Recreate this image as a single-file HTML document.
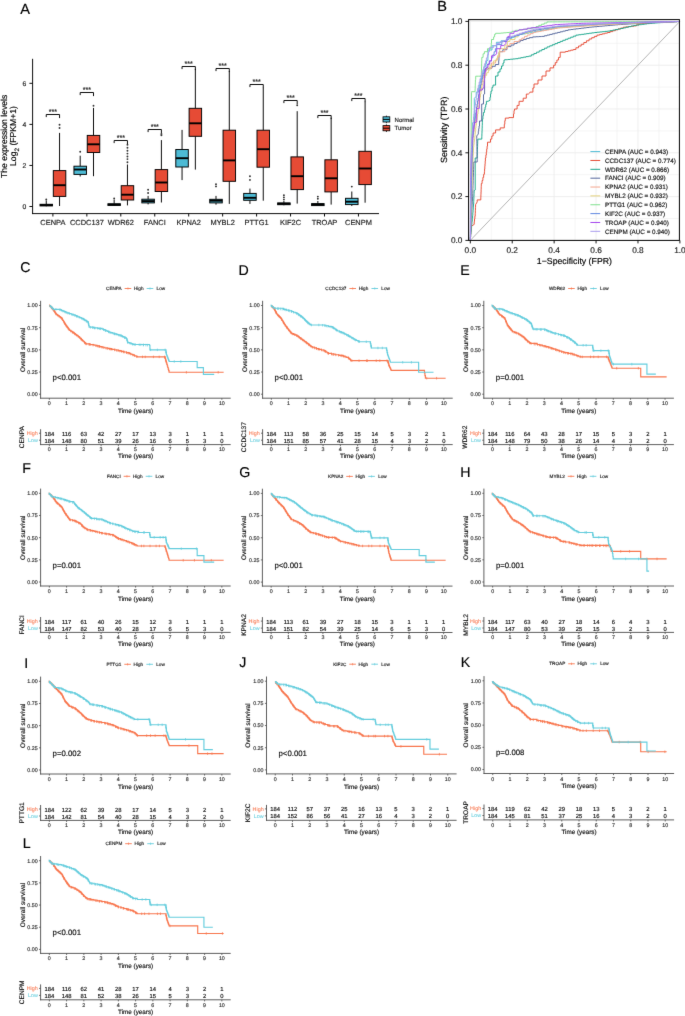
<!DOCTYPE html>
<html><head><meta charset="utf-8"><style>
html,body{margin:0;padding:0;background:#fff;}
body{width:685px;height:1016px;overflow:hidden;}
svg{display:block;will-change:transform;text-rendering:geometricPrecision;}
text{stroke-width:0.16px;font-family:"Liberation Sans", sans-serif;}
</style></head><body>
<svg width="685" height="1016" viewBox="0 0 685 1016">
<defs><filter id="soft" x="0" y="0" width="685" height="1016" filterUnits="userSpaceOnUse" color-interpolation-filters="sRGB"><feConvolveMatrix order="3" kernelMatrix="0.00524 0.06192 0.00524 0.06192 0.73137 0.06192 0.00524 0.06192 0.00524" edgeMode="duplicate"/></filter></defs>
<g filter="url(#soft)">
<rect width="685" height="1016" fill="#fff"/>
<text x="20.3" y="13.8" font-size="14.6" text-anchor="start" fill="#000" stroke="#000" >A</text>
<line x1="32.6" y1="58.8" x2="32.6" y2="214.05" stroke="#000" stroke-width="0.95" />
<line x1="32.15" y1="213.6" x2="379" y2="213.6" stroke="#000" stroke-width="0.95" />
<line x1="29.4" y1="206.5" x2="32.6" y2="206.5" stroke="#000" stroke-width="0.95" />
<text x="26.3" y="208.95" font-size="6.8" text-anchor="end" fill="#222" stroke="#222" >0</text>
<line x1="29.4" y1="165.44" x2="32.6" y2="165.44" stroke="#000" stroke-width="0.95" />
<text x="26.3" y="167.89" font-size="6.8" text-anchor="end" fill="#222" stroke="#222" >2</text>
<line x1="29.4" y1="124.38" x2="32.6" y2="124.38" stroke="#000" stroke-width="0.95" />
<text x="26.3" y="126.83" font-size="6.8" text-anchor="end" fill="#222" stroke="#222" >4</text>
<line x1="29.4" y1="83.32" x2="32.6" y2="83.32" stroke="#000" stroke-width="0.95" />
<text x="26.3" y="85.77" font-size="6.8" text-anchor="end" fill="#222" stroke="#222" >6</text>
<text transform="translate(7.0,136.4) rotate(-90)" font-size="8.65" text-anchor="middle" fill="#000" stroke="#000">The expression levels</text>
<text transform="translate(16.4,136.0) rotate(-90)" font-size="8.65" text-anchor="middle" fill="#000" stroke="#000">Log<tspan font-size="6.4" dy="2.2">2</tspan><tspan dy="-2.2"> (FPKM+1)</tspan></text>
<line x1="52.9" y1="213.6" x2="52.9" y2="216.5" stroke="#000" stroke-width="0.95" />
<text x="52.9" y="225" font-size="7.45" text-anchor="middle" fill="#222" stroke="#222" >CENPA</text>
<line x1="46.25" y1="200.4" x2="46.25" y2="204.3" stroke="#000" stroke-width="0.95" />
<line x1="46.25" y1="205.9" x2="46.25" y2="206.3" stroke="#000" stroke-width="0.95" />
<rect x="40" y="204.3" width="12.5" height="1.6" fill="#4DBBD5" stroke="#000" stroke-width="0.95"/>
<line x1="40" y1="205.1" x2="52.5" y2="205.1" stroke="#000" stroke-width="1.9" />
<circle cx="46.25" cy="199.4" r="0.95" fill="#333"/>
<line x1="59.55" y1="132.9" x2="59.55" y2="170.6" stroke="#000" stroke-width="0.95" />
<line x1="59.55" y1="196.4" x2="59.55" y2="206" stroke="#000" stroke-width="0.95" />
<rect x="53.3" y="170.6" width="12.5" height="25.8" fill="#E64B35" stroke="#000" stroke-width="0.95"/>
<line x1="53.3" y1="185.2" x2="65.8" y2="185.2" stroke="#000" stroke-width="1.9" />
<circle cx="59.55" cy="128" r="0.95" fill="#333"/>
<circle cx="59.55" cy="124.8" r="0.95" fill="#333"/>
<path d="M46.25 117.1V114.5H59.55V118.1" fill="none" stroke="#000" stroke-width="0.95"/>
<text x="52.9" y="114.05" font-size="7" text-anchor="middle" fill="#222" stroke="#222" >***</text>
<line x1="86.85" y1="213.6" x2="86.85" y2="216.5" stroke="#000" stroke-width="0.95" />
<text x="86.85" y="225" font-size="7.45" text-anchor="middle" fill="#222" stroke="#222" >CCDC137</text>
<line x1="80.2" y1="155.7" x2="80.2" y2="166.2" stroke="#000" stroke-width="0.95" />
<line x1="80.2" y1="174.4" x2="80.2" y2="176.5" stroke="#000" stroke-width="0.95" />
<rect x="73.95" y="166.2" width="12.5" height="8.2" fill="#4DBBD5" stroke="#000" stroke-width="0.95"/>
<line x1="73.95" y1="169.5" x2="86.45" y2="169.5" stroke="#000" stroke-width="1.9" />
<circle cx="80.2" cy="151.7" r="0.95" fill="#333"/>
<line x1="93.5" y1="107.9" x2="93.5" y2="135.4" stroke="#000" stroke-width="0.95" />
<line x1="93.5" y1="152.5" x2="93.5" y2="176.2" stroke="#000" stroke-width="0.95" />
<rect x="87.25" y="135.4" width="12.5" height="17.1" fill="#E64B35" stroke="#000" stroke-width="0.95"/>
<line x1="87.25" y1="144.3" x2="99.75" y2="144.3" stroke="#000" stroke-width="1.9" />
<circle cx="93.5" cy="105.8" r="0.95" fill="#333"/>
<path d="M80.2 95.1V92.5H93.5V96.1" fill="none" stroke="#000" stroke-width="0.95"/>
<text x="86.85" y="92.05" font-size="7" text-anchor="middle" fill="#222" stroke="#222" >***</text>
<line x1="120.8" y1="213.6" x2="120.8" y2="216.5" stroke="#000" stroke-width="0.95" />
<text x="120.8" y="225" font-size="7.45" text-anchor="middle" fill="#222" stroke="#222" >WDR62</text>
<line x1="114.15" y1="199.7" x2="114.15" y2="203.8" stroke="#000" stroke-width="0.95" />
<line x1="114.15" y1="205.4" x2="114.15" y2="206" stroke="#000" stroke-width="0.95" />
<rect x="107.9" y="203.8" width="12.5" height="1.6" fill="#4DBBD5" stroke="#000" stroke-width="0.95"/>
<line x1="107.9" y1="204.6" x2="120.4" y2="204.6" stroke="#000" stroke-width="1.9" />
<circle cx="114.15" cy="198.5" r="0.95" fill="#333"/>
<line x1="127.45" y1="164.5" x2="127.45" y2="185.7" stroke="#000" stroke-width="0.95" />
<line x1="127.45" y1="200" x2="127.45" y2="205.4" stroke="#000" stroke-width="0.95" />
<rect x="121.2" y="185.7" width="12.5" height="14.3" fill="#E64B35" stroke="#000" stroke-width="0.95"/>
<line x1="121.2" y1="194.7" x2="133.7" y2="194.7" stroke="#000" stroke-width="1.9" />
<circle cx="127.45" cy="162.3" r="0.95" fill="#333"/>
<circle cx="127.45" cy="159.1" r="0.95" fill="#333"/>
<circle cx="127.45" cy="156.5" r="0.95" fill="#333"/>
<circle cx="127.45" cy="153.6" r="0.95" fill="#333"/>
<circle cx="127.45" cy="150.7" r="0.95" fill="#333"/>
<circle cx="127.45" cy="147.7" r="0.95" fill="#333"/>
<circle cx="127.45" cy="144.8" r="0.95" fill="#333"/>
<path d="M114.15 143.1V140.5H127.45V144.1" fill="none" stroke="#000" stroke-width="0.95"/>
<text x="120.8" y="140.05" font-size="7" text-anchor="middle" fill="#222" stroke="#222" >***</text>
<line x1="154.75" y1="213.6" x2="154.75" y2="216.5" stroke="#000" stroke-width="0.95" />
<text x="154.75" y="225" font-size="7.45" text-anchor="middle" fill="#222" stroke="#222" >FANCI</text>
<line x1="148.1" y1="195.9" x2="148.1" y2="199.2" stroke="#000" stroke-width="0.95" />
<line x1="148.1" y1="202.9" x2="148.1" y2="204.4" stroke="#000" stroke-width="0.95" />
<rect x="141.85" y="199.2" width="12.5" height="3.7" fill="#4DBBD5" stroke="#000" stroke-width="0.95"/>
<line x1="141.85" y1="201.1" x2="154.35" y2="201.1" stroke="#000" stroke-width="1.9" />
<circle cx="148.1" cy="193" r="0.95" fill="#333"/>
<circle cx="148.1" cy="189.8" r="0.95" fill="#333"/>
<line x1="161.4" y1="140.1" x2="161.4" y2="169.6" stroke="#000" stroke-width="0.95" />
<line x1="161.4" y1="191.5" x2="161.4" y2="202.5" stroke="#000" stroke-width="0.95" />
<rect x="155.15" y="169.6" width="12.5" height="21.9" fill="#E64B35" stroke="#000" stroke-width="0.95"/>
<line x1="155.15" y1="182.5" x2="167.65" y2="182.5" stroke="#000" stroke-width="1.9" />
<circle cx="161.4" cy="135.3" r="0.95" fill="#333"/>
<circle cx="161.4" cy="133.9" r="0.95" fill="#333"/>
<path d="M148.1 132.1V129.5H161.4V133.1" fill="none" stroke="#000" stroke-width="0.95"/>
<text x="154.75" y="129.05" font-size="7" text-anchor="middle" fill="#222" stroke="#222" >***</text>
<line x1="188.7" y1="213.6" x2="188.7" y2="216.5" stroke="#000" stroke-width="0.95" />
<text x="188.7" y="225" font-size="7.45" text-anchor="middle" fill="#222" stroke="#222" >KPNA2</text>
<line x1="182.05" y1="129.9" x2="182.05" y2="149.5" stroke="#000" stroke-width="0.95" />
<line x1="182.05" y1="167" x2="182.05" y2="180.1" stroke="#000" stroke-width="0.95" />
<rect x="175.8" y="149.5" width="12.5" height="17.5" fill="#4DBBD5" stroke="#000" stroke-width="0.95"/>
<line x1="175.8" y1="158.2" x2="188.3" y2="158.2" stroke="#000" stroke-width="1.9" />
<line x1="195.35" y1="68.9" x2="195.35" y2="108.3" stroke="#000" stroke-width="0.95" />
<line x1="195.35" y1="136.3" x2="195.35" y2="169.6" stroke="#000" stroke-width="0.95" />
<rect x="189.1" y="108.3" width="12.5" height="28" fill="#E64B35" stroke="#000" stroke-width="0.95"/>
<line x1="189.1" y1="123.3" x2="201.6" y2="123.3" stroke="#000" stroke-width="1.9" />
<path d="M182.05 69.1V66.5H195.35V70.1" fill="none" stroke="#000" stroke-width="0.95"/>
<text x="188.7" y="66.05" font-size="7" text-anchor="middle" fill="#222" stroke="#222" >***</text>
<line x1="222.65" y1="213.6" x2="222.65" y2="216.5" stroke="#000" stroke-width="0.95" />
<text x="222.65" y="225" font-size="7.45" text-anchor="middle" fill="#222" stroke="#222" >MYBL2</text>
<line x1="216" y1="195.9" x2="216" y2="199.3" stroke="#000" stroke-width="0.95" />
<line x1="216" y1="202.9" x2="216" y2="204.7" stroke="#000" stroke-width="0.95" />
<rect x="209.75" y="199.3" width="12.5" height="3.6" fill="#4DBBD5" stroke="#000" stroke-width="0.95"/>
<line x1="209.75" y1="200.7" x2="222.25" y2="200.7" stroke="#000" stroke-width="1.9" />
<circle cx="216" cy="186.4" r="0.95" fill="#333"/>
<circle cx="216" cy="184.2" r="0.95" fill="#333"/>
<line x1="229.3" y1="71.1" x2="229.3" y2="130.2" stroke="#000" stroke-width="0.95" />
<line x1="229.3" y1="181.3" x2="229.3" y2="203.9" stroke="#000" stroke-width="0.95" />
<rect x="223.05" y="130.2" width="12.5" height="51.1" fill="#E64B35" stroke="#000" stroke-width="0.95"/>
<line x1="223.05" y1="160.4" x2="235.55" y2="160.4" stroke="#000" stroke-width="1.9" />
<path d="M216 71.1V68.5H229.3V72.1" fill="none" stroke="#000" stroke-width="0.95"/>
<text x="222.65" y="68.05" font-size="7" text-anchor="middle" fill="#222" stroke="#222" >***</text>
<line x1="256.6" y1="213.6" x2="256.6" y2="216.5" stroke="#000" stroke-width="0.95" />
<text x="256.6" y="225" font-size="7.45" text-anchor="middle" fill="#222" stroke="#222" >PTTG1</text>
<line x1="249.95" y1="188.6" x2="249.95" y2="193.4" stroke="#000" stroke-width="0.95" />
<line x1="249.95" y1="200.3" x2="249.95" y2="203.9" stroke="#000" stroke-width="0.95" />
<rect x="243.7" y="193.4" width="12.5" height="6.9" fill="#4DBBD5" stroke="#000" stroke-width="0.95"/>
<line x1="243.7" y1="197.8" x2="256.2" y2="197.8" stroke="#000" stroke-width="1.9" />
<circle cx="249.95" cy="179.9" r="0.95" fill="#333"/>
<circle cx="249.95" cy="176.2" r="0.95" fill="#333"/>
<line x1="263.25" y1="87.8" x2="263.25" y2="130.2" stroke="#000" stroke-width="0.95" />
<line x1="263.25" y1="167.2" x2="263.25" y2="200.7" stroke="#000" stroke-width="0.95" />
<rect x="257" y="130.2" width="12.5" height="37" fill="#E64B35" stroke="#000" stroke-width="0.95"/>
<line x1="257" y1="149.2" x2="269.5" y2="149.2" stroke="#000" stroke-width="1.9" />
<path d="M249.95 87.1V84.5H263.25V88.1" fill="none" stroke="#000" stroke-width="0.95"/>
<text x="256.6" y="84.05" font-size="7" text-anchor="middle" fill="#222" stroke="#222" >***</text>
<line x1="290.55" y1="213.6" x2="290.55" y2="216.5" stroke="#000" stroke-width="0.95" />
<text x="290.55" y="225" font-size="7.45" text-anchor="middle" fill="#222" stroke="#222" >KIF2C</text>
<line x1="283.9" y1="201" x2="283.9" y2="202.9" stroke="#000" stroke-width="0.95" />
<line x1="283.9" y1="204.7" x2="283.9" y2="205.3" stroke="#000" stroke-width="0.95" />
<rect x="277.65" y="202.9" width="12.5" height="1.8" fill="#4DBBD5" stroke="#000" stroke-width="0.95"/>
<line x1="277.65" y1="203.8" x2="290.15" y2="203.8" stroke="#000" stroke-width="1.9" />
<circle cx="283.9" cy="199.6" r="0.95" fill="#333"/>
<circle cx="283.9" cy="197.4" r="0.95" fill="#333"/>
<circle cx="283.9" cy="195.2" r="0.95" fill="#333"/>
<line x1="297.2" y1="111.2" x2="297.2" y2="156.9" stroke="#000" stroke-width="0.95" />
<line x1="297.2" y1="189.6" x2="297.2" y2="203.6" stroke="#000" stroke-width="0.95" />
<rect x="290.95" y="156.9" width="12.5" height="32.7" fill="#E64B35" stroke="#000" stroke-width="0.95"/>
<line x1="290.95" y1="176.2" x2="303.45" y2="176.2" stroke="#000" stroke-width="1.9" />
<circle cx="297.2" cy="105.3" r="0.95" fill="#333"/>
<path d="M283.9 103.1V100.5H297.2V104.1" fill="none" stroke="#000" stroke-width="0.95"/>
<text x="290.55" y="100.05" font-size="7" text-anchor="middle" fill="#222" stroke="#222" >***</text>
<line x1="324.5" y1="213.6" x2="324.5" y2="216.5" stroke="#000" stroke-width="0.95" />
<text x="324.5" y="225" font-size="7.45" text-anchor="middle" fill="#222" stroke="#222" >TROAP</text>
<line x1="317.85" y1="201" x2="317.85" y2="203.6" stroke="#000" stroke-width="0.95" />
<line x1="317.85" y1="205.6" x2="317.85" y2="205.8" stroke="#000" stroke-width="0.95" />
<rect x="311.6" y="203.6" width="12.5" height="2" fill="#4DBBD5" stroke="#000" stroke-width="0.95"/>
<line x1="311.6" y1="204.6" x2="324.1" y2="204.6" stroke="#000" stroke-width="1.9" />
<circle cx="317.85" cy="198.8" r="0.95" fill="#333"/>
<circle cx="317.85" cy="196.6" r="0.95" fill="#333"/>
<line x1="331.15" y1="117.7" x2="331.15" y2="159.8" stroke="#000" stroke-width="0.95" />
<line x1="331.15" y1="191.9" x2="331.15" y2="204.6" stroke="#000" stroke-width="0.95" />
<rect x="324.9" y="159.8" width="12.5" height="32.1" fill="#E64B35" stroke="#000" stroke-width="0.95"/>
<line x1="324.9" y1="178.3" x2="337.4" y2="178.3" stroke="#000" stroke-width="1.9" />
<path d="M317.85 118.1V115.5H331.15V119.1" fill="none" stroke="#000" stroke-width="0.95"/>
<text x="324.5" y="115.05" font-size="7" text-anchor="middle" fill="#222" stroke="#222" >***</text>
<line x1="358.45" y1="213.6" x2="358.45" y2="216.5" stroke="#000" stroke-width="0.95" />
<text x="358.45" y="225" font-size="7.45" text-anchor="middle" fill="#222" stroke="#222" >CENPM</text>
<line x1="351.8" y1="191.5" x2="351.8" y2="198.3" stroke="#000" stroke-width="0.95" />
<line x1="351.8" y1="204.6" x2="351.8" y2="206" stroke="#000" stroke-width="0.95" />
<rect x="345.55" y="198.3" width="12.5" height="6.3" fill="#4DBBD5" stroke="#000" stroke-width="0.95"/>
<line x1="345.55" y1="201.7" x2="358.05" y2="201.7" stroke="#000" stroke-width="1.9" />
<circle cx="351.8" cy="186.6" r="0.95" fill="#333"/>
<line x1="365.1" y1="101.7" x2="365.1" y2="151.3" stroke="#000" stroke-width="0.95" />
<line x1="365.1" y1="184.6" x2="365.1" y2="202.7" stroke="#000" stroke-width="0.95" />
<rect x="358.85" y="151.3" width="12.5" height="33.3" fill="#E64B35" stroke="#000" stroke-width="0.95"/>
<line x1="358.85" y1="168.5" x2="371.35" y2="168.5" stroke="#000" stroke-width="1.9" />
<path d="M351.8 101.1V98.5H365.1V102.1" fill="none" stroke="#000" stroke-width="0.95"/>
<text x="358.45" y="98.05" font-size="7" text-anchor="middle" fill="#222" stroke="#222" >***</text>
<line x1="386.4" y1="115.6" x2="386.4" y2="123.2" stroke="#000" stroke-width="0.8" />
<rect x="383" y="116.8" width="6.8" height="5.2" fill="#4DBBD5" stroke="#000" stroke-width="0.8"/>
<line x1="383" y1="119.4" x2="389.8" y2="119.4" stroke="#000" stroke-width="1" />
<text x="394.6" y="121.5" font-size="6" text-anchor="start" fill="#222" stroke="#222" >Normal</text>
<line x1="386.4" y1="124.4" x2="386.4" y2="132" stroke="#000" stroke-width="0.8" />
<rect x="383" y="125.6" width="6.8" height="5.2" fill="#E64B35" stroke="#000" stroke-width="0.8"/>
<line x1="383" y1="128.2" x2="389.8" y2="128.2" stroke="#000" stroke-width="1" />
<text x="394.6" y="130.3" font-size="6" text-anchor="start" fill="#222" stroke="#222" >Tumor</text>
<text x="437.2" y="10.5" font-size="14.6" text-anchor="start" fill="#000" stroke="#000" >B</text>
<line x1="470.3" y1="19.6" x2="470.3" y2="240.4" stroke="#EBEBEB" stroke-width="0.85" />
<line x1="491.26" y1="19.6" x2="491.26" y2="240.4" stroke="#EBEBEB" stroke-width="0.5" />
<line x1="468.6" y1="218.5" x2="679.4" y2="218.5" stroke="#EBEBEB" stroke-width="0.5" />
<line x1="512.22" y1="19.6" x2="512.22" y2="240.4" stroke="#EBEBEB" stroke-width="0.85" />
<line x1="468.6" y1="196.6" x2="679.4" y2="196.6" stroke="#EBEBEB" stroke-width="0.85" />
<line x1="533.18" y1="19.6" x2="533.18" y2="240.4" stroke="#EBEBEB" stroke-width="0.5" />
<line x1="468.6" y1="174.7" x2="679.4" y2="174.7" stroke="#EBEBEB" stroke-width="0.5" />
<line x1="554.14" y1="19.6" x2="554.14" y2="240.4" stroke="#EBEBEB" stroke-width="0.85" />
<line x1="468.6" y1="152.8" x2="679.4" y2="152.8" stroke="#EBEBEB" stroke-width="0.85" />
<line x1="575.1" y1="19.6" x2="575.1" y2="240.4" stroke="#EBEBEB" stroke-width="0.5" />
<line x1="468.6" y1="130.9" x2="679.4" y2="130.9" stroke="#EBEBEB" stroke-width="0.5" />
<line x1="596.06" y1="19.6" x2="596.06" y2="240.4" stroke="#EBEBEB" stroke-width="0.85" />
<line x1="468.6" y1="109" x2="679.4" y2="109" stroke="#EBEBEB" stroke-width="0.85" />
<line x1="617.02" y1="19.6" x2="617.02" y2="240.4" stroke="#EBEBEB" stroke-width="0.5" />
<line x1="468.6" y1="87.1" x2="679.4" y2="87.1" stroke="#EBEBEB" stroke-width="0.5" />
<line x1="637.98" y1="19.6" x2="637.98" y2="240.4" stroke="#EBEBEB" stroke-width="0.85" />
<line x1="468.6" y1="65.2" x2="679.4" y2="65.2" stroke="#EBEBEB" stroke-width="0.85" />
<line x1="658.94" y1="19.6" x2="658.94" y2="240.4" stroke="#EBEBEB" stroke-width="0.5" />
<line x1="468.6" y1="43.3" x2="679.4" y2="43.3" stroke="#EBEBEB" stroke-width="0.5" />
<line x1="468.6" y1="21.4" x2="679.4" y2="21.4" stroke="#EBEBEB" stroke-width="0.85" />
<line x1="470.3" y1="240.4" x2="679.9" y2="21.4" stroke="#B5B5B5" stroke-width="1" />
<path d="M470.40 240.00V237.33H470.44V234.67H470.48V232.00H470.52V229.33H470.56V226.67H470.60V224.00H470.64V221.33H470.68V218.67H470.72V216.00H470.76V213.33H470.80V210.67H470.84V208.00H470.88V205.33H470.92V202.67H470.96V200.00H471.00V197.33H471.05V194.67H471.11V192.00H471.16V189.33H471.21V186.67H471.27V184.00H471.32V181.33H471.37V178.67H471.43V176.00H471.48V173.33H471.53V170.67H471.59V168.00H471.64V165.33H471.69V162.67H471.75V160.00H471.80V157.27H471.86V154.55H471.93V151.82H471.99V149.09H472.05V146.36H472.12V143.64H472.18V140.91H472.25V138.18H472.31V135.45H472.37V132.73H472.44V130.00H472.50V126.35H472.65V122.70H472.80L474.30 122.00L474.30 98.50L476.20 96.20V92.10H478.30V88.00H479.30V85.10H479.95V82.20H480.60V79.15H481.45V76.10H482.30V73.05H483.15V70.00H484.00V66.80H485.30V63.60H486.60V60.40H487.90L488.00 55.00V50.00H492.00V45.80H496.40L496.40 44.00V42.30H501.00V40.80H506.00V39.64H508.80V38.48H511.60V37.32H514.40V36.16H517.20V35.00H520.00V34.43H522.86V33.86H525.71V33.29H528.57V32.71H531.43V32.14H534.29V31.57H537.14V31.00H540.00V30.50H542.86V30.00H545.71V29.50H548.57V29.00H551.43V28.50H554.29V28.00H557.14V27.50H560.00V27.30H562.67V27.10H565.33V26.90H568.00V26.70H570.67V26.50H573.33V26.30H576.00V26.10H578.67V25.90H581.33V25.70H584.00V25.50H586.67V25.30H589.33V25.10H592.00V24.90H594.67V24.70H597.33V24.50H600.00V24.40H602.67V24.30H605.33V24.20H608.00V24.10H610.67V24.00H613.33V23.90H616.00V23.80H618.67V23.70H621.33V23.60H624.00V23.50H626.67V23.40H629.33V23.30H632.00V23.20H634.67V23.10H637.33V23.00H640.00V22.90H642.66V22.80H645.32V22.70H647.98V22.60H650.64V22.50H653.30V22.40H655.96V22.30H658.62V22.20H661.28V22.10H663.94V22.00H666.60V21.90H669.26V21.80H671.92V21.70H674.58V21.60H677.24V21.50H679.90" fill="none" stroke="#4DBBD5" stroke-width="0.95" stroke-linejoin="miter"/>
<path d="M470.40 240.00V237.33H470.60V234.67H470.80V232.00H471.00V229.00H471.30V226.00H471.60L474.20 224.40V221.67H474.53V218.93H474.87V216.20H475.20V213.27H475.32V210.35H475.45V207.43H475.57V204.50H475.70L477.20 201.90V199.90H480.80V197.24H480.90V194.58H481.00V191.92H481.10V189.26H481.20V186.60H481.30V183.55H482.10V180.50H482.90V177.40H483.65V174.30H484.40V171.66H484.60V169.02H484.80V166.38H485.00V163.74H485.20V161.10H485.40V158.00H485.90V155.05H486.30V152.10H486.70V149.15H487.10V146.20H487.50V142.20H490.50V139.10H491.80V136.00H493.10V133.00H495.60V129.90H500.20V127.90H504.30V124.30H504.80V120.70H505.30V118.10H508.90V117.60H513.50V114.05H514.00V110.50H514.50V109.00H517.10V105.40H519.10V101.30H523.20V98.20H526.30V94.10H528.30L529.90 92.60V92.10H532.90V88.00H534.00V84.00H538.00V80.00H542.00V76.00H546.00V71.00H550.00V67.90H553.60V65.28H555.25V62.65H556.90V60.02H558.55V57.40H560.20V52.20H565.40V51.53H568.02V50.85H570.65V50.17H573.27V49.50H575.90V47.77H578.53V46.03H581.17V44.30H583.80V42.53H586.43V40.77H589.07V39.00H591.70V37.70H594.33V36.40H596.97V35.10H599.60V34.45H602.23V33.80H604.85V33.15H607.48V32.50H610.10V31.60H612.73V30.70H615.37V29.80H618.00V28.93H620.63V28.07H623.27V27.20H625.90V26.88H628.52V26.55H631.15V26.22H633.77V25.90H636.40V24.85H639.00V23.80H641.60V23.52H644.23V23.25H646.85V22.98H649.48V22.70H652.10V22.58H654.88V22.46H657.66V22.34H660.44V22.22H663.22V22.10H666.00V21.98H668.78V21.86H671.56V21.74H674.34V21.62H677.12V21.50H679.90" fill="none" stroke="#E64B35" stroke-width="0.95" stroke-linejoin="miter"/>
<path d="M470.40 240.00V236.88H470.70V233.75H471.00V230.62H471.30V227.50H471.60V224.43H471.93V221.37H472.27V218.30H472.60V215.44H472.82V212.58H473.04V209.72H473.26V206.86H473.48V204.00H473.70V201.34H473.80V198.68H473.90V196.02H474.00V193.36H474.10V190.70H474.20L475.20 190.00L475.20 162.00V158.00H477.20V155.18H477.30V152.37H477.40V149.55H477.50V146.73H477.60V143.92H477.70V141.10H477.80V139.10H481.80V136.37H481.90V133.63H482.00V130.90H482.10V128.17H482.20V125.43H482.30V122.70H482.40V119.15H482.90V115.60H483.40V112.50H484.40V109.80H485.07V107.10H485.73V104.40H486.40V101.30H488.00L490.00 100.30V97.20H490.50V94.10H491.00V91.10H492.00V87.30H493.00V85.10H495.60L495.60 80.00V76.00H498.00V72.00H500.00V69.00H501.50V66.00H503.00V63.00H504.00V60.00H505.00V59.74H507.62V59.48H510.24V59.22H512.86V58.96H515.48V58.70H518.10V58.18H520.74V57.66H523.38V57.14H526.02V56.62H528.66V56.10H531.30V54.79H533.93V53.47H536.56V52.16H539.19V50.84H541.81V49.53H544.44V48.21H547.07V46.90H549.70V45.80H552.32V44.70H554.93V43.60H557.55V42.50H560.17V41.40H562.78V40.30H565.40V39.26H568.04V38.22H570.68V37.18H573.32V36.14H575.96V35.10H578.60V34.73H581.23V34.36H583.86V33.99H586.49V33.61H589.11V33.24H591.74V32.87H594.37V32.50H597.00V32.22H599.62V31.94H602.24V31.66H604.86V31.38H607.48V31.10H610.10V30.58H612.72V30.06H615.34V29.54H617.96V29.02H620.58V28.50H623.20V27.88H625.84V27.26H628.48V26.64H631.12V26.02H633.76V25.40H636.40V25.05H639.02V24.70H641.63V24.35H644.25V24.00H646.87V23.65H649.48V23.30H652.10V23.12H654.88V22.94H657.66V22.76H660.44V22.58H663.22V22.40H666.00V22.22H668.78V22.04H671.56V21.86H674.34V21.68H677.12V21.50H679.90" fill="none" stroke="#1BA68C" stroke-width="0.95" stroke-linejoin="miter"/>
<path d="M470.40 240.00V237.22H470.52V234.44H470.64V231.67H470.77V228.89H470.89V226.11H471.01V223.33H471.13V220.56H471.26V217.78H471.38V215.00H471.50V212.33H471.68V209.67H471.87V207.00H472.05V204.33H472.23V201.67H472.42V199.00H472.60V196.33H472.69V193.67H472.78V191.00H472.88V188.33H472.97V185.67H473.06V183.00H473.15V180.33H473.24V177.67H473.33V175.00H473.43V172.33H473.52V169.67H473.61V167.00H473.70V162.00H477.20V159.40H477.15V156.80H477.10V154.20H477.05V151.60H477.00V149.00H476.95V146.40H476.90V143.80H476.85V141.20H476.80V138.60H476.75V136.00H476.70L478.30 134.00V131.33H478.70V128.67H479.10V126.00H479.50L479.50 121.00L481.70 121.00L481.70 107.00V104.00H483.50L483.50 94.60L484.60 94.00L484.60 80.00V76.67H484.73V73.33H484.87V70.00H485.00V69.05H488.50V68.10H492.00V66.30H495.35V64.50H498.70V60.65H498.95V56.80H499.20V51.70H502.80V49.70H506.90V46.60H511.00V45.05H514.05V43.50H517.10V42.00H520.15V40.50H523.20V39.45H526.30V38.40H529.40V37.65H532.70V36.90H536.00V36.73H538.80V36.57H541.60V36.40H544.40V35.74H547.03V35.08H549.66V34.42H552.29V33.76H554.92V33.10H557.55V32.44H560.18V31.78H562.81V31.12H565.44V30.46H568.07V29.80H570.70V29.48H573.33V29.15H575.95V28.82H578.58V28.50H581.20V28.18H583.83V27.85H586.45V27.52H589.08V27.20H591.70V26.96H594.33V26.73H596.95V26.49H599.58V26.25H602.21V26.02H604.84V25.78H607.46V25.55H610.09V25.31H612.72V25.07H615.35V24.84H617.97V24.60H620.60V24.44H623.23V24.28H625.85V24.11H628.48V23.95H631.10V23.79H633.73V23.62H636.35V23.46H638.98V23.30H641.60V23.17H644.34V23.04H647.07V22.91H649.81V22.79H652.54V22.66H655.28V22.53H658.01V22.40H660.75V22.27H663.49V22.14H666.22V22.01H668.96V21.89H671.69V21.76H674.43V21.63H677.16V21.50H679.90" fill="none" stroke="#55679C" stroke-width="0.95" stroke-linejoin="miter"/>
<path d="M470.40 240.00V237.33H470.45V234.67H470.51V232.00H470.56V229.33H470.61V226.67H470.67V224.00H470.72V221.33H470.77V218.67H470.83V216.00H470.88V213.33H470.93V210.67H470.99V208.00H471.04V205.33H471.09V202.67H471.15V200.00H471.20V197.27H471.27V194.55H471.35V191.82H471.42V189.09H471.49V186.36H471.56V183.64H471.64V180.91H471.71V178.18H471.78V175.45H471.85V172.73H471.93V170.00H472.00V167.27H472.09V164.55H472.18V161.82H472.27V159.09H472.36V156.36H472.45V153.64H472.55V150.91H472.64V148.18H472.73V145.45H472.82V142.73H472.91V140.00H473.00V137.00H473.40V134.00H473.80V131.00H474.20V128.00H474.60V125.00H475.00V122.00H475.40V119.00H475.80V116.00H476.20V113.00H476.60V110.00H477.00V107.00H477.50V104.00H478.00V101.00H478.50V98.00H479.00V94.67H479.67V91.33H480.33V88.00H481.00V84.67H481.83V81.33H482.67V78.00H483.50V74.55H484.95V71.10H486.40V68.10H491.50V63.00H495.60V59.90H497.65V56.80H499.70V51.70H504.80V48.65H507.35V45.60H509.90V43.50H514.00V41.50H519.10V39.80H521.83V38.10H524.57V36.40H527.30V35.03H530.20V33.67H533.10V32.30H536.00V31.82H538.67V31.34H541.33V30.87H544.00V30.39H546.67V29.91H549.33V29.43H552.00V28.96H554.67V28.48H557.33V28.00H560.00V27.80H562.67V27.60H565.33V27.40H568.00V27.20H570.67V27.00H573.33V26.80H576.00V26.60H578.67V26.40H581.33V26.20H584.00V26.00H586.67V25.80H589.33V25.60H592.00V25.40H594.67V25.20H597.33V25.00H600.00V24.87H602.67V24.73H605.33V24.60H608.00V24.47H610.67V24.33H613.33V24.20H616.00V24.07H618.67V23.93H621.33V23.80H624.00V23.67H626.67V23.53H629.33V23.40H632.00V23.27H634.67V23.13H637.33V23.00H640.00V22.90H642.66V22.80H645.32V22.70H647.98V22.60H650.64V22.50H653.30V22.40H655.96V22.30H658.62V22.20H661.28V22.10H663.94V22.00H666.60V21.90H669.26V21.80H671.92V21.70H674.58V21.60H677.24V21.50H679.90" fill="none" stroke="#F4A68E" stroke-width="0.95" stroke-linejoin="miter"/>
<path d="M470.40 240.00V237.31H470.47V234.62H470.54V231.92H470.61V229.23H470.68V226.54H470.75V223.85H470.82V221.15H470.88V218.46H470.95V215.77H471.02V213.08H471.09V210.38H471.16V207.69H471.23V205.00H471.30V202.27H471.40V199.55H471.50V196.82H471.60V194.09H471.70V191.36H471.80V188.64H471.90V185.91H472.00V183.18H472.10V180.45H472.20V177.73H472.30V175.00H472.40V172.22H472.52V169.44H472.64V166.67H472.77V163.89H472.89V161.11H473.01V158.33H473.13V155.56H473.26V152.78H473.38V150.00H473.50V147.25H473.81V144.50H474.12V141.75H474.44V139.00H474.75V136.25H475.06V133.50H475.38V130.75H475.69V128.00H476.00V125.20H476.40V122.40H476.80V119.60H477.20V116.80H477.60V114.00H478.00V111.20H478.40V108.40H478.80V105.60H479.20V102.80H479.60V100.00H480.00V97.00H480.50V94.00H481.00V91.00H481.50V88.00H482.00V84.67H483.00V81.33H484.00V78.00H485.00V75.33H486.67V72.67H488.33V70.00H490.00V65.00H493.60V60.90H496.70V58.17H497.70V55.43H498.70V52.70H499.70V48.70H504.80V45.10H507.35V41.50H509.90V39.50H515.00V36.90H518.10V34.30H521.20V33.80H524.25V33.30H527.30V32.30H530.20V31.30H533.10V30.30H536.00V29.93H538.67V29.57H541.33V29.20H544.00V28.83H546.67V28.47H549.33V28.10H552.00V27.73H554.67V27.37H557.33V27.00H560.00V26.83H562.67V26.67H565.33V26.50H568.00V26.33H570.67V26.17H573.33V26.00H576.00V25.83H578.67V25.67H581.33V25.50H584.00V25.33H586.67V25.17H589.33V25.00H592.00V24.83H594.67V24.67H597.33V24.50H600.00V24.39H602.67V24.27H605.33V24.16H608.00V24.05H610.67V23.93H613.33V23.82H616.00V23.71H618.67V23.59H621.33V23.48H624.00V23.37H626.67V23.25H629.33V23.14H632.00V23.03H634.67V22.91H637.33V22.80H640.00V22.71H642.66V22.63H645.32V22.54H647.98V22.45H650.64V22.37H653.30V22.28H655.96V22.19H658.62V22.11H661.28V22.02H663.94V21.93H666.60V21.85H669.26V21.76H671.92V21.67H674.58V21.59H677.24V21.50H679.90" fill="none" stroke="#E3D27C" stroke-width="0.95" stroke-linejoin="miter"/>
<path d="M470.40 240.00V237.33H470.42V234.67H470.44V232.00H470.46V229.33H470.48V226.67H470.50V224.00H470.52V221.33H470.54V218.67H470.56V216.00H470.58V213.33H470.60V210.67H470.62V208.00H470.64V205.33H470.66V202.67H470.68V200.00H470.70V197.33H470.73V194.67H470.75V192.00H470.78V189.33H470.81V186.67H470.83V184.00H470.86V181.33H470.89V178.67H470.91V176.00H470.94V173.33H470.97V170.67H470.99V168.00H471.02V165.33H471.05V162.67H471.07V160.00H471.10L471.30 120.00L471.50 92.40V91.70H475.10V88.78H475.20V85.85H475.30V82.92H475.40V80.00H475.50L475.70 79.30V76.20H478.30L481.30 76.20V73.14H481.40V70.08H481.50V67.02H481.60V63.96H481.70V60.90H481.80V57.35H483.10V53.80H484.40V51.70H487.50V48.70H491.00V45.85H491.25V43.00H491.50V39.50H493.60V36.90H494.60V34.30H495.60V33.30H500.70V33.05H503.52V32.80H506.35V32.55H509.18V32.30H512.00V31.30H515.55V30.30H519.10V29.93H521.83V29.57H524.57V29.20H527.30V28.70H530.20V28.20H533.10V27.70H536.00V26.54H538.74V25.38H541.48V24.22H544.22V23.06H546.96V21.90H549.70V21.89H552.30V21.88H554.91V21.88H557.51V21.87H560.12V21.86H562.72V21.85H565.32V21.84H567.93V21.84H570.53V21.83H573.14V21.82H575.74V21.81H578.34V21.80H580.95V21.80H583.55V21.79H586.16V21.78H588.76V21.77H591.36V21.76H593.97V21.76H596.57V21.75H599.18V21.74H601.78V21.73H604.38V21.72H606.99V21.72H609.59V21.71H612.20V21.70H614.80V21.69H617.40V21.68H620.01V21.68H622.61V21.67H625.22V21.66H627.82V21.65H630.42V21.64H633.03V21.64H635.63V21.63H638.24V21.62H640.84V21.61H643.44V21.60H646.05V21.60H648.65V21.59H651.26V21.58H653.86V21.57H656.46V21.56H659.07V21.56H661.67V21.55H664.28V21.54H666.88V21.53H669.48V21.52H672.09V21.52H674.69V21.51H677.30V21.50H679.90" fill="none" stroke="#7FE08E" stroke-width="0.95" stroke-linejoin="miter"/>
<path d="M470.40 240.00V237.31H470.45V234.62H470.49V231.92H470.54V229.23H470.58V226.54H470.63V223.85H470.68V221.15H470.72V218.46H470.77V215.77H470.82V213.08H470.86V210.38H470.91V207.69H470.95V205.00H471.00V202.31H471.06V199.62H471.12V196.92H471.18V194.23H471.25V191.54H471.31V188.85H471.37V186.15H471.43V183.46H471.49V180.77H471.55V178.08H471.62V175.38H471.68V172.69H471.74V170.00H471.80V167.27H471.89V164.55H471.98V161.82H472.07V159.09H472.16V156.36H472.25V153.64H472.35V150.91H472.44V148.18H472.53V145.45H472.62V142.73H472.71V140.00H472.80V137.33H473.08V134.67H473.37V132.00H473.65V129.33H473.93V126.67H474.22V124.00H474.50V121.20H474.90V118.40H475.30V115.60H475.70V112.80H476.10V110.00H476.50V107.00H477.00V104.00H477.50V101.00H478.00V98.00H478.50V94.67H479.17V91.33H479.83V88.00H480.50V85.00H481.12V82.00H481.75V79.00H482.38V76.00H483.00V73.33H484.33V70.67H485.67V68.00H487.00V64.45H489.25V60.90H491.50V57.85H492.80V54.80H494.10V51.75H495.40V48.70H496.70V44.60H501.80V41.50H506.90V37.40H512.00V36.40H515.55V35.40H519.10V34.37H521.83V33.33H524.57V32.30H527.30V31.63H530.20V30.97H533.10V30.30H536.00V29.88H538.67V29.46H541.33V29.03H544.00V28.61H546.67V28.19H549.33V27.77H552.00V27.34H554.67V26.92H557.33V26.50H560.00V26.33H562.67V26.17H565.33V26.00H568.00V25.83H570.67V25.67H573.33V25.50H576.00V25.33H578.67V25.17H581.33V25.00H584.00V24.83H586.67V24.67H589.33V24.50H592.00V24.33H594.67V24.17H597.33V24.00H600.00V23.91H602.67V23.81H605.33V23.72H608.00V23.63H610.67V23.53H613.33V23.44H616.00V23.35H618.67V23.25H621.33V23.16H624.00V23.07H626.67V22.97H629.33V22.88H632.00V22.79H634.67V22.69H637.33V22.60H640.00V22.53H642.66V22.45H645.32V22.38H647.98V22.31H650.64V22.23H653.30V22.16H655.96V22.09H658.62V22.01H661.28V21.94H663.94V21.87H666.60V21.79H669.26V21.72H671.92V21.65H674.58V21.57H677.24V21.50H679.90" fill="none" stroke="#5F86E0" stroke-width="0.95" stroke-linejoin="miter"/>
<path d="M470.40 240.00L470.60 180.00V177.27H470.68V174.55H470.76V171.82H470.85V169.09H470.93V166.36H471.01V163.64H471.09V160.91H471.17V158.18H471.25V155.45H471.34V152.73H471.42V150.00H471.50V147.33H471.68V144.67H471.87V142.00H472.05V139.33H472.23V136.67H472.42V134.00H472.60V131.18H473.12V128.35H473.65V125.53H474.18V122.70H474.70L476.70 122.00L476.70 109.50V108.40H479.30L479.30 93.10V90.00H482.40L482.90 88.00L483.90 88.00V84.80H484.15V81.60H484.40V78.40H484.65V75.20H484.90V71.65H485.65V68.10H486.40L488.00 67.00V63.95H489.75V60.90H491.50V55.80H494.10L496.70 53.80V48.70H500.70V45.60H503.80L505.90 43.50V40.00H507.90V36.40H509.90V33.30H514.00V31.30H517.10L519.10 30.30V29.80H523.20V29.20H527.30V28.20H531.40V27.70H536.00V27.31H538.69V26.93H541.38V26.54H544.06V26.15H546.75V25.76H549.44V25.38H552.12V24.99H554.81V24.60H557.50V24.47H560.13V24.34H562.76V24.21H565.39V24.08H568.02V23.95H570.65V23.82H573.28V23.69H575.91V23.56H578.54V23.43H581.17V23.30H583.80V23.25H586.47V23.20H589.14V23.15H591.81V23.10H594.48V23.05H597.15V23.00H599.82V22.95H602.49V22.90H605.16V22.85H607.82V22.80H610.49V22.75H613.16V22.70H615.83V22.65H618.50V22.60H621.17V22.55H623.84V22.50H626.51V22.45H629.18V22.40H631.85V22.35H634.52V22.30H637.19V22.25H639.86V22.20H642.53V22.15H645.20V22.10H647.87V22.05H650.54V22.00H653.21V21.95H655.88V21.90H658.54V21.85H661.21V21.80H663.88V21.75H666.55V21.70H669.22V21.65H671.89V21.60H674.56V21.55H677.23V21.50H679.90" fill="none" stroke="#A445EE" stroke-width="0.95" stroke-linejoin="miter"/>
<path d="M470.40 240.00L470.50 200.00V197.31H470.54V194.62H470.58V191.92H470.62V189.23H470.65V186.54H470.69V183.85H470.73V181.15H470.77V178.46H470.81V175.77H470.85V173.08H470.88V170.38H470.92V167.69H470.96V165.00H471.00V162.22H471.09V159.44H471.18V156.67H471.27V153.89H471.36V151.11H471.44V148.33H471.53V145.56H471.62V142.78H471.71V140.00H471.80V137.14H472.04V134.29H472.29V131.43H472.53V128.57H472.77V125.71H473.01V122.86H473.26V120.00H473.50V117.00H473.90V114.00H474.30V111.00H474.70V108.00H475.10V105.00H475.50V102.40H475.90V99.80H476.30V97.20H476.70V94.60H477.10V92.00H477.50V88.67H478.33V85.33H479.17V82.00H480.00V78.67H481.00V75.33H482.00V72.00H483.00V69.22H483.85V66.45H484.70V63.67H485.55V60.90H486.40V57.83H487.43V54.77H488.47V51.70H489.50V47.60H493.60V45.55H496.65V43.50H499.70V42.00H503.30V40.50H506.90V38.45H510.45V36.40H514.00V35.37H516.73V34.33H519.47V33.30H522.20V32.48H524.96V31.66H527.72V30.84H530.48V30.02H533.24V29.20H536.00V28.84H538.67V28.49H541.33V28.13H544.00V27.78H546.67V27.42H549.33V27.07H552.00V26.71H554.67V26.36H557.33V26.00H560.00V25.85H562.67V25.71H565.33V25.56H568.00V25.41H570.67V25.27H573.33V25.12H576.00V24.97H578.67V24.83H581.33V24.68H584.00V24.53H586.67V24.39H589.33V24.24H592.00V24.09H594.67V23.95H597.33V23.80H600.00V23.71H602.67V23.61H605.33V23.52H608.00V23.43H610.67V23.33H613.33V23.24H616.00V23.15H618.67V23.05H621.33V22.96H624.00V22.87H626.67V22.77H629.33V22.68H632.00V22.59H634.67V22.49H637.33V22.40H640.00V22.34H642.66V22.28H645.32V22.22H647.98V22.16H650.64V22.10H653.30V22.04H655.96V21.98H658.62V21.92H661.28V21.86H663.94V21.80H666.60V21.74H669.26V21.68H671.92V21.62H674.58V21.56H677.24V21.50H679.90" fill="none" stroke="#AA9DEE" stroke-width="0.95" stroke-linejoin="miter"/>
<rect x="468.6" y="19.6" width="210.8" height="220.8" fill="none" stroke="#000" stroke-width="1.0"/>
<line x1="465.4" y1="240.4" x2="468.6" y2="240.4" stroke="#000" stroke-width="0.9" />
<line x1="470.3" y1="240.4" x2="470.3" y2="243.4" stroke="#000" stroke-width="0.9" />
<text x="462.5" y="243.25" font-size="8.3" text-anchor="end" fill="#222" stroke="#222" >0.0</text>
<text x="470.3" y="252.6" font-size="8.3" text-anchor="middle" fill="#222" stroke="#222" >0.0</text>
<line x1="465.4" y1="196.6" x2="468.6" y2="196.6" stroke="#000" stroke-width="0.9" />
<line x1="512.22" y1="240.4" x2="512.22" y2="243.4" stroke="#000" stroke-width="0.9" />
<text x="462.5" y="199.45" font-size="8.3" text-anchor="end" fill="#222" stroke="#222" >0.2</text>
<text x="512.22" y="252.6" font-size="8.3" text-anchor="middle" fill="#222" stroke="#222" >0.2</text>
<line x1="465.4" y1="152.8" x2="468.6" y2="152.8" stroke="#000" stroke-width="0.9" />
<line x1="554.14" y1="240.4" x2="554.14" y2="243.4" stroke="#000" stroke-width="0.9" />
<text x="462.5" y="155.65" font-size="8.3" text-anchor="end" fill="#222" stroke="#222" >0.4</text>
<text x="554.14" y="252.6" font-size="8.3" text-anchor="middle" fill="#222" stroke="#222" >0.4</text>
<line x1="465.4" y1="109" x2="468.6" y2="109" stroke="#000" stroke-width="0.9" />
<line x1="596.06" y1="240.4" x2="596.06" y2="243.4" stroke="#000" stroke-width="0.9" />
<text x="462.5" y="111.85" font-size="8.3" text-anchor="end" fill="#222" stroke="#222" >0.6</text>
<text x="596.06" y="252.6" font-size="8.3" text-anchor="middle" fill="#222" stroke="#222" >0.6</text>
<line x1="465.4" y1="65.2" x2="468.6" y2="65.2" stroke="#000" stroke-width="0.9" />
<line x1="637.98" y1="240.4" x2="637.98" y2="243.4" stroke="#000" stroke-width="0.9" />
<text x="462.5" y="68.05" font-size="8.3" text-anchor="end" fill="#222" stroke="#222" >0.8</text>
<text x="637.98" y="252.6" font-size="8.3" text-anchor="middle" fill="#222" stroke="#222" >0.8</text>
<line x1="465.4" y1="21.4" x2="468.6" y2="21.4" stroke="#000" stroke-width="0.9" />
<line x1="679.9" y1="240.4" x2="679.9" y2="243.4" stroke="#000" stroke-width="0.9" />
<text x="462.5" y="24.25" font-size="8.3" text-anchor="end" fill="#222" stroke="#222" >1.0</text>
<text x="679.9" y="252.6" font-size="8.3" text-anchor="middle" fill="#222" stroke="#222" >1.0</text>
<text transform="translate(446.6,129.8) rotate(-90)" font-size="8.95" text-anchor="middle" fill="#000" stroke="#000">Sensitivity (TPR)</text>
<text x="574.4" y="263.5" font-size="8.75" text-anchor="middle" fill="#000" stroke="#000" >1−Specificity (FPR)</text>
<line x1="590.4" y1="151.6" x2="600.2" y2="151.6" stroke="#4DBBD5" stroke-width="1" />
<text x="605" y="153.8" font-size="6.3" text-anchor="start" fill="#111" stroke="#111" >CENPA (AUC = 0.943)</text>
<line x1="590.4" y1="160.46" x2="600.2" y2="160.46" stroke="#E64B35" stroke-width="1" />
<text x="605" y="162.66" font-size="6.3" text-anchor="start" fill="#111" stroke="#111" >CCDC137 (AUC = 0.774)</text>
<line x1="590.4" y1="169.32" x2="600.2" y2="169.32" stroke="#1BA68C" stroke-width="1" />
<text x="605" y="171.52" font-size="6.3" text-anchor="start" fill="#111" stroke="#111" >WDR62 (AUC = 0.866)</text>
<line x1="590.4" y1="178.18" x2="600.2" y2="178.18" stroke="#55679C" stroke-width="1" />
<text x="605" y="180.38" font-size="6.3" text-anchor="start" fill="#111" stroke="#111" >FANCI (AUC = 0.909)</text>
<line x1="590.4" y1="187.04" x2="600.2" y2="187.04" stroke="#F4A68E" stroke-width="1" />
<text x="605" y="189.24" font-size="6.3" text-anchor="start" fill="#111" stroke="#111" >KPNA2 (AUC = 0.931)</text>
<line x1="590.4" y1="195.9" x2="600.2" y2="195.9" stroke="#E3D27C" stroke-width="1" />
<text x="605" y="198.1" font-size="6.3" text-anchor="start" fill="#111" stroke="#111" >MYBL2 (AUC = 0.932)</text>
<line x1="590.4" y1="204.76" x2="600.2" y2="204.76" stroke="#7FE08E" stroke-width="1" />
<text x="605" y="206.96" font-size="6.3" text-anchor="start" fill="#111" stroke="#111" >PTTG1 (AUC = 0.962)</text>
<line x1="590.4" y1="213.62" x2="600.2" y2="213.62" stroke="#5F86E0" stroke-width="1" />
<text x="605" y="215.82" font-size="6.3" text-anchor="start" fill="#111" stroke="#111" >KIF2C (AUC = 0.937)</text>
<line x1="590.4" y1="222.48" x2="600.2" y2="222.48" stroke="#A445EE" stroke-width="1" />
<text x="605" y="224.68" font-size="6.3" text-anchor="start" fill="#111" stroke="#111" >TROAP (AUC = 0.940)</text>
<line x1="590.4" y1="231.34" x2="600.2" y2="231.34" stroke="#AA9DEE" stroke-width="1" />
<text x="605" y="233.54" font-size="6.3" text-anchor="start" fill="#111" stroke="#111" >CENPM (AUC = 0.940)</text>
<text x="20.3" y="272" font-size="14.2" text-anchor="start" fill="#000" stroke="#000" >C</text>
<text x="106.07" y="290.15" font-size="4.65" text-anchor="start" fill="#222" stroke="#222" >CENPA</text>
<line x1="124.64" y1="288.5" x2="131.24" y2="288.5" stroke="#F8774F" stroke-width="0.9" />
<line x1="127.94" y1="287.3" x2="127.94" y2="289.7" stroke="#F8774F" stroke-width="0.6" />
<text x="133.94" y="290.15" font-size="4.65" text-anchor="start" fill="#222" stroke="#222" >High</text>
<line x1="146.7" y1="288.5" x2="153.3" y2="288.5" stroke="#65CDDD" stroke-width="0.9" />
<line x1="150" y1="287.3" x2="150" y2="289.7" stroke="#65CDDD" stroke-width="0.6" />
<text x="156.6" y="290.15" font-size="4.65" text-anchor="start" fill="#222" stroke="#222" >Low</text>
<line x1="40.6" y1="300.8" x2="40.6" y2="398.65" stroke="#4D4D4D" stroke-width="0.9" />
<line x1="40.15" y1="398.2" x2="230.7" y2="398.2" stroke="#4D4D4D" stroke-width="0.9" />
<line x1="39" y1="305.5" x2="40.6" y2="305.5" stroke="#4D4D4D" stroke-width="0.8" />
<text x="37.6" y="307.4" font-size="5.3" text-anchor="end" fill="#333" stroke="#333" >1.00</text>
<line x1="39" y1="327.68" x2="40.6" y2="327.68" stroke="#4D4D4D" stroke-width="0.8" />
<text x="37.6" y="329.57" font-size="5.3" text-anchor="end" fill="#333" stroke="#333" >0.75</text>
<line x1="39" y1="349.85" x2="40.6" y2="349.85" stroke="#4D4D4D" stroke-width="0.8" />
<text x="37.6" y="351.75" font-size="5.3" text-anchor="end" fill="#333" stroke="#333" >0.50</text>
<line x1="39" y1="372.02" x2="40.6" y2="372.02" stroke="#4D4D4D" stroke-width="0.8" />
<text x="37.6" y="373.92" font-size="5.3" text-anchor="end" fill="#333" stroke="#333" >0.25</text>
<line x1="39" y1="394.2" x2="40.6" y2="394.2" stroke="#4D4D4D" stroke-width="0.8" />
<text x="37.6" y="396.1" font-size="5.3" text-anchor="end" fill="#333" stroke="#333" >0.00</text>
<line x1="49.35" y1="398.2" x2="49.35" y2="399.8" stroke="#4D4D4D" stroke-width="0.8" />
<text x="49.35" y="405.2" font-size="5.3" text-anchor="middle" fill="#333" stroke="#333" >0</text>
<line x1="66.6" y1="398.2" x2="66.6" y2="399.8" stroke="#4D4D4D" stroke-width="0.8" />
<text x="66.6" y="405.2" font-size="5.3" text-anchor="middle" fill="#333" stroke="#333" >1</text>
<line x1="83.85" y1="398.2" x2="83.85" y2="399.8" stroke="#4D4D4D" stroke-width="0.8" />
<text x="83.85" y="405.2" font-size="5.3" text-anchor="middle" fill="#333" stroke="#333" >2</text>
<line x1="101.1" y1="398.2" x2="101.1" y2="399.8" stroke="#4D4D4D" stroke-width="0.8" />
<text x="101.1" y="405.2" font-size="5.3" text-anchor="middle" fill="#333" stroke="#333" >3</text>
<line x1="118.35" y1="398.2" x2="118.35" y2="399.8" stroke="#4D4D4D" stroke-width="0.8" />
<text x="118.35" y="405.2" font-size="5.3" text-anchor="middle" fill="#333" stroke="#333" >4</text>
<line x1="135.6" y1="398.2" x2="135.6" y2="399.8" stroke="#4D4D4D" stroke-width="0.8" />
<text x="135.6" y="405.2" font-size="5.3" text-anchor="middle" fill="#333" stroke="#333" >5</text>
<line x1="152.85" y1="398.2" x2="152.85" y2="399.8" stroke="#4D4D4D" stroke-width="0.8" />
<text x="152.85" y="405.2" font-size="5.3" text-anchor="middle" fill="#333" stroke="#333" >6</text>
<line x1="170.1" y1="398.2" x2="170.1" y2="399.8" stroke="#4D4D4D" stroke-width="0.8" />
<text x="170.1" y="405.2" font-size="5.3" text-anchor="middle" fill="#333" stroke="#333" >7</text>
<line x1="187.35" y1="398.2" x2="187.35" y2="399.8" stroke="#4D4D4D" stroke-width="0.8" />
<text x="187.35" y="405.2" font-size="5.3" text-anchor="middle" fill="#333" stroke="#333" >8</text>
<line x1="204.6" y1="398.2" x2="204.6" y2="399.8" stroke="#4D4D4D" stroke-width="0.8" />
<text x="204.6" y="405.2" font-size="5.3" text-anchor="middle" fill="#333" stroke="#333" >9</text>
<line x1="221.85" y1="398.2" x2="221.85" y2="399.8" stroke="#4D4D4D" stroke-width="0.8" />
<text x="221.85" y="405.2" font-size="5.3" text-anchor="middle" fill="#333" stroke="#333" >10</text>
<text x="135.6" y="412.8" font-size="6.3" text-anchor="middle" fill="#111" stroke="#111" >Time (years)</text>
<text transform="translate(24.5,349.9) rotate(-90)" font-size="6.5" text-anchor="middle" fill="#111" stroke="#111">Overall survival</text>
<text x="52.6" y="379.8" font-size="7.8" text-anchor="start" fill="#111" stroke="#111" >p<0.001</text>
<path d="M49.45 305.51H50.04V306.15H50.62V306.79H51.21V307.43H51.79V308.06H52.38V308.70H52.96V309.34H53.43V310.04H53.89V310.73H54.35V311.43H54.82V312.12H55.28V312.82H55.74V313.51H56.20V314.20H56.98V314.78H57.75V315.36H58.52V315.94H59.29V316.52H60.06V317.10H60.83V317.68H61.61V318.26H62.06V319.01H62.51V319.76H62.96V320.51H63.41V321.26H63.86V322.01H64.31V322.76H64.76V323.51H65.21V324.26H65.66V325.01H66.11V325.61H66.56V326.21H67.01V326.81H67.46V327.41H67.91V328.01H68.36V328.61H68.81V329.21H69.26V329.81H69.71V330.41H70.72V331.08H71.73V331.76H72.75V332.43H73.76V333.11H74.53V333.69H75.30V334.27H76.07V334.85H76.85V335.42H77.62V336.00H78.39V336.58H79.16V337.16H79.74V337.74H80.32V338.32H80.90V338.90H81.48V339.48H82.05V340.05H82.63V340.63H83.21V341.21H83.89V341.89H84.56V342.56H85.24V343.24H85.91V343.91H89.96V344.59H94.01V345.26H96.72V345.94H99.42V346.61H102.12V347.29H104.82V347.96H108.19V348.64H111.57V349.31H114.95V349.99H118.32V350.66H121.02V351.34H123.72V352.01H126.42V352.69H129.12V353.37H130.47V353.95H131.82V354.54H133.18V355.12H134.53V355.71H135.88V356.29H137.23V356.88H164.77V356.88H165.18V358.36H165.58V359.85H165.99V361.33H166.39V362.82H166.84V364.39H167.29V365.97H167.74V367.54H168.19V369.12H168.64V370.69H169.09V372.27H223.65V372.27" fill="none" stroke="#F8774F" stroke-width="1.15"/>
<path d="M49.57 304.39v2.5M51.37 306.35v2.5M51.87 306.89v2.5M53.02 308.17v2.5M53.94 309.56v2.5M54.72 310.72v2.5M55.67 312.15v2.5M56.28 313.01v2.5M57.56 313.97v2.5M59.11 315.13v2.5M60.39 316.10v2.5M61.90 317.50v2.5M62.44 318.39v2.5M63.93 320.89v2.5M64.53 321.89v2.5M64.97 322.61v2.5M65.91 324.10v2.5M67.02 325.58v2.5M68.05 326.95v2.5M68.82 327.97v2.5M70.85 329.92v2.5M72.40 330.95v2.5M73.04 331.38v2.5M74.41 332.35v2.5M75.23 332.96v2.5M76.60 333.99v2.5M78.27 335.24v2.5M79.43 336.18v2.5M81.01 337.76v2.5M81.35 338.10v2.5M82.22 338.97v2.5M84.50 341.25v2.5M85.28 342.03v2.5M86.21 342.71v2.5M89.04 343.18v2.5M90.02 343.35v2.5M93.06 343.85v2.5M95.78 344.45v2.5M97.37 344.85v2.5M98.87 345.23v2.5M99.89 345.48v2.5M101.88 345.98v2.5M103.32 346.34v2.5M106.12 346.97v2.5M107.40 347.23v2.5M109.51 347.65v2.5M110.44 347.84v2.5M111.95 348.14v2.5M114.63 348.68v2.5M116.61 349.07v2.5M118.07 349.36v2.5M119.77 349.78v2.5M121.60 350.23v2.5M123.25 350.65v2.5M124.13 350.87v2.5M126.46 351.45v2.5M127.96 351.82v2.5M129.17 352.14v2.5M130.79 352.84v2.5M132.82 353.72v2.5M134.41 354.40v2.5M136.73 355.41v2.5M142.50 355.63v2.5M145.20 355.63v2.5M153.41 355.63v2.5M159.20 355.63v2.5M164.53 355.63v2.5M164.97 356.35v2.5M165.43 358.04v2.5M165.98 360.04v2.5" stroke="#F8774F" stroke-width="0.75" fill="none"/>
<path d="M186.37 370.97v2.6M218.19 370.97v2.6" stroke="#F8774F" stroke-width="0.7" fill="none"/>
<path d="M49.45 305.51H50.13V306.15H50.80V306.79H51.48V307.43H52.15V308.06H52.83V308.70H53.50V309.34H58.91V309.34H60.26V309.93H61.61V310.51H62.96V311.10H64.31V311.68H65.66V312.27H67.01V312.85H69.03V313.53H71.06V314.20H73.08V314.88H75.11V315.55H76.46V316.14H77.81V316.73H79.16V317.31H80.51V317.90H81.86V318.48H83.21V319.07H84.18V319.71H85.16V320.36H86.13V321.01H87.10V321.66H88.07V322.31H88.43V323.93H88.79V325.55H89.15V327.17H93.47V327.80H97.80V328.43H102.12V329.06H103.47V329.64H104.82V330.23H106.17V330.81H107.52V331.40H108.87V331.98H110.22V332.57H112.38V333.22H114.54V333.87H116.70V334.51H118.86V335.16H121.02V335.81H122.37V336.49H123.72V337.16H125.07V337.84H126.42V338.51H126.87V339.86H127.32V341.21H127.77V342.56H129.57V343.19H131.37V343.82H133.18V344.45H149.38V345.26H149.92V349.85H165.58V349.85H165.99V352.28H166.39V354.72H166.84V355.84H167.29V356.97H167.74V358.09H168.19V359.22H168.64V360.34H169.09V361.47H196.64V361.47H197.18V367.68H203.39V367.68H203.39V374.43H214.20V374.43" fill="none" stroke="#65CDDD" stroke-width="1.15"/>
<path d="M50.21 304.98v2.5M51.83 306.51v2.5M53.39 307.98v2.5M55.90 308.09v2.5M59.90 308.52v2.5M61.34 309.15v2.5M62.98 309.86v2.5M64.89 310.69v2.5M66.12 311.22v2.5M67.87 311.89v2.5M69.40 312.40v2.5M71.77 313.19v2.5M73.00 313.60v2.5M74.91 314.24v2.5M76.64 314.97v2.5M77.15 315.19v2.5M79.26 316.10v2.5M81.50 317.07v2.5M82.95 317.70v2.5M83.38 317.93v2.5M84.57 318.72v2.5M86.18 319.79v2.5M86.95 320.31v2.5M88.20 321.64v2.5M88.65 323.66v2.5M90.39 326.10v2.5M92.46 326.40v2.5M94.52 326.70v2.5M95.00 326.77v2.5M97.89 327.19v2.5M99.64 327.45v2.5M100.53 327.58v2.5M103.55 328.43v2.5M105.31 329.19v2.5M105.71 329.37v2.5M108.52 330.58v2.5M109.24 330.90v2.5M110.97 331.54v2.5M113.29 332.24v2.5M114.59 332.63v2.5M115.10 332.78v2.5M117.06 333.37v2.5M118.73 333.87v2.5M120.00 334.25v2.5M121.29 334.69v2.5M122.80 335.45v2.5M124.70 336.40v2.5M125.10 336.60v2.5M126.80 338.38v2.5M127.40 340.18v2.5M127.81 341.32v2.5M130.17 342.15v2.5M132.50 342.97v2.5M134.21 343.25v2.5M135.33 343.31v2.5M139.22 343.50v2.5M140.85 343.59v2.5M143.25 343.71v2.5M143.52 343.72v2.5M145.87 343.84v2.5M147.43 343.92v2.5M150.60 348.60v2.5M157.35 348.60v2.5M165.12 348.60v2.5M165.92 350.59v2.5M166.09 351.66v2.5" stroke="#65CDDD" stroke-width="0.75" fill="none"/>
<path d="M174.24 360.17v2.6M180.82 360.17v2.6" stroke="#65CDDD" stroke-width="0.7" fill="none"/>
<line x1="40.6" y1="429.2" x2="40.6" y2="445.05" stroke="#4D4D4D" stroke-width="0.9" />
<line x1="40.15" y1="444.6" x2="230.7" y2="444.6" stroke="#4D4D4D" stroke-width="0.9" />
<line x1="39" y1="433.2" x2="40.6" y2="433.2" stroke="#4D4D4D" stroke-width="0.8" />
<line x1="39" y1="440.2" x2="40.6" y2="440.2" stroke="#4D4D4D" stroke-width="0.8" />
<text x="37.8" y="435.15" font-size="5.4" text-anchor="end" fill="#F8774F" stroke="#F8774F" style="stroke-width:0.05px">High</text>
<text x="37.8" y="442.15" font-size="5.4" text-anchor="end" fill="#65CDDD" stroke="#65CDDD" style="stroke-width:0.05px">Low</text>
<text x="49.35" y="435.7" font-size="5.85" text-anchor="middle" fill="#111" stroke="#111" >184</text>
<text x="49.35" y="442.7" font-size="5.85" text-anchor="middle" fill="#111" stroke="#111" >184</text>
<line x1="49.35" y1="444.6" x2="49.35" y2="446.2" stroke="#4D4D4D" stroke-width="0.8" />
<text x="49.35" y="451.4" font-size="5.3" text-anchor="middle" fill="#333" stroke="#333" >0</text>
<text x="66.6" y="435.7" font-size="5.85" text-anchor="middle" fill="#111" stroke="#111" >116</text>
<text x="66.6" y="442.7" font-size="5.85" text-anchor="middle" fill="#111" stroke="#111" >148</text>
<line x1="66.6" y1="444.6" x2="66.6" y2="446.2" stroke="#4D4D4D" stroke-width="0.8" />
<text x="66.6" y="451.4" font-size="5.3" text-anchor="middle" fill="#333" stroke="#333" >1</text>
<text x="83.85" y="435.7" font-size="5.85" text-anchor="middle" fill="#111" stroke="#111" >63</text>
<text x="83.85" y="442.7" font-size="5.85" text-anchor="middle" fill="#111" stroke="#111" >80</text>
<line x1="83.85" y1="444.6" x2="83.85" y2="446.2" stroke="#4D4D4D" stroke-width="0.8" />
<text x="83.85" y="451.4" font-size="5.3" text-anchor="middle" fill="#333" stroke="#333" >2</text>
<text x="101.1" y="435.7" font-size="5.85" text-anchor="middle" fill="#111" stroke="#111" >42</text>
<text x="101.1" y="442.7" font-size="5.85" text-anchor="middle" fill="#111" stroke="#111" >51</text>
<line x1="101.1" y1="444.6" x2="101.1" y2="446.2" stroke="#4D4D4D" stroke-width="0.8" />
<text x="101.1" y="451.4" font-size="5.3" text-anchor="middle" fill="#333" stroke="#333" >3</text>
<text x="118.35" y="435.7" font-size="5.85" text-anchor="middle" fill="#111" stroke="#111" >27</text>
<text x="118.35" y="442.7" font-size="5.85" text-anchor="middle" fill="#111" stroke="#111" >39</text>
<line x1="118.35" y1="444.6" x2="118.35" y2="446.2" stroke="#4D4D4D" stroke-width="0.8" />
<text x="118.35" y="451.4" font-size="5.3" text-anchor="middle" fill="#333" stroke="#333" >4</text>
<text x="135.6" y="435.7" font-size="5.85" text-anchor="middle" fill="#111" stroke="#111" >17</text>
<text x="135.6" y="442.7" font-size="5.85" text-anchor="middle" fill="#111" stroke="#111" >26</text>
<line x1="135.6" y1="444.6" x2="135.6" y2="446.2" stroke="#4D4D4D" stroke-width="0.8" />
<text x="135.6" y="451.4" font-size="5.3" text-anchor="middle" fill="#333" stroke="#333" >5</text>
<text x="152.85" y="435.7" font-size="5.85" text-anchor="middle" fill="#111" stroke="#111" >13</text>
<text x="152.85" y="442.7" font-size="5.85" text-anchor="middle" fill="#111" stroke="#111" >16</text>
<line x1="152.85" y1="444.6" x2="152.85" y2="446.2" stroke="#4D4D4D" stroke-width="0.8" />
<text x="152.85" y="451.4" font-size="5.3" text-anchor="middle" fill="#333" stroke="#333" >6</text>
<text x="170.1" y="435.7" font-size="5.85" text-anchor="middle" fill="#111" stroke="#111" >3</text>
<text x="170.1" y="442.7" font-size="5.85" text-anchor="middle" fill="#111" stroke="#111" >6</text>
<line x1="170.1" y1="444.6" x2="170.1" y2="446.2" stroke="#4D4D4D" stroke-width="0.8" />
<text x="170.1" y="451.4" font-size="5.3" text-anchor="middle" fill="#333" stroke="#333" >7</text>
<text x="187.35" y="435.7" font-size="5.85" text-anchor="middle" fill="#111" stroke="#111" >1</text>
<text x="187.35" y="442.7" font-size="5.85" text-anchor="middle" fill="#111" stroke="#111" >5</text>
<line x1="187.35" y1="444.6" x2="187.35" y2="446.2" stroke="#4D4D4D" stroke-width="0.8" />
<text x="187.35" y="451.4" font-size="5.3" text-anchor="middle" fill="#333" stroke="#333" >8</text>
<text x="204.6" y="435.7" font-size="5.85" text-anchor="middle" fill="#111" stroke="#111" >1</text>
<text x="204.6" y="442.7" font-size="5.85" text-anchor="middle" fill="#111" stroke="#111" >3</text>
<line x1="204.6" y1="444.6" x2="204.6" y2="446.2" stroke="#4D4D4D" stroke-width="0.8" />
<text x="204.6" y="451.4" font-size="5.3" text-anchor="middle" fill="#333" stroke="#333" >9</text>
<text x="221.85" y="435.7" font-size="5.85" text-anchor="middle" fill="#111" stroke="#111" >1</text>
<text x="221.85" y="442.7" font-size="5.85" text-anchor="middle" fill="#111" stroke="#111" >0</text>
<line x1="221.85" y1="444.6" x2="221.85" y2="446.2" stroke="#4D4D4D" stroke-width="0.8" />
<text x="221.85" y="451.4" font-size="5.3" text-anchor="middle" fill="#333" stroke="#333" >10</text>
<text x="135.6" y="458.3" font-size="6.3" text-anchor="middle" fill="#111" stroke="#111" >Time (years)</text>
<text transform="translate(24.2,437.1) rotate(-90)" font-size="6.6" text-anchor="middle" fill="#111" stroke="#111">CENPA</text>
<text x="238.6" y="274.6" font-size="14.2" text-anchor="start" fill="#000" stroke="#000" >D</text>
<text x="325.31" y="290.15" font-size="4.65" text-anchor="start" fill="#222" stroke="#222" >CCDC137</text>
<line x1="349.4" y1="288.5" x2="356" y2="288.5" stroke="#F8774F" stroke-width="0.9" />
<line x1="352.7" y1="287.3" x2="352.7" y2="289.7" stroke="#F8774F" stroke-width="0.6" />
<text x="358.7" y="290.15" font-size="4.65" text-anchor="start" fill="#222" stroke="#222" >High</text>
<line x1="371.46" y1="288.5" x2="378.06" y2="288.5" stroke="#65CDDD" stroke-width="0.9" />
<line x1="374.76" y1="287.3" x2="374.76" y2="289.7" stroke="#65CDDD" stroke-width="0.6" />
<text x="381.36" y="290.15" font-size="4.65" text-anchor="start" fill="#222" stroke="#222" >Low</text>
<line x1="262.6" y1="300.8" x2="262.6" y2="398.65" stroke="#4D4D4D" stroke-width="0.9" />
<line x1="262.15" y1="398.2" x2="452.7" y2="398.2" stroke="#4D4D4D" stroke-width="0.9" />
<line x1="261" y1="305.5" x2="262.6" y2="305.5" stroke="#4D4D4D" stroke-width="0.8" />
<text x="259.6" y="307.4" font-size="5.3" text-anchor="end" fill="#333" stroke="#333" >1.00</text>
<line x1="261" y1="327.68" x2="262.6" y2="327.68" stroke="#4D4D4D" stroke-width="0.8" />
<text x="259.6" y="329.57" font-size="5.3" text-anchor="end" fill="#333" stroke="#333" >0.75</text>
<line x1="261" y1="349.85" x2="262.6" y2="349.85" stroke="#4D4D4D" stroke-width="0.8" />
<text x="259.6" y="351.75" font-size="5.3" text-anchor="end" fill="#333" stroke="#333" >0.50</text>
<line x1="261" y1="372.02" x2="262.6" y2="372.02" stroke="#4D4D4D" stroke-width="0.8" />
<text x="259.6" y="373.92" font-size="5.3" text-anchor="end" fill="#333" stroke="#333" >0.25</text>
<line x1="261" y1="394.2" x2="262.6" y2="394.2" stroke="#4D4D4D" stroke-width="0.8" />
<text x="259.6" y="396.1" font-size="5.3" text-anchor="end" fill="#333" stroke="#333" >0.00</text>
<line x1="271.35" y1="398.2" x2="271.35" y2="399.8" stroke="#4D4D4D" stroke-width="0.8" />
<text x="271.35" y="405.2" font-size="5.3" text-anchor="middle" fill="#333" stroke="#333" >0</text>
<line x1="288.6" y1="398.2" x2="288.6" y2="399.8" stroke="#4D4D4D" stroke-width="0.8" />
<text x="288.6" y="405.2" font-size="5.3" text-anchor="middle" fill="#333" stroke="#333" >1</text>
<line x1="305.85" y1="398.2" x2="305.85" y2="399.8" stroke="#4D4D4D" stroke-width="0.8" />
<text x="305.85" y="405.2" font-size="5.3" text-anchor="middle" fill="#333" stroke="#333" >2</text>
<line x1="323.1" y1="398.2" x2="323.1" y2="399.8" stroke="#4D4D4D" stroke-width="0.8" />
<text x="323.1" y="405.2" font-size="5.3" text-anchor="middle" fill="#333" stroke="#333" >3</text>
<line x1="340.35" y1="398.2" x2="340.35" y2="399.8" stroke="#4D4D4D" stroke-width="0.8" />
<text x="340.35" y="405.2" font-size="5.3" text-anchor="middle" fill="#333" stroke="#333" >4</text>
<line x1="357.6" y1="398.2" x2="357.6" y2="399.8" stroke="#4D4D4D" stroke-width="0.8" />
<text x="357.6" y="405.2" font-size="5.3" text-anchor="middle" fill="#333" stroke="#333" >5</text>
<line x1="374.85" y1="398.2" x2="374.85" y2="399.8" stroke="#4D4D4D" stroke-width="0.8" />
<text x="374.85" y="405.2" font-size="5.3" text-anchor="middle" fill="#333" stroke="#333" >6</text>
<line x1="392.1" y1="398.2" x2="392.1" y2="399.8" stroke="#4D4D4D" stroke-width="0.8" />
<text x="392.1" y="405.2" font-size="5.3" text-anchor="middle" fill="#333" stroke="#333" >7</text>
<line x1="409.35" y1="398.2" x2="409.35" y2="399.8" stroke="#4D4D4D" stroke-width="0.8" />
<text x="409.35" y="405.2" font-size="5.3" text-anchor="middle" fill="#333" stroke="#333" >8</text>
<line x1="426.6" y1="398.2" x2="426.6" y2="399.8" stroke="#4D4D4D" stroke-width="0.8" />
<text x="426.6" y="405.2" font-size="5.3" text-anchor="middle" fill="#333" stroke="#333" >9</text>
<line x1="443.85" y1="398.2" x2="443.85" y2="399.8" stroke="#4D4D4D" stroke-width="0.8" />
<text x="443.85" y="405.2" font-size="5.3" text-anchor="middle" fill="#333" stroke="#333" >10</text>
<text x="357.6" y="412.8" font-size="6.3" text-anchor="middle" fill="#111" stroke="#111" >Time (years)</text>
<text transform="translate(246.5,349.9) rotate(-90)" font-size="6.5" text-anchor="middle" fill="#111" stroke="#111">Overall survival</text>
<text x="274.6" y="379.8" font-size="7.8" text-anchor="start" fill="#111" stroke="#111" >p<0.001</text>
<path d="M270.91 305.51H271.56V306.17H272.21V306.83H272.86V307.48H273.51V308.14H274.15V308.80H274.60V309.70H275.05V310.60H275.50V311.50H275.95V312.40H276.40V313.30H276.85V314.20H277.43V314.78H278.01V315.36H278.59V315.94H279.17V316.52H279.75V317.10H280.33V317.68H280.91V318.26H281.36V319.01H281.81V319.76H282.26V320.51H282.71V321.26H283.16V322.01H283.61V322.76H284.06V323.51H284.51V324.26H284.96V325.01H285.41V325.61H285.86V326.21H286.31V326.81H286.76V327.41H287.21V328.01H287.66V328.61H288.11V329.21H288.56V329.81H289.01V330.41H289.55V331.06H290.09V331.71H290.63V332.35H291.17V333.00H291.71V333.65H293.51V334.37H295.31V335.09H297.11V335.81H297.88V336.39H298.65V336.97H299.42V337.55H300.20V338.13H300.97V338.70H301.74V339.28H302.51V339.86H303.28V340.44H304.05V341.02H304.83V341.60H305.60V342.18H306.37V342.75H307.14V343.33H307.91V343.91H308.72V344.56H309.53V345.21H310.34V345.86H311.15V346.51H311.96V347.15H314.21V347.87H316.46V348.59H318.72V349.31H321.42V349.99H324.12V350.66H325.13V351.34H326.14V352.01H327.16V352.69H328.17V353.37H331.54V354.04H334.92V354.72H338.97V355.39H343.02V356.07H344.82V356.70H346.62V357.33H348.42V357.96H349.10V358.63H349.77V359.31H350.45V359.98H351.12V360.66H387.58V360.66H388.03V362.28H388.48V363.90H388.93V365.52H389.37V366.49H389.80V367.46H390.23V368.44H390.66V369.41H391.09V370.38H424.04V370.38H424.49V372.99H424.94V375.60H425.39V378.21H445.65V378.21" fill="none" stroke="#F8774F" stroke-width="1.15"/>
<path d="M271.82 305.18v2.5M272.60 305.97v2.5M273.75 307.14v2.5M274.58 308.40v2.5M275.29 309.82v2.5M275.83 310.91v2.5M276.18 311.61v2.5M277.66 313.76v2.5M278.62 314.72v2.5M279.39 315.49v2.5M280.43 316.53v2.5M281.44 317.90v2.5M281.77 318.45v2.5M283.12 320.70v2.5M283.54 321.40v2.5M284.21 322.51v2.5M285.23 324.12v2.5M286.71 326.09v2.5M287.19 326.74v2.5M288.74 328.81v2.5M290.32 330.74v2.5M291.02 331.58v2.5M292.40 332.68v2.5M294.37 333.46v2.5M296.54 334.33v2.5M298.15 335.34v2.5M299.29 336.20v2.5M300.68 337.24v2.5M301.27 337.68v2.5M302.71 338.76v2.5M304.20 339.88v2.5M306.22 341.39v2.5M306.97 341.96v2.5M308.68 343.28v2.5M309.28 343.76v2.5M310.70 344.89v2.5M312.42 346.05v2.5M314.79 346.81v2.5M316.51 347.36v2.5M318.17 347.89v2.5M319.24 348.19v2.5M321.45 348.75v2.5M323.15 349.17v2.5M324.75 349.83v2.5M325.63 350.42v2.5M328.02 352.02v2.5M328.50 352.18v2.5M331.51 352.78v2.5M333.12 353.11v2.5M333.26 353.13v2.5M335.85 353.62v2.5M338.61 354.08v2.5M340.93 354.47v2.5M341.91 354.63v2.5M343.51 354.99v2.5M345.20 355.58v2.5M348.33 356.67v2.5M348.71 356.99v2.5M350.56 358.84v2.5M351.86 359.41v2.5M359.06 359.41v2.5M366.50 359.41v2.5M367.44 359.41v2.5M376.23 359.41v2.5M379.82 359.41v2.5M386.99 359.41v2.5M387.90 360.55v2.5M388.14 361.40v2.5M388.89 364.10v2.5" stroke="#F8774F" stroke-width="0.75" fill="none"/>
<path d="M389.57 365.19v2.6M426.74 376.91v2.6M436.58 376.91v2.6" stroke="#F8774F" stroke-width="0.7" fill="none"/>
<path d="M270.91 305.51H271.56V306.06H272.21V306.61H272.86V307.16H273.51V307.71H274.15V308.26H283.61V309.34H286.31V310.06H289.01V310.78H291.71V311.50H293.51V312.22H295.31V312.94H297.11V313.66H298.01V314.29H298.91V314.92H299.81V315.55H300.71V316.18H301.61V316.82H302.51V317.45H303.11V318.05H303.71V318.65H304.31V319.25H304.91V319.85H305.51V320.45H306.11V321.05H306.71V321.65H307.31V322.25H307.91V322.85H308.81V323.57H309.71V324.29H310.61V325.01H321.42V325.01H325.02V325.73H328.62V326.45H332.22V327.17H333.12V327.80H334.02V328.43H334.92V329.06H335.82V329.69H336.72V330.32H337.62V330.95H339.42V331.67H341.22V332.39H343.02V333.11H344.37V333.78H345.72V334.46H347.07V335.14H348.42V335.81H349.39V336.39H350.35V336.97H351.32V337.55H352.28V338.13H353.25V338.70H354.21V339.28H355.18V339.86H356.53V340.49H357.88V341.12H359.23V341.75H370.03V341.75H370.48V343.82H370.93V345.89H371.38V347.96H386.23V347.96H386.68V350.21H387.13V352.46H387.58V354.72H388.03V355.98H388.48V357.24H388.93V358.50H389.38V359.76H389.83V361.02H390.28V362.28H418.10V362.28H418.64V372.27H433.50V372.27" fill="none" stroke="#65CDDD" stroke-width="1.15"/>
<path d="M271.12 304.43v2.5M273.35 306.33v2.5M275.34 307.15v2.5M277.68 307.42v2.5M278.34 307.49v2.5M280.34 307.72v2.5M282.19 307.93v2.5M284.25 308.27v2.5M285.95 308.72v2.5M288.39 309.37v2.5M289.84 309.76v2.5M291.50 310.20v2.5M291.75 310.27v2.5M293.57 311.00v2.5M296.59 312.21v2.5M298.32 313.26v2.5M299.10 313.81v2.5M300.60 314.86v2.5M301.16 315.25v2.5M302.93 316.62v2.5M304.59 318.28v2.5M305.56 319.25v2.5M306.68 320.36v2.5M307.88 321.57v2.5M308.25 321.87v2.5M309.41 322.79v2.5M311.45 323.76v2.5M318.84 323.76v2.5M322.64 324.00v2.5M324.91 324.46v2.5M326.32 324.74v2.5M327.98 325.07v2.5M330.00 325.47v2.5M331.24 325.72v2.5M332.96 326.44v2.5M333.62 326.90v2.5M335.98 328.55v2.5M336.58 328.97v2.5M339.28 330.36v2.5M340.58 330.88v2.5M341.77 331.36v2.5M343.19 331.95v2.5M344.71 332.70v2.5M346.58 333.64v2.5M348.02 334.36v2.5M348.57 334.65v2.5M349.87 335.43v2.5M351.83 336.61v2.5M353.26 337.46v2.5M354.35 338.12v2.5M355.63 338.82v2.5M358.42 340.12v2.5M359.28 340.50v2.5M366.26 340.50v2.5M370.24 341.46v2.5M370.91 344.56v2.5M371.22 345.98v2.5M377.94 346.71v2.5M382.34 346.71v2.5M386.31 347.11v2.5M386.65 348.82v2.5M387.23 351.71v2.5M387.48 352.97v2.5" stroke="#65CDDD" stroke-width="0.75" fill="none"/>
<path d="M402.69 360.98v2.6M411.40 360.98v2.6" stroke="#65CDDD" stroke-width="0.7" fill="none"/>
<line x1="262.6" y1="429.2" x2="262.6" y2="445.05" stroke="#4D4D4D" stroke-width="0.9" />
<line x1="262.15" y1="444.6" x2="452.7" y2="444.6" stroke="#4D4D4D" stroke-width="0.9" />
<line x1="261" y1="433.2" x2="262.6" y2="433.2" stroke="#4D4D4D" stroke-width="0.8" />
<line x1="261" y1="440.2" x2="262.6" y2="440.2" stroke="#4D4D4D" stroke-width="0.8" />
<text x="259.8" y="435.15" font-size="5.4" text-anchor="end" fill="#F8774F" stroke="#F8774F" style="stroke-width:0.05px">High</text>
<text x="259.8" y="442.15" font-size="5.4" text-anchor="end" fill="#65CDDD" stroke="#65CDDD" style="stroke-width:0.05px">Low</text>
<text x="271.35" y="435.7" font-size="5.85" text-anchor="middle" fill="#111" stroke="#111" >184</text>
<text x="271.35" y="442.7" font-size="5.85" text-anchor="middle" fill="#111" stroke="#111" >184</text>
<line x1="271.35" y1="444.6" x2="271.35" y2="446.2" stroke="#4D4D4D" stroke-width="0.8" />
<text x="271.35" y="451.4" font-size="5.3" text-anchor="middle" fill="#333" stroke="#333" >0</text>
<text x="288.6" y="435.7" font-size="5.85" text-anchor="middle" fill="#111" stroke="#111" >113</text>
<text x="288.6" y="442.7" font-size="5.85" text-anchor="middle" fill="#111" stroke="#111" >151</text>
<line x1="288.6" y1="444.6" x2="288.6" y2="446.2" stroke="#4D4D4D" stroke-width="0.8" />
<text x="288.6" y="451.4" font-size="5.3" text-anchor="middle" fill="#333" stroke="#333" >1</text>
<text x="305.85" y="435.7" font-size="5.85" text-anchor="middle" fill="#111" stroke="#111" >58</text>
<text x="305.85" y="442.7" font-size="5.85" text-anchor="middle" fill="#111" stroke="#111" >85</text>
<line x1="305.85" y1="444.6" x2="305.85" y2="446.2" stroke="#4D4D4D" stroke-width="0.8" />
<text x="305.85" y="451.4" font-size="5.3" text-anchor="middle" fill="#333" stroke="#333" >2</text>
<text x="323.1" y="435.7" font-size="5.85" text-anchor="middle" fill="#111" stroke="#111" >36</text>
<text x="323.1" y="442.7" font-size="5.85" text-anchor="middle" fill="#111" stroke="#111" >57</text>
<line x1="323.1" y1="444.6" x2="323.1" y2="446.2" stroke="#4D4D4D" stroke-width="0.8" />
<text x="323.1" y="451.4" font-size="5.3" text-anchor="middle" fill="#333" stroke="#333" >3</text>
<text x="340.35" y="435.7" font-size="5.85" text-anchor="middle" fill="#111" stroke="#111" >25</text>
<text x="340.35" y="442.7" font-size="5.85" text-anchor="middle" fill="#111" stroke="#111" >41</text>
<line x1="340.35" y1="444.6" x2="340.35" y2="446.2" stroke="#4D4D4D" stroke-width="0.8" />
<text x="340.35" y="451.4" font-size="5.3" text-anchor="middle" fill="#333" stroke="#333" >4</text>
<text x="357.6" y="435.7" font-size="5.85" text-anchor="middle" fill="#111" stroke="#111" >15</text>
<text x="357.6" y="442.7" font-size="5.85" text-anchor="middle" fill="#111" stroke="#111" >28</text>
<line x1="357.6" y1="444.6" x2="357.6" y2="446.2" stroke="#4D4D4D" stroke-width="0.8" />
<text x="357.6" y="451.4" font-size="5.3" text-anchor="middle" fill="#333" stroke="#333" >5</text>
<text x="374.85" y="435.7" font-size="5.85" text-anchor="middle" fill="#111" stroke="#111" >14</text>
<text x="374.85" y="442.7" font-size="5.85" text-anchor="middle" fill="#111" stroke="#111" >15</text>
<line x1="374.85" y1="444.6" x2="374.85" y2="446.2" stroke="#4D4D4D" stroke-width="0.8" />
<text x="374.85" y="451.4" font-size="5.3" text-anchor="middle" fill="#333" stroke="#333" >6</text>
<text x="392.1" y="435.7" font-size="5.85" text-anchor="middle" fill="#111" stroke="#111" >5</text>
<text x="392.1" y="442.7" font-size="5.85" text-anchor="middle" fill="#111" stroke="#111" >4</text>
<line x1="392.1" y1="444.6" x2="392.1" y2="446.2" stroke="#4D4D4D" stroke-width="0.8" />
<text x="392.1" y="451.4" font-size="5.3" text-anchor="middle" fill="#333" stroke="#333" >7</text>
<text x="409.35" y="435.7" font-size="5.85" text-anchor="middle" fill="#111" stroke="#111" >3</text>
<text x="409.35" y="442.7" font-size="5.85" text-anchor="middle" fill="#111" stroke="#111" >3</text>
<line x1="409.35" y1="444.6" x2="409.35" y2="446.2" stroke="#4D4D4D" stroke-width="0.8" />
<text x="409.35" y="451.4" font-size="5.3" text-anchor="middle" fill="#333" stroke="#333" >8</text>
<text x="426.6" y="435.7" font-size="5.85" text-anchor="middle" fill="#111" stroke="#111" >2</text>
<text x="426.6" y="442.7" font-size="5.85" text-anchor="middle" fill="#111" stroke="#111" >2</text>
<line x1="426.6" y1="444.6" x2="426.6" y2="446.2" stroke="#4D4D4D" stroke-width="0.8" />
<text x="426.6" y="451.4" font-size="5.3" text-anchor="middle" fill="#333" stroke="#333" >9</text>
<text x="443.85" y="435.7" font-size="5.85" text-anchor="middle" fill="#111" stroke="#111" >1</text>
<text x="443.85" y="442.7" font-size="5.85" text-anchor="middle" fill="#111" stroke="#111" >0</text>
<line x1="443.85" y1="444.6" x2="443.85" y2="446.2" stroke="#4D4D4D" stroke-width="0.8" />
<text x="443.85" y="451.4" font-size="5.3" text-anchor="middle" fill="#333" stroke="#333" >10</text>
<text x="357.6" y="458.3" font-size="6.3" text-anchor="middle" fill="#111" stroke="#111" >Time (years)</text>
<text transform="translate(246.2,437.1) rotate(-90)" font-size="6.6" text-anchor="middle" fill="#111" stroke="#111">CCDC137</text>
<text x="460.3" y="275.1" font-size="14.2" text-anchor="start" fill="#000" stroke="#000" >E</text>
<text x="548.96" y="290.15" font-size="4.65" text-anchor="start" fill="#222" stroke="#222" >WDR62</text>
<line x1="568.14" y1="288.5" x2="574.74" y2="288.5" stroke="#F8774F" stroke-width="0.9" />
<line x1="571.44" y1="287.3" x2="571.44" y2="289.7" stroke="#F8774F" stroke-width="0.6" />
<text x="577.44" y="290.15" font-size="4.65" text-anchor="start" fill="#222" stroke="#222" >High</text>
<line x1="590.21" y1="288.5" x2="596.81" y2="288.5" stroke="#65CDDD" stroke-width="0.9" />
<line x1="593.51" y1="287.3" x2="593.51" y2="289.7" stroke="#65CDDD" stroke-width="0.6" />
<text x="600.11" y="290.15" font-size="4.65" text-anchor="start" fill="#222" stroke="#222" >Low</text>
<line x1="483.8" y1="300.8" x2="483.8" y2="398.65" stroke="#4D4D4D" stroke-width="0.9" />
<line x1="483.35" y1="398.2" x2="673.9" y2="398.2" stroke="#4D4D4D" stroke-width="0.9" />
<line x1="482.2" y1="305.5" x2="483.8" y2="305.5" stroke="#4D4D4D" stroke-width="0.8" />
<text x="480.8" y="307.4" font-size="5.3" text-anchor="end" fill="#333" stroke="#333" >1.00</text>
<line x1="482.2" y1="327.68" x2="483.8" y2="327.68" stroke="#4D4D4D" stroke-width="0.8" />
<text x="480.8" y="329.57" font-size="5.3" text-anchor="end" fill="#333" stroke="#333" >0.75</text>
<line x1="482.2" y1="349.85" x2="483.8" y2="349.85" stroke="#4D4D4D" stroke-width="0.8" />
<text x="480.8" y="351.75" font-size="5.3" text-anchor="end" fill="#333" stroke="#333" >0.50</text>
<line x1="482.2" y1="372.02" x2="483.8" y2="372.02" stroke="#4D4D4D" stroke-width="0.8" />
<text x="480.8" y="373.92" font-size="5.3" text-anchor="end" fill="#333" stroke="#333" >0.25</text>
<line x1="482.2" y1="394.2" x2="483.8" y2="394.2" stroke="#4D4D4D" stroke-width="0.8" />
<text x="480.8" y="396.1" font-size="5.3" text-anchor="end" fill="#333" stroke="#333" >0.00</text>
<line x1="492.55" y1="398.2" x2="492.55" y2="399.8" stroke="#4D4D4D" stroke-width="0.8" />
<text x="492.55" y="405.2" font-size="5.3" text-anchor="middle" fill="#333" stroke="#333" >0</text>
<line x1="509.8" y1="398.2" x2="509.8" y2="399.8" stroke="#4D4D4D" stroke-width="0.8" />
<text x="509.8" y="405.2" font-size="5.3" text-anchor="middle" fill="#333" stroke="#333" >1</text>
<line x1="527.05" y1="398.2" x2="527.05" y2="399.8" stroke="#4D4D4D" stroke-width="0.8" />
<text x="527.05" y="405.2" font-size="5.3" text-anchor="middle" fill="#333" stroke="#333" >2</text>
<line x1="544.3" y1="398.2" x2="544.3" y2="399.8" stroke="#4D4D4D" stroke-width="0.8" />
<text x="544.3" y="405.2" font-size="5.3" text-anchor="middle" fill="#333" stroke="#333" >3</text>
<line x1="561.55" y1="398.2" x2="561.55" y2="399.8" stroke="#4D4D4D" stroke-width="0.8" />
<text x="561.55" y="405.2" font-size="5.3" text-anchor="middle" fill="#333" stroke="#333" >4</text>
<line x1="578.8" y1="398.2" x2="578.8" y2="399.8" stroke="#4D4D4D" stroke-width="0.8" />
<text x="578.8" y="405.2" font-size="5.3" text-anchor="middle" fill="#333" stroke="#333" >5</text>
<line x1="596.05" y1="398.2" x2="596.05" y2="399.8" stroke="#4D4D4D" stroke-width="0.8" />
<text x="596.05" y="405.2" font-size="5.3" text-anchor="middle" fill="#333" stroke="#333" >6</text>
<line x1="613.3" y1="398.2" x2="613.3" y2="399.8" stroke="#4D4D4D" stroke-width="0.8" />
<text x="613.3" y="405.2" font-size="5.3" text-anchor="middle" fill="#333" stroke="#333" >7</text>
<line x1="630.55" y1="398.2" x2="630.55" y2="399.8" stroke="#4D4D4D" stroke-width="0.8" />
<text x="630.55" y="405.2" font-size="5.3" text-anchor="middle" fill="#333" stroke="#333" >8</text>
<line x1="647.8" y1="398.2" x2="647.8" y2="399.8" stroke="#4D4D4D" stroke-width="0.8" />
<text x="647.8" y="405.2" font-size="5.3" text-anchor="middle" fill="#333" stroke="#333" >9</text>
<line x1="665.05" y1="398.2" x2="665.05" y2="399.8" stroke="#4D4D4D" stroke-width="0.8" />
<text x="665.05" y="405.2" font-size="5.3" text-anchor="middle" fill="#333" stroke="#333" >10</text>
<text x="578.8" y="412.8" font-size="6.3" text-anchor="middle" fill="#111" stroke="#111" >Time (years)</text>
<text transform="translate(467.7,349.9) rotate(-90)" font-size="6.5" text-anchor="middle" fill="#111" stroke="#111">Overall survival</text>
<text x="495.8" y="379.8" font-size="7.8" text-anchor="start" fill="#111" stroke="#111" >p=0.001</text>
<path d="M491.91 305.51H492.59V306.15H493.26V306.79H493.94V307.43H494.61V308.06H495.29V308.70H495.96V309.34H496.43V310.04H496.89V310.73H497.35V311.43H497.82V312.12H498.28V312.82H498.74V313.51H499.20V314.20H499.98V314.78H500.75V315.36H501.52V315.94H502.29V316.52H503.06V317.10H503.83V317.68H504.61V318.26H505.06V319.38H505.51V320.51H505.96V321.63H506.41V322.76H506.86V323.88H507.31V325.01H507.80V325.62H508.29V326.23H508.78V326.85H509.27V327.46H509.76V328.08H510.25V328.69H510.74V329.30H511.23V329.92H511.73V330.53H512.22V331.15H512.71V331.76H514.51V332.39H516.31V333.02H518.11V333.65H519.01V334.23H519.91V334.82H520.81V335.41H521.71V335.99H522.61V336.58H523.51V337.16H524.09V337.74H524.67V338.32H525.25V338.90H525.83V339.48H526.40V340.05H526.98V340.63H527.56V341.21H528.46V341.93H529.36V342.65H530.26V343.37H537.01V344.45H539.72V345.13H542.42V345.80H545.12V346.48H547.82V347.15H549.84V347.83H551.87V348.50H553.89V349.18H555.92V349.85H557.95V350.53H559.97V351.20H562.00V351.88H564.02V352.55H568.07V353.37H572.12V354.18H574.15V354.85H576.18V355.53H578.20V356.20H580.23V356.88H607.77V356.88H608.18V358.02H608.58V359.17H608.99V360.32H609.39V361.47H609.84V362.59H610.29V363.72H610.74V364.84H611.19V365.97H611.64V367.09H612.09V368.22H640.18V368.22H640.72V376.86H666.65V376.86" fill="none" stroke="#F8774F" stroke-width="1.15"/>
<path d="M492.96 305.25v2.5M494.08 306.31v2.5M495.06 307.23v2.5M496.22 308.48v2.5M497.07 309.75v2.5M498.22 311.47v2.5M498.46 311.84v2.5M499.47 313.15v2.5M501.57 314.73v2.5M502.24 315.23v2.5M503.34 316.06v2.5M504.63 317.06v2.5M505.65 319.63v2.5M506.18 320.93v2.5M507.29 323.72v2.5M508.10 324.75v2.5M509.10 325.99v2.5M509.35 326.31v2.5M510.08 327.23v2.5M510.99 328.37v2.5M512.26 329.94v2.5M513.99 330.96v2.5M515.31 331.42v2.5M516.73 331.92v2.5M518.67 332.77v2.5M520.30 333.82v2.5M521.72 334.75v2.5M523.17 335.69v2.5M524.37 336.77v2.5M525.20 337.60v2.5M525.66 338.06v2.5M527.40 339.80v2.5M527.96 340.28v2.5M529.68 341.65v2.5M531.10 342.26v2.5M534.17 342.75v2.5M535.21 342.91v2.5M537.46 343.31v2.5M539.26 343.76v2.5M540.89 344.17v2.5M544.01 344.95v2.5M545.26 345.26v2.5M546.60 345.60v2.5M548.46 346.12v2.5M551.05 346.98v2.5M551.88 347.26v2.5M553.05 347.65v2.5M555.61 348.50v2.5M556.98 348.96v2.5M559.15 349.68v2.5M559.33 349.74v2.5M561.55 350.48v2.5M563.73 351.21v2.5M565.72 351.65v2.5M567.90 352.08v2.5M568.15 352.13v2.5M570.69 352.64v2.5M572.32 352.99v2.5M574.05 353.57v2.5M576.94 354.53v2.5M577.93 354.86v2.5M580.11 355.59v2.5M582.28 355.63v2.5M590.51 355.63v2.5M593.72 355.63v2.5M598.19 355.63v2.5M606.55 355.63v2.5M608.28 357.07v2.5M608.37 357.32v2.5M609.18 359.60v2.5" stroke="#F8774F" stroke-width="0.75" fill="none"/>
<path d="M616.72 366.92v2.6M638.33 366.92v2.6" stroke="#F8774F" stroke-width="0.7" fill="none"/>
<path d="M491.91 305.51H492.56V306.17H493.21V306.83H493.86V307.48H494.51V308.14H495.15V308.80H501.91V309.34H503.26V309.93H504.61V310.51H505.96V311.10H507.31V311.68H508.66V312.27H510.01V312.85H512.03V313.53H514.06V314.20H516.08V314.88H518.11V315.55H519.27V316.13H520.42V316.71H521.58V317.29H522.74V317.87H523.90V318.45H525.05V319.03H526.21V319.61H526.91V320.18H527.60V320.76H528.30V321.34H528.99V321.92H529.68V322.50H530.38V323.08H531.07V323.66H531.55V325.01H532.02V326.36H532.49V327.71H532.96V329.06H545.12V329.87H546.74V330.52H548.36V331.16H549.98V331.81H551.60V332.46H553.22V333.11H555.92V333.78H558.62V334.46H561.32V335.14H564.02V335.81H565.37V336.49H566.72V337.16H568.07V337.84H569.42V338.51H570.20V339.09H570.97V339.67H571.74V340.25H572.51V340.83H573.28V341.40H574.05V341.98H574.82V342.56H575.50V343.24H576.18V343.91H576.85V344.59H577.53V345.26H592.38V345.26H592.78V347.96H593.19V350.66H608.58V350.66H608.99V353.37H609.39V356.07H609.84V357.42H610.29V358.77H610.74V360.12H611.19V361.47H611.64V362.82H612.09V364.17H646.39V364.17H646.93V374.16H655.85V374.16" fill="none" stroke="#65CDDD" stroke-width="1.15"/>
<path d="M491.96 304.30v2.5M493.60 305.97v2.5M494.89 307.29v2.5M495.24 307.56v2.5M499.29 307.88v2.5M499.92 307.93v2.5M502.88 308.51v2.5M504.42 309.18v2.5M506.16 309.94v2.5M507.26 310.41v2.5M509.07 311.20v2.5M510.95 311.92v2.5M512.32 312.37v2.5M514.32 313.04v2.5M515.59 313.47v2.5M517.20 314.00v2.5M518.14 314.32v2.5M520.30 315.40v2.5M521.47 315.99v2.5M522.48 316.49v2.5M524.54 317.52v2.5M525.91 318.21v2.5M526.77 318.82v2.5M527.65 319.55v2.5M529.22 320.86v2.5M529.99 321.50v2.5M531.15 322.64v2.5M531.97 324.98v2.5M532.39 326.17v2.5M533.86 327.87v2.5M536.02 328.01v2.5M537.10 328.08v2.5M540.33 328.30v2.5M541.23 328.36v2.5M544.58 328.58v2.5M546.38 329.12v2.5M547.57 329.60v2.5M548.45 329.95v2.5M550.79 330.89v2.5M552.21 331.46v2.5M554.93 332.29v2.5M555.26 332.37v2.5M558.36 333.15v2.5M560.41 333.66v2.5M561.74 333.99v2.5M563.69 334.48v2.5M564.28 334.69v2.5M566.70 335.90v2.5M567.39 336.24v2.5M569.36 337.23v2.5M570.66 338.19v2.5M571.00 338.44v2.5M573.19 340.08v2.5M574.73 341.24v2.5M574.91 341.40v2.5M576.65 343.14v2.5M583.14 344.01v2.5M586.13 344.01v2.5M592.62 345.63v2.5M592.72 346.31v2.5M593.14 349.08v2.5M593.93 349.41v2.5M600.90 349.41v2.5M608.17 349.41v2.5M608.64 349.79v2.5M608.93 351.69v2.5M609.26 353.93v2.5" stroke="#65CDDD" stroke-width="0.75" fill="none"/>
<path d="M613.50 362.87v2.6M631.82 362.87v2.6" stroke="#65CDDD" stroke-width="0.7" fill="none"/>
<line x1="483.8" y1="429.2" x2="483.8" y2="445.05" stroke="#4D4D4D" stroke-width="0.9" />
<line x1="483.35" y1="444.6" x2="673.9" y2="444.6" stroke="#4D4D4D" stroke-width="0.9" />
<line x1="482.2" y1="433.2" x2="483.8" y2="433.2" stroke="#4D4D4D" stroke-width="0.8" />
<line x1="482.2" y1="440.2" x2="483.8" y2="440.2" stroke="#4D4D4D" stroke-width="0.8" />
<text x="481" y="435.15" font-size="5.4" text-anchor="end" fill="#F8774F" stroke="#F8774F" style="stroke-width:0.05px">High</text>
<text x="481" y="442.15" font-size="5.4" text-anchor="end" fill="#65CDDD" stroke="#65CDDD" style="stroke-width:0.05px">Low</text>
<text x="492.55" y="435.7" font-size="5.85" text-anchor="middle" fill="#111" stroke="#111" >184</text>
<text x="492.55" y="442.7" font-size="5.85" text-anchor="middle" fill="#111" stroke="#111" >184</text>
<line x1="492.55" y1="444.6" x2="492.55" y2="446.2" stroke="#4D4D4D" stroke-width="0.8" />
<text x="492.55" y="451.4" font-size="5.3" text-anchor="middle" fill="#333" stroke="#333" >0</text>
<text x="509.8" y="435.7" font-size="5.85" text-anchor="middle" fill="#111" stroke="#111" >116</text>
<text x="509.8" y="442.7" font-size="5.85" text-anchor="middle" fill="#111" stroke="#111" >148</text>
<line x1="509.8" y1="444.6" x2="509.8" y2="446.2" stroke="#4D4D4D" stroke-width="0.8" />
<text x="509.8" y="451.4" font-size="5.3" text-anchor="middle" fill="#333" stroke="#333" >1</text>
<text x="527.05" y="435.7" font-size="5.85" text-anchor="middle" fill="#111" stroke="#111" >64</text>
<text x="527.05" y="442.7" font-size="5.85" text-anchor="middle" fill="#111" stroke="#111" >79</text>
<line x1="527.05" y1="444.6" x2="527.05" y2="446.2" stroke="#4D4D4D" stroke-width="0.8" />
<text x="527.05" y="451.4" font-size="5.3" text-anchor="middle" fill="#333" stroke="#333" >2</text>
<text x="544.3" y="435.7" font-size="5.85" text-anchor="middle" fill="#111" stroke="#111" >43</text>
<text x="544.3" y="442.7" font-size="5.85" text-anchor="middle" fill="#111" stroke="#111" >50</text>
<line x1="544.3" y1="444.6" x2="544.3" y2="446.2" stroke="#4D4D4D" stroke-width="0.8" />
<text x="544.3" y="451.4" font-size="5.3" text-anchor="middle" fill="#333" stroke="#333" >3</text>
<text x="561.55" y="435.7" font-size="5.85" text-anchor="middle" fill="#111" stroke="#111" >28</text>
<text x="561.55" y="442.7" font-size="5.85" text-anchor="middle" fill="#111" stroke="#111" >38</text>
<line x1="561.55" y1="444.6" x2="561.55" y2="446.2" stroke="#4D4D4D" stroke-width="0.8" />
<text x="561.55" y="451.4" font-size="5.3" text-anchor="middle" fill="#333" stroke="#333" >4</text>
<text x="578.8" y="435.7" font-size="5.85" text-anchor="middle" fill="#111" stroke="#111" >17</text>
<text x="578.8" y="442.7" font-size="5.85" text-anchor="middle" fill="#111" stroke="#111" >26</text>
<line x1="578.8" y1="444.6" x2="578.8" y2="446.2" stroke="#4D4D4D" stroke-width="0.8" />
<text x="578.8" y="451.4" font-size="5.3" text-anchor="middle" fill="#333" stroke="#333" >5</text>
<text x="596.05" y="435.7" font-size="5.85" text-anchor="middle" fill="#111" stroke="#111" >15</text>
<text x="596.05" y="442.7" font-size="5.85" text-anchor="middle" fill="#111" stroke="#111" >14</text>
<line x1="596.05" y1="444.6" x2="596.05" y2="446.2" stroke="#4D4D4D" stroke-width="0.8" />
<text x="596.05" y="451.4" font-size="5.3" text-anchor="middle" fill="#333" stroke="#333" >6</text>
<text x="613.3" y="435.7" font-size="5.85" text-anchor="middle" fill="#111" stroke="#111" >5</text>
<text x="613.3" y="442.7" font-size="5.85" text-anchor="middle" fill="#111" stroke="#111" >4</text>
<line x1="613.3" y1="444.6" x2="613.3" y2="446.2" stroke="#4D4D4D" stroke-width="0.8" />
<text x="613.3" y="451.4" font-size="5.3" text-anchor="middle" fill="#333" stroke="#333" >7</text>
<text x="630.55" y="435.7" font-size="5.85" text-anchor="middle" fill="#111" stroke="#111" >3</text>
<text x="630.55" y="442.7" font-size="5.85" text-anchor="middle" fill="#111" stroke="#111" >3</text>
<line x1="630.55" y1="444.6" x2="630.55" y2="446.2" stroke="#4D4D4D" stroke-width="0.8" />
<text x="630.55" y="451.4" font-size="5.3" text-anchor="middle" fill="#333" stroke="#333" >8</text>
<text x="647.8" y="435.7" font-size="5.85" text-anchor="middle" fill="#111" stroke="#111" >2</text>
<text x="647.8" y="442.7" font-size="5.85" text-anchor="middle" fill="#111" stroke="#111" >2</text>
<line x1="647.8" y1="444.6" x2="647.8" y2="446.2" stroke="#4D4D4D" stroke-width="0.8" />
<text x="647.8" y="451.4" font-size="5.3" text-anchor="middle" fill="#333" stroke="#333" >9</text>
<text x="665.05" y="435.7" font-size="5.85" text-anchor="middle" fill="#111" stroke="#111" >1</text>
<text x="665.05" y="442.7" font-size="5.85" text-anchor="middle" fill="#111" stroke="#111" >0</text>
<line x1="665.05" y1="444.6" x2="665.05" y2="446.2" stroke="#4D4D4D" stroke-width="0.8" />
<text x="665.05" y="451.4" font-size="5.3" text-anchor="middle" fill="#333" stroke="#333" >10</text>
<text x="578.8" y="458.3" font-size="6.3" text-anchor="middle" fill="#111" stroke="#111" >Time (years)</text>
<text transform="translate(467.4,437.1) rotate(-90)" font-size="6.6" text-anchor="middle" fill="#111" stroke="#111">WDR62</text>
<text x="22.2" y="473" font-size="14.2" text-anchor="start" fill="#000" stroke="#000" >F</text>
<text x="107.06" y="477.95" font-size="4.65" text-anchor="start" fill="#222" stroke="#222" >FANCI</text>
<line x1="123.65" y1="476.3" x2="130.25" y2="476.3" stroke="#F8774F" stroke-width="0.9" />
<line x1="126.95" y1="475.1" x2="126.95" y2="477.5" stroke="#F8774F" stroke-width="0.6" />
<text x="132.95" y="477.95" font-size="4.65" text-anchor="start" fill="#222" stroke="#222" >High</text>
<line x1="145.71" y1="476.3" x2="152.31" y2="476.3" stroke="#65CDDD" stroke-width="0.9" />
<line x1="149.01" y1="475.1" x2="149.01" y2="477.5" stroke="#65CDDD" stroke-width="0.6" />
<text x="155.61" y="477.95" font-size="4.65" text-anchor="start" fill="#222" stroke="#222" >Low</text>
<line x1="40.6" y1="488.6" x2="40.6" y2="586.45" stroke="#4D4D4D" stroke-width="0.9" />
<line x1="40.15" y1="586" x2="230.7" y2="586" stroke="#4D4D4D" stroke-width="0.9" />
<line x1="39" y1="493.3" x2="40.6" y2="493.3" stroke="#4D4D4D" stroke-width="0.8" />
<text x="37.6" y="495.2" font-size="5.3" text-anchor="end" fill="#333" stroke="#333" >1.00</text>
<line x1="39" y1="515.48" x2="40.6" y2="515.48" stroke="#4D4D4D" stroke-width="0.8" />
<text x="37.6" y="517.38" font-size="5.3" text-anchor="end" fill="#333" stroke="#333" >0.75</text>
<line x1="39" y1="537.65" x2="40.6" y2="537.65" stroke="#4D4D4D" stroke-width="0.8" />
<text x="37.6" y="539.55" font-size="5.3" text-anchor="end" fill="#333" stroke="#333" >0.50</text>
<line x1="39" y1="559.83" x2="40.6" y2="559.83" stroke="#4D4D4D" stroke-width="0.8" />
<text x="37.6" y="561.73" font-size="5.3" text-anchor="end" fill="#333" stroke="#333" >0.25</text>
<line x1="39" y1="582" x2="40.6" y2="582" stroke="#4D4D4D" stroke-width="0.8" />
<text x="37.6" y="583.9" font-size="5.3" text-anchor="end" fill="#333" stroke="#333" >0.00</text>
<line x1="49.35" y1="586" x2="49.35" y2="587.6" stroke="#4D4D4D" stroke-width="0.8" />
<text x="49.35" y="593" font-size="5.3" text-anchor="middle" fill="#333" stroke="#333" >0</text>
<line x1="66.6" y1="586" x2="66.6" y2="587.6" stroke="#4D4D4D" stroke-width="0.8" />
<text x="66.6" y="593" font-size="5.3" text-anchor="middle" fill="#333" stroke="#333" >1</text>
<line x1="83.85" y1="586" x2="83.85" y2="587.6" stroke="#4D4D4D" stroke-width="0.8" />
<text x="83.85" y="593" font-size="5.3" text-anchor="middle" fill="#333" stroke="#333" >2</text>
<line x1="101.1" y1="586" x2="101.1" y2="587.6" stroke="#4D4D4D" stroke-width="0.8" />
<text x="101.1" y="593" font-size="5.3" text-anchor="middle" fill="#333" stroke="#333" >3</text>
<line x1="118.35" y1="586" x2="118.35" y2="587.6" stroke="#4D4D4D" stroke-width="0.8" />
<text x="118.35" y="593" font-size="5.3" text-anchor="middle" fill="#333" stroke="#333" >4</text>
<line x1="135.6" y1="586" x2="135.6" y2="587.6" stroke="#4D4D4D" stroke-width="0.8" />
<text x="135.6" y="593" font-size="5.3" text-anchor="middle" fill="#333" stroke="#333" >5</text>
<line x1="152.85" y1="586" x2="152.85" y2="587.6" stroke="#4D4D4D" stroke-width="0.8" />
<text x="152.85" y="593" font-size="5.3" text-anchor="middle" fill="#333" stroke="#333" >6</text>
<line x1="170.1" y1="586" x2="170.1" y2="587.6" stroke="#4D4D4D" stroke-width="0.8" />
<text x="170.1" y="593" font-size="5.3" text-anchor="middle" fill="#333" stroke="#333" >7</text>
<line x1="187.35" y1="586" x2="187.35" y2="587.6" stroke="#4D4D4D" stroke-width="0.8" />
<text x="187.35" y="593" font-size="5.3" text-anchor="middle" fill="#333" stroke="#333" >8</text>
<line x1="204.6" y1="586" x2="204.6" y2="587.6" stroke="#4D4D4D" stroke-width="0.8" />
<text x="204.6" y="593" font-size="5.3" text-anchor="middle" fill="#333" stroke="#333" >9</text>
<line x1="221.85" y1="586" x2="221.85" y2="587.6" stroke="#4D4D4D" stroke-width="0.8" />
<text x="221.85" y="593" font-size="5.3" text-anchor="middle" fill="#333" stroke="#333" >10</text>
<text x="135.6" y="600.6" font-size="6.3" text-anchor="middle" fill="#111" stroke="#111" >Time (years)</text>
<text transform="translate(24.5,537.7) rotate(-90)" font-size="6.5" text-anchor="middle" fill="#111" stroke="#111">Overall survival</text>
<text x="52.6" y="567.6" font-size="7.8" text-anchor="start" fill="#111" stroke="#111" >p=0.001</text>
<path d="M48.91 493.51H49.59V494.15H50.26V494.79H50.94V495.43H51.61V496.06H52.29V496.70H52.96V497.34H53.43V498.04H53.89V498.73H54.35V499.43H54.82V500.12H55.28V500.82H55.74V501.51H56.20V502.20H56.88V502.81H57.55V503.42H58.23V504.03H58.91V504.64H59.58V505.24H60.26V505.85H60.93V506.46H61.61V507.07H62.07V507.91H62.53V508.76H62.99V509.61H63.46V510.46H63.92V511.31H64.38V512.16H64.85V513.01H65.33V513.68H65.82V514.36H66.31V515.03H66.79V515.71H67.28V516.38H67.76V517.06H68.25V517.73H68.74V518.41H69.22V519.08H69.71V519.76H72.41V520.43H75.11V521.11H76.46V521.78H77.81V522.46H79.16V523.14H80.51V523.81H81.05V524.46H81.59V525.11H82.13V525.75H82.67V526.40H83.21V527.05H84.22V527.73H85.24V528.40H86.25V529.08H87.26V529.75H90.64V530.56H94.01V531.37H96.72V532.00H99.42V532.63H102.12V533.26H105.72V533.89H109.32V534.52H112.92V535.15H113.82V535.74H114.72V536.32H115.62V536.91H116.52V537.49H117.42V538.08H118.32V538.66H120.35V539.34H122.37V540.01H124.40V540.69H126.42V541.37H128.22V542.00H130.02V542.63H131.82V543.26H133.18V543.93H134.53V544.61H135.88V545.28H137.23V545.96H164.77V545.96H165.18V547.31H165.58V548.66H165.99V550.01H166.39V551.36H166.84V552.84H167.29V554.33H167.74V555.81H168.19V557.30H168.64V558.78H169.09V560.27H223.65V560.27" fill="none" stroke="#F8774F" stroke-width="1.15"/>
<path d="M49.21 492.54v2.5M51.45 494.66v2.5M51.63 494.83v2.5M53.17 496.41v2.5M53.97 497.60v2.5M55.19 499.43v2.5M56.16 500.89v2.5M57.01 501.68v2.5M57.64 502.24v2.5M59.32 503.75v2.5M59.80 504.19v2.5M60.78 505.08v2.5M62.34 507.16v2.5M62.93 508.24v2.5M63.79 509.82v2.5M64.58 511.26v2.5M65.80 513.08v2.5M66.28 513.74v2.5M67.61 515.59v2.5M68.44 516.75v2.5M69.57 518.32v2.5M70.50 518.71v2.5M72.81 519.29v2.5M74.34 519.67v2.5M75.53 520.07v2.5M76.75 520.68v2.5M78.65 521.63v2.5M79.27 521.94v2.5M81.74 524.04v2.5M82.06 524.41v2.5M83.25 525.83v2.5M84.71 526.80v2.5M87.17 528.44v2.5M87.84 528.64v2.5M89.19 528.96v2.5M90.69 529.32v2.5M92.40 529.73v2.5M95.42 530.45v2.5M97.32 530.89v2.5M99.48 531.40v2.5M101.58 531.89v2.5M102.24 532.03v2.5M104.98 532.51v2.5M106.37 532.76v2.5M108.99 533.22v2.5M110.79 533.53v2.5M112.72 533.87v2.5M113.01 533.96v2.5M115.44 535.54v2.5M116.86 536.46v2.5M118.25 537.37v2.5M118.49 537.47v2.5M120.28 538.07v2.5M121.74 538.56v2.5M123.24 539.05v2.5M126.18 540.03v2.5M127.89 540.63v2.5M129.37 541.14v2.5M131.51 541.90v2.5M132.68 542.43v2.5M133.56 542.87v2.5M134.66 543.42v2.5M136.01 544.10v2.5M141.40 544.71v2.5M143.87 544.71v2.5M150.00 544.71v2.5M156.09 544.71v2.5M159.38 544.71v2.5M164.91 545.17v2.5M165.47 547.02v2.5M166.24 549.60v2.5" stroke="#F8774F" stroke-width="0.75" fill="none"/>
<path d="M167.59 553.03v2.6M183.22 558.97v2.6M194.45 558.97v2.6M211.30 558.97v2.6" stroke="#F8774F" stroke-width="0.7" fill="none"/>
<path d="M48.91 493.51H49.56V494.17H50.21V494.83H50.86V495.48H51.51V496.14H52.15V496.80H55.30V497.52H58.46V498.24H61.61V498.96H63.63V499.64H65.66V500.31H67.68V500.99H69.71V501.66H73.76V502.74H74.27V503.35H74.77V503.96H75.28V504.57H75.78V505.18H76.29V505.78H76.80V506.39H77.30V507.00H77.81V507.61H78.58V508.18H79.35V508.76H80.13V509.34H80.90V509.92H81.67V510.50H82.44V511.08H83.21V511.66H83.89V512.23H84.56V512.80H85.24V513.38H85.91V513.95H86.59V514.53H87.26V515.10H87.94V515.67H88.61V516.25H89.51V516.97H90.41V517.69H91.31V518.41H96.72V519.08H102.12V519.76H103.47V520.34H104.82V520.93H106.17V521.51H107.52V522.10H108.87V522.68H110.22V523.27H112.92V523.95H115.62V524.62H118.32V525.30H121.02V525.97H122.37V526.65H123.72V527.32H125.07V528.00H126.42V528.67H128.11V529.35H129.80V530.02H131.49V530.70H133.18V531.37H138.58V532.45H149.38V532.45H149.78V534.88H150.19V537.31H165.58V537.31H165.99V540.01H166.39V542.72H166.84V543.71H167.29V544.70H167.74V545.69H168.19V546.68H168.64V547.67H169.09V548.66H196.64V548.66H197.18V555.68H203.39V555.68H203.93V562.16H214.20V562.16" fill="none" stroke="#65CDDD" stroke-width="1.15"/>
<path d="M49.02 492.37v2.5M51.03 494.41v2.5M51.18 494.57v2.5M52.88 495.72v2.5M55.90 496.41v2.5M57.44 496.76v2.5M59.21 497.17v2.5M60.54 497.47v2.5M61.92 497.82v2.5M64.26 498.60v2.5M65.02 498.85v2.5M66.80 499.45v2.5M68.72 500.08v2.5M69.78 500.43v2.5M72.54 501.17v2.5M74.56 502.46v2.5M75.47 503.55v2.5M76.29 504.53v2.5M77.44 505.91v2.5M78.44 506.83v2.5M79.35 507.51v2.5M81.33 508.99v2.5M82.41 509.80v2.5M84.21 511.26v2.5M85.79 512.60v2.5M86.49 513.20v2.5M88.04 514.51v2.5M89.62 515.81v2.5M90.53 516.53v2.5M91.73 517.21v2.5M94.41 517.55v2.5M96.50 517.81v2.5M98.11 518.01v2.5M99.78 518.22v2.5M101.85 518.48v2.5M103.22 518.99v2.5M104.78 519.66v2.5M106.09 520.23v2.5M107.49 520.84v2.5M109.62 521.76v2.5M110.40 522.06v2.5M112.77 522.66v2.5M115.23 523.27v2.5M116.90 523.69v2.5M118.55 524.10v2.5M119.67 524.38v2.5M121.59 525.01v2.5M122.99 525.70v2.5M124.56 526.49v2.5M125.63 527.02v2.5M127.56 527.88v2.5M129.68 528.72v2.5M130.11 528.90v2.5M132.59 529.89v2.5M134.58 530.40v2.5M135.68 530.62v2.5M137.66 531.02v2.5M143.84 531.20v2.5M144.18 531.20v2.5M149.60 532.52v2.5M149.85 534.02v2.5M154.20 536.06v2.5M160.15 536.06v2.5M163.12 536.06v2.5M165.61 536.25v2.5M166.01 538.90v2.5M166.27 540.64v2.5" stroke="#65CDDD" stroke-width="0.75" fill="none"/>
<path d="M168.12 544.39v2.6M181.29 547.36v2.6M196.41 547.36v2.6" stroke="#65CDDD" stroke-width="0.7" fill="none"/>
<line x1="40.6" y1="617" x2="40.6" y2="632.85" stroke="#4D4D4D" stroke-width="0.9" />
<line x1="40.15" y1="632.4" x2="230.7" y2="632.4" stroke="#4D4D4D" stroke-width="0.9" />
<line x1="39" y1="621" x2="40.6" y2="621" stroke="#4D4D4D" stroke-width="0.8" />
<line x1="39" y1="628" x2="40.6" y2="628" stroke="#4D4D4D" stroke-width="0.8" />
<text x="37.8" y="622.95" font-size="5.4" text-anchor="end" fill="#F8774F" stroke="#F8774F" style="stroke-width:0.05px">High</text>
<text x="37.8" y="629.95" font-size="5.4" text-anchor="end" fill="#65CDDD" stroke="#65CDDD" style="stroke-width:0.05px">Low</text>
<text x="49.35" y="623.5" font-size="5.85" text-anchor="middle" fill="#111" stroke="#111" >184</text>
<text x="49.35" y="630.5" font-size="5.85" text-anchor="middle" fill="#111" stroke="#111" >184</text>
<line x1="49.35" y1="632.4" x2="49.35" y2="634" stroke="#4D4D4D" stroke-width="0.8" />
<text x="49.35" y="639.2" font-size="5.3" text-anchor="middle" fill="#333" stroke="#333" >0</text>
<text x="66.6" y="623.5" font-size="5.85" text-anchor="middle" fill="#111" stroke="#111" >117</text>
<text x="66.6" y="630.5" font-size="5.85" text-anchor="middle" fill="#111" stroke="#111" >147</text>
<line x1="66.6" y1="632.4" x2="66.6" y2="634" stroke="#4D4D4D" stroke-width="0.8" />
<text x="66.6" y="639.2" font-size="5.3" text-anchor="middle" fill="#333" stroke="#333" >1</text>
<text x="83.85" y="623.5" font-size="5.85" text-anchor="middle" fill="#111" stroke="#111" >61</text>
<text x="83.85" y="630.5" font-size="5.85" text-anchor="middle" fill="#111" stroke="#111" >82</text>
<line x1="83.85" y1="632.4" x2="83.85" y2="634" stroke="#4D4D4D" stroke-width="0.8" />
<text x="83.85" y="639.2" font-size="5.3" text-anchor="middle" fill="#333" stroke="#333" >2</text>
<text x="101.1" y="623.5" font-size="5.85" text-anchor="middle" fill="#111" stroke="#111" >40</text>
<text x="101.1" y="630.5" font-size="5.85" text-anchor="middle" fill="#111" stroke="#111" >53</text>
<line x1="101.1" y1="632.4" x2="101.1" y2="634" stroke="#4D4D4D" stroke-width="0.8" />
<text x="101.1" y="639.2" font-size="5.3" text-anchor="middle" fill="#333" stroke="#333" >3</text>
<text x="118.35" y="623.5" font-size="5.85" text-anchor="middle" fill="#111" stroke="#111" >26</text>
<text x="118.35" y="630.5" font-size="5.85" text-anchor="middle" fill="#111" stroke="#111" >40</text>
<line x1="118.35" y1="632.4" x2="118.35" y2="634" stroke="#4D4D4D" stroke-width="0.8" />
<text x="118.35" y="639.2" font-size="5.3" text-anchor="middle" fill="#333" stroke="#333" >4</text>
<text x="135.6" y="623.5" font-size="5.85" text-anchor="middle" fill="#111" stroke="#111" >15</text>
<text x="135.6" y="630.5" font-size="5.85" text-anchor="middle" fill="#111" stroke="#111" >28</text>
<line x1="135.6" y1="632.4" x2="135.6" y2="634" stroke="#4D4D4D" stroke-width="0.8" />
<text x="135.6" y="639.2" font-size="5.3" text-anchor="middle" fill="#333" stroke="#333" >5</text>
<text x="152.85" y="623.5" font-size="5.85" text-anchor="middle" fill="#111" stroke="#111" >12</text>
<text x="152.85" y="630.5" font-size="5.85" text-anchor="middle" fill="#111" stroke="#111" >17</text>
<line x1="152.85" y1="632.4" x2="152.85" y2="634" stroke="#4D4D4D" stroke-width="0.8" />
<text x="152.85" y="639.2" font-size="5.3" text-anchor="middle" fill="#333" stroke="#333" >6</text>
<text x="170.1" y="623.5" font-size="5.85" text-anchor="middle" fill="#111" stroke="#111" >3</text>
<text x="170.1" y="630.5" font-size="5.85" text-anchor="middle" fill="#111" stroke="#111" >6</text>
<line x1="170.1" y1="632.4" x2="170.1" y2="634" stroke="#4D4D4D" stroke-width="0.8" />
<text x="170.1" y="639.2" font-size="5.3" text-anchor="middle" fill="#333" stroke="#333" >7</text>
<text x="187.35" y="623.5" font-size="5.85" text-anchor="middle" fill="#111" stroke="#111" >1</text>
<text x="187.35" y="630.5" font-size="5.85" text-anchor="middle" fill="#111" stroke="#111" >5</text>
<line x1="187.35" y1="632.4" x2="187.35" y2="634" stroke="#4D4D4D" stroke-width="0.8" />
<text x="187.35" y="639.2" font-size="5.3" text-anchor="middle" fill="#333" stroke="#333" >8</text>
<text x="204.6" y="623.5" font-size="5.85" text-anchor="middle" fill="#111" stroke="#111" >1</text>
<text x="204.6" y="630.5" font-size="5.85" text-anchor="middle" fill="#111" stroke="#111" >3</text>
<line x1="204.6" y1="632.4" x2="204.6" y2="634" stroke="#4D4D4D" stroke-width="0.8" />
<text x="204.6" y="639.2" font-size="5.3" text-anchor="middle" fill="#333" stroke="#333" >9</text>
<text x="221.85" y="623.5" font-size="5.85" text-anchor="middle" fill="#111" stroke="#111" >1</text>
<text x="221.85" y="630.5" font-size="5.85" text-anchor="middle" fill="#111" stroke="#111" >0</text>
<line x1="221.85" y1="632.4" x2="221.85" y2="634" stroke="#4D4D4D" stroke-width="0.8" />
<text x="221.85" y="639.2" font-size="5.3" text-anchor="middle" fill="#333" stroke="#333" >10</text>
<text x="135.6" y="646.1" font-size="6.3" text-anchor="middle" fill="#111" stroke="#111" >Time (years)</text>
<text transform="translate(24.2,624.9) rotate(-90)" font-size="6.6" text-anchor="middle" fill="#111" stroke="#111">FANCI</text>
<text x="239.3" y="476.9" font-size="14.2" text-anchor="start" fill="#000" stroke="#000" >G</text>
<text x="328.08" y="478.05" font-size="4.65" text-anchor="start" fill="#222" stroke="#222" >KPNA2</text>
<line x1="346.23" y1="476.4" x2="352.83" y2="476.4" stroke="#F8774F" stroke-width="0.9" />
<line x1="349.53" y1="475.2" x2="349.53" y2="477.6" stroke="#F8774F" stroke-width="0.6" />
<text x="355.53" y="478.05" font-size="4.65" text-anchor="start" fill="#222" stroke="#222" >High</text>
<line x1="368.29" y1="476.4" x2="374.89" y2="476.4" stroke="#65CDDD" stroke-width="0.9" />
<line x1="371.59" y1="475.2" x2="371.59" y2="477.6" stroke="#65CDDD" stroke-width="0.6" />
<text x="378.19" y="478.05" font-size="4.65" text-anchor="start" fill="#222" stroke="#222" >Low</text>
<line x1="262.4" y1="488.7" x2="262.4" y2="586.55" stroke="#4D4D4D" stroke-width="0.9" />
<line x1="261.95" y1="586.1" x2="452.5" y2="586.1" stroke="#4D4D4D" stroke-width="0.9" />
<line x1="260.8" y1="493.4" x2="262.4" y2="493.4" stroke="#4D4D4D" stroke-width="0.8" />
<text x="259.4" y="495.3" font-size="5.3" text-anchor="end" fill="#333" stroke="#333" >1.00</text>
<line x1="260.8" y1="515.57" x2="262.4" y2="515.57" stroke="#4D4D4D" stroke-width="0.8" />
<text x="259.4" y="517.47" font-size="5.3" text-anchor="end" fill="#333" stroke="#333" >0.75</text>
<line x1="260.8" y1="537.75" x2="262.4" y2="537.75" stroke="#4D4D4D" stroke-width="0.8" />
<text x="259.4" y="539.65" font-size="5.3" text-anchor="end" fill="#333" stroke="#333" >0.50</text>
<line x1="260.8" y1="559.92" x2="262.4" y2="559.92" stroke="#4D4D4D" stroke-width="0.8" />
<text x="259.4" y="561.82" font-size="5.3" text-anchor="end" fill="#333" stroke="#333" >0.25</text>
<line x1="260.8" y1="582.1" x2="262.4" y2="582.1" stroke="#4D4D4D" stroke-width="0.8" />
<text x="259.4" y="584" font-size="5.3" text-anchor="end" fill="#333" stroke="#333" >0.00</text>
<line x1="271.15" y1="586.1" x2="271.15" y2="587.7" stroke="#4D4D4D" stroke-width="0.8" />
<text x="271.15" y="593.1" font-size="5.3" text-anchor="middle" fill="#333" stroke="#333" >0</text>
<line x1="288.4" y1="586.1" x2="288.4" y2="587.7" stroke="#4D4D4D" stroke-width="0.8" />
<text x="288.4" y="593.1" font-size="5.3" text-anchor="middle" fill="#333" stroke="#333" >1</text>
<line x1="305.65" y1="586.1" x2="305.65" y2="587.7" stroke="#4D4D4D" stroke-width="0.8" />
<text x="305.65" y="593.1" font-size="5.3" text-anchor="middle" fill="#333" stroke="#333" >2</text>
<line x1="322.9" y1="586.1" x2="322.9" y2="587.7" stroke="#4D4D4D" stroke-width="0.8" />
<text x="322.9" y="593.1" font-size="5.3" text-anchor="middle" fill="#333" stroke="#333" >3</text>
<line x1="340.15" y1="586.1" x2="340.15" y2="587.7" stroke="#4D4D4D" stroke-width="0.8" />
<text x="340.15" y="593.1" font-size="5.3" text-anchor="middle" fill="#333" stroke="#333" >4</text>
<line x1="357.4" y1="586.1" x2="357.4" y2="587.7" stroke="#4D4D4D" stroke-width="0.8" />
<text x="357.4" y="593.1" font-size="5.3" text-anchor="middle" fill="#333" stroke="#333" >5</text>
<line x1="374.65" y1="586.1" x2="374.65" y2="587.7" stroke="#4D4D4D" stroke-width="0.8" />
<text x="374.65" y="593.1" font-size="5.3" text-anchor="middle" fill="#333" stroke="#333" >6</text>
<line x1="391.9" y1="586.1" x2="391.9" y2="587.7" stroke="#4D4D4D" stroke-width="0.8" />
<text x="391.9" y="593.1" font-size="5.3" text-anchor="middle" fill="#333" stroke="#333" >7</text>
<line x1="409.15" y1="586.1" x2="409.15" y2="587.7" stroke="#4D4D4D" stroke-width="0.8" />
<text x="409.15" y="593.1" font-size="5.3" text-anchor="middle" fill="#333" stroke="#333" >8</text>
<line x1="426.4" y1="586.1" x2="426.4" y2="587.7" stroke="#4D4D4D" stroke-width="0.8" />
<text x="426.4" y="593.1" font-size="5.3" text-anchor="middle" fill="#333" stroke="#333" >9</text>
<line x1="443.65" y1="586.1" x2="443.65" y2="587.7" stroke="#4D4D4D" stroke-width="0.8" />
<text x="443.65" y="593.1" font-size="5.3" text-anchor="middle" fill="#333" stroke="#333" >10</text>
<text x="357.4" y="600.7" font-size="6.3" text-anchor="middle" fill="#111" stroke="#111" >Time (years)</text>
<text transform="translate(246.3,537.8) rotate(-90)" font-size="6.5" text-anchor="middle" fill="#111" stroke="#111">Overall survival</text>
<text x="274.4" y="567.7" font-size="7.8" text-anchor="start" fill="#111" stroke="#111" >p<0.001</text>
<path d="M270.91 493.51H271.42V494.09H271.93V494.67H272.43V495.25H272.94V495.83H273.44V496.41H273.95V496.99H274.46V497.57H274.96V498.15H275.43V498.73H275.89V499.31H276.35V499.89H276.82V500.47H277.28V501.05H277.74V501.63H278.20V502.20H278.80V502.80H279.40V503.40H280.00V504.00H280.61V504.61H281.21V505.21H281.81V505.81H282.41V506.41H283.01V507.01H283.61V507.61H284.06V508.36H284.51V509.11H284.96V509.86H285.41V510.61H285.86V511.36H286.31V512.11H286.76V512.86H287.21V513.61H287.66V514.36H288.11V514.96H288.56V515.56H289.01V516.16H289.46V516.76H289.91V517.36H290.36V517.96H290.81V518.56H291.26V519.16H291.71V519.76H293.51V520.48H295.31V521.20H297.11V521.92H298.19V522.57H299.27V523.22H300.35V523.86H301.43V524.51H302.51V525.16H303.09V525.74H303.67V526.32H304.25V526.90H304.83V527.48H305.40V528.05H305.98V528.63H306.56V529.21H307.37V529.86H308.18V530.51H308.99V531.16H309.80V531.80H310.61V532.45H313.31V533.17H316.01V533.89H318.72V534.61H320.74V535.29H322.77V535.96H324.79V536.64H326.82V537.31H334.92V537.85H335.82V538.44H336.72V539.02H337.62V539.61H338.52V540.19H339.42V540.78H340.32V541.37H343.02V542.00H345.72V542.63H348.42V543.26H351.12V543.93H353.82V544.61H356.53V545.28H359.23V545.96H387.58V545.96H388.03V548.48H388.48V551.00H388.93V553.52H389.37V554.87H389.80V556.22H390.23V557.57H390.66V558.92H391.09V560.27H445.65V560.27" fill="none" stroke="#F8774F" stroke-width="1.15"/>
<path d="M271.59 493.03v2.5M272.78 494.40v2.5M273.32 495.02v2.5M274.37 496.23v2.5M276.00 498.20v2.5M276.13 498.36v2.5M277.81 500.46v2.5M278.89 501.64v2.5M279.32 502.07v2.5M281.02 503.77v2.5M282.18 504.93v2.5M283.53 506.28v2.5M283.87 506.80v2.5M285.21 509.03v2.5M285.64 509.75v2.5M286.43 511.06v2.5M287.57 512.97v2.5M287.69 513.15v2.5M289.40 515.43v2.5M290.32 516.65v2.5M291.04 517.62v2.5M293.26 519.13v2.5M294.17 519.49v2.5M296.16 520.29v2.5M297.82 521.10v2.5M299.50 522.10v2.5M300.09 522.46v2.5M301.75 523.45v2.5M302.94 524.34v2.5M304.08 525.48v2.5M305.37 526.77v2.5M305.85 527.25v2.5M307.68 528.86v2.5M308.46 529.48v2.5M309.94 530.67v2.5M311.05 531.32v2.5M313.05 531.85v2.5M315.43 532.49v2.5M316.54 532.78v2.5M318.38 533.27v2.5M319.25 533.54v2.5M320.85 534.07v2.5M322.44 534.61v2.5M324.53 535.30v2.5M326.23 535.87v2.5M328.41 536.17v2.5M328.92 536.20v2.5M332.33 536.43v2.5M334.69 536.59v2.5M335.66 537.08v2.5M336.34 537.53v2.5M338.03 538.62v2.5M338.98 539.24v2.5M340.71 540.20v2.5M344.21 541.02v2.5M345.61 541.35v2.5M347.73 541.84v2.5M349.84 542.36v2.5M351.86 542.87v2.5M353.13 543.18v2.5M354.94 543.63v2.5M356.75 544.09v2.5M358.68 544.57v2.5M362.61 544.71v2.5M368.76 544.71v2.5M371.77 544.71v2.5M380.02 544.71v2.5M384.51 544.71v2.5M387.84 546.15v2.5M387.96 546.79v2.5M388.32 548.83v2.5M388.61 550.45v2.5" stroke="#F8774F" stroke-width="0.75" fill="none"/>
<path d="M390.02 554.92v2.6M390.46 556.27v2.6M390.88 557.62v2.6M426.02 558.97v2.6" stroke="#F8774F" stroke-width="0.7" fill="none"/>
<path d="M270.91 493.51H271.56V494.17H272.21V494.83H272.86V495.48H273.51V496.14H274.15V496.80H280.23V497.48H286.31V498.15H287.46V498.73H288.62V499.31H289.78V499.89H290.94V500.47H292.09V501.05H293.25V501.63H294.41V502.20H295.08V502.77H295.76V503.33H296.43V503.89H297.11V504.46H297.78V505.02H298.46V505.58H299.14V506.14H299.81V506.71H300.49V507.27H301.16V507.83H301.84V508.39H302.51V508.96H303.28V509.53H304.05V510.11H304.83V510.69H305.60V511.27H306.37V511.85H307.14V512.43H307.91V513.01H309.26V513.73H310.61V514.45H311.96V515.17H316.01V515.80H320.07V516.43H324.12V517.06H325.47V517.64H326.82V518.23H328.17V518.81H329.52V519.40H330.87V519.98H332.22V520.57H334.24V521.24H336.27V521.92H338.30V522.59H340.32V523.27H341.94V523.92H343.56V524.57H345.18V525.21H346.80V525.86H348.42V526.51H349.27V527.12H350.11V527.73H350.96V528.33H351.80V528.94H352.64V529.55H353.49V530.16H354.33V530.76H355.18V531.37H370.03V531.91H370.48V533.89H370.93V535.87H371.38V537.85H387.58V537.85H387.99V540.55H388.39V543.26H388.84V544.29H389.29V545.33H389.74V546.36H390.19V547.40H390.64V548.43H391.09V549.47H418.64V549.47H419.18V555.68H425.39V555.68H425.93V562.16H434.85V562.16" fill="none" stroke="#65CDDD" stroke-width="1.15"/>
<path d="M271.25 492.60v2.5M272.46 493.83v2.5M274.03 495.43v2.5M274.92 495.64v2.5M277.57 495.93v2.5M279.42 496.14v2.5M282.05 496.43v2.5M283.89 496.63v2.5M284.85 496.74v2.5M286.31 496.90v2.5M288.01 497.76v2.5M289.58 498.54v2.5M291.15 499.32v2.5M292.81 500.15v2.5M294.26 500.88v2.5M294.46 501.00v2.5M296.53 502.72v2.5M297.66 503.67v2.5M298.88 504.68v2.5M299.70 505.36v2.5M300.51 506.04v2.5M302.34 507.56v2.5M303.60 508.52v2.5M304.79 509.41v2.5M306.45 510.66v2.5M307.03 511.10v2.5M308.03 511.82v2.5M310.01 512.88v2.5M311.69 513.77v2.5M312.31 513.97v2.5M315.00 514.39v2.5M317.05 514.71v2.5M317.58 514.79v2.5M319.96 515.16v2.5M321.82 515.45v2.5M323.19 515.66v2.5M324.45 515.95v2.5M326.15 516.69v2.5M328.57 517.74v2.5M330.26 518.47v2.5M331.34 518.94v2.5M332.36 519.37v2.5M335.15 520.30v2.5M336.71 520.82v2.5M337.46 521.07v2.5M339.64 521.79v2.5M341.77 522.60v2.5M343.38 523.24v2.5M344.41 523.65v2.5M345.95 524.27v2.5M347.76 524.99v2.5M348.68 525.44v2.5M350.03 526.42v2.5M351.37 527.38v2.5M353.42 528.86v2.5M354.31 529.50v2.5M356.37 530.17v2.5M358.15 530.23v2.5M360.52 530.32v2.5M361.86 530.37v2.5M363.76 530.43v2.5M367.90 530.59v2.5M368.70 530.61v2.5M370.08 530.87v2.5M370.76 533.90v2.5M371.28 536.18v2.5M372.22 536.60v2.5M380.01 536.60v2.5M384.05 536.60v2.5M387.72 537.54v2.5M387.86 538.44v2.5M388.13 540.27v2.5" stroke="#65CDDD" stroke-width="0.75" fill="none"/>
<line x1="262.4" y1="617.1" x2="262.4" y2="632.95" stroke="#4D4D4D" stroke-width="0.9" />
<line x1="261.95" y1="632.5" x2="452.5" y2="632.5" stroke="#4D4D4D" stroke-width="0.9" />
<line x1="260.8" y1="621.1" x2="262.4" y2="621.1" stroke="#4D4D4D" stroke-width="0.8" />
<line x1="260.8" y1="628.1" x2="262.4" y2="628.1" stroke="#4D4D4D" stroke-width="0.8" />
<text x="259.6" y="623.05" font-size="5.4" text-anchor="end" fill="#F8774F" stroke="#F8774F" style="stroke-width:0.05px">High</text>
<text x="259.6" y="630.05" font-size="5.4" text-anchor="end" fill="#65CDDD" stroke="#65CDDD" style="stroke-width:0.05px">Low</text>
<text x="271.15" y="623.6" font-size="5.85" text-anchor="middle" fill="#111" stroke="#111" >184</text>
<text x="271.15" y="630.6" font-size="5.85" text-anchor="middle" fill="#111" stroke="#111" >184</text>
<line x1="271.15" y1="632.5" x2="271.15" y2="634.1" stroke="#4D4D4D" stroke-width="0.8" />
<text x="271.15" y="639.3" font-size="5.3" text-anchor="middle" fill="#333" stroke="#333" >0</text>
<text x="288.4" y="623.6" font-size="5.85" text-anchor="middle" fill="#111" stroke="#111" >113</text>
<text x="288.4" y="630.6" font-size="5.85" text-anchor="middle" fill="#111" stroke="#111" >151</text>
<line x1="288.4" y1="632.5" x2="288.4" y2="634.1" stroke="#4D4D4D" stroke-width="0.8" />
<text x="288.4" y="639.3" font-size="5.3" text-anchor="middle" fill="#333" stroke="#333" >1</text>
<text x="305.65" y="623.6" font-size="5.85" text-anchor="middle" fill="#111" stroke="#111" >61</text>
<text x="305.65" y="630.6" font-size="5.85" text-anchor="middle" fill="#111" stroke="#111" >82</text>
<line x1="305.65" y1="632.5" x2="305.65" y2="634.1" stroke="#4D4D4D" stroke-width="0.8" />
<text x="305.65" y="639.3" font-size="5.3" text-anchor="middle" fill="#333" stroke="#333" >2</text>
<text x="322.9" y="623.6" font-size="5.85" text-anchor="middle" fill="#111" stroke="#111" >39</text>
<text x="322.9" y="630.6" font-size="5.85" text-anchor="middle" fill="#111" stroke="#111" >54</text>
<line x1="322.9" y1="632.5" x2="322.9" y2="634.1" stroke="#4D4D4D" stroke-width="0.8" />
<text x="322.9" y="639.3" font-size="5.3" text-anchor="middle" fill="#333" stroke="#333" >3</text>
<text x="340.15" y="623.6" font-size="5.85" text-anchor="middle" fill="#111" stroke="#111" >27</text>
<text x="340.15" y="630.6" font-size="5.85" text-anchor="middle" fill="#111" stroke="#111" >39</text>
<line x1="340.15" y1="632.5" x2="340.15" y2="634.1" stroke="#4D4D4D" stroke-width="0.8" />
<text x="340.15" y="639.3" font-size="5.3" text-anchor="middle" fill="#333" stroke="#333" >4</text>
<text x="357.4" y="623.6" font-size="5.85" text-anchor="middle" fill="#111" stroke="#111" >18</text>
<text x="357.4" y="630.6" font-size="5.85" text-anchor="middle" fill="#111" stroke="#111" >25</text>
<line x1="357.4" y1="632.5" x2="357.4" y2="634.1" stroke="#4D4D4D" stroke-width="0.8" />
<text x="357.4" y="639.3" font-size="5.3" text-anchor="middle" fill="#333" stroke="#333" >5</text>
<text x="374.65" y="623.6" font-size="5.85" text-anchor="middle" fill="#111" stroke="#111" >15</text>
<text x="374.65" y="630.6" font-size="5.85" text-anchor="middle" fill="#111" stroke="#111" >14</text>
<line x1="374.65" y1="632.5" x2="374.65" y2="634.1" stroke="#4D4D4D" stroke-width="0.8" />
<text x="374.65" y="639.3" font-size="5.3" text-anchor="middle" fill="#333" stroke="#333" >6</text>
<text x="391.9" y="623.6" font-size="5.85" text-anchor="middle" fill="#111" stroke="#111" >3</text>
<text x="391.9" y="630.6" font-size="5.85" text-anchor="middle" fill="#111" stroke="#111" >6</text>
<line x1="391.9" y1="632.5" x2="391.9" y2="634.1" stroke="#4D4D4D" stroke-width="0.8" />
<text x="391.9" y="639.3" font-size="5.3" text-anchor="middle" fill="#333" stroke="#333" >7</text>
<text x="409.15" y="623.6" font-size="5.85" text-anchor="middle" fill="#111" stroke="#111" >1</text>
<text x="409.15" y="630.6" font-size="5.85" text-anchor="middle" fill="#111" stroke="#111" >5</text>
<line x1="409.15" y1="632.5" x2="409.15" y2="634.1" stroke="#4D4D4D" stroke-width="0.8" />
<text x="409.15" y="639.3" font-size="5.3" text-anchor="middle" fill="#333" stroke="#333" >8</text>
<text x="426.4" y="623.6" font-size="5.85" text-anchor="middle" fill="#111" stroke="#111" >1</text>
<text x="426.4" y="630.6" font-size="5.85" text-anchor="middle" fill="#111" stroke="#111" >3</text>
<line x1="426.4" y1="632.5" x2="426.4" y2="634.1" stroke="#4D4D4D" stroke-width="0.8" />
<text x="426.4" y="639.3" font-size="5.3" text-anchor="middle" fill="#333" stroke="#333" >9</text>
<text x="443.65" y="623.6" font-size="5.85" text-anchor="middle" fill="#111" stroke="#111" >1</text>
<text x="443.65" y="630.6" font-size="5.85" text-anchor="middle" fill="#111" stroke="#111" >0</text>
<line x1="443.65" y1="632.5" x2="443.65" y2="634.1" stroke="#4D4D4D" stroke-width="0.8" />
<text x="443.65" y="639.3" font-size="5.3" text-anchor="middle" fill="#333" stroke="#333" >10</text>
<text x="357.4" y="646.2" font-size="6.3" text-anchor="middle" fill="#111" stroke="#111" >Time (years)</text>
<text transform="translate(246,625) rotate(-90)" font-size="6.6" text-anchor="middle" fill="#111" stroke="#111">KPNA2</text>
<text x="460.3" y="477.2" font-size="14.2" text-anchor="start" fill="#000" stroke="#000" >H</text>
<text x="549.58" y="477.95" font-size="4.65" text-anchor="start" fill="#222" stroke="#222" >MYBL2</text>
<line x1="567.73" y1="476.3" x2="574.33" y2="476.3" stroke="#F8774F" stroke-width="0.9" />
<line x1="571.03" y1="475.1" x2="571.03" y2="477.5" stroke="#F8774F" stroke-width="0.6" />
<text x="577.03" y="477.95" font-size="4.65" text-anchor="start" fill="#222" stroke="#222" >High</text>
<line x1="589.79" y1="476.3" x2="596.39" y2="476.3" stroke="#65CDDD" stroke-width="0.9" />
<line x1="593.09" y1="475.1" x2="593.09" y2="477.5" stroke="#65CDDD" stroke-width="0.6" />
<text x="599.69" y="477.95" font-size="4.65" text-anchor="start" fill="#222" stroke="#222" >Low</text>
<line x1="483.9" y1="488.6" x2="483.9" y2="586.45" stroke="#4D4D4D" stroke-width="0.9" />
<line x1="483.45" y1="586" x2="674" y2="586" stroke="#4D4D4D" stroke-width="0.9" />
<line x1="482.3" y1="493.3" x2="483.9" y2="493.3" stroke="#4D4D4D" stroke-width="0.8" />
<text x="480.9" y="495.2" font-size="5.3" text-anchor="end" fill="#333" stroke="#333" >1.00</text>
<line x1="482.3" y1="515.48" x2="483.9" y2="515.48" stroke="#4D4D4D" stroke-width="0.8" />
<text x="480.9" y="517.38" font-size="5.3" text-anchor="end" fill="#333" stroke="#333" >0.75</text>
<line x1="482.3" y1="537.65" x2="483.9" y2="537.65" stroke="#4D4D4D" stroke-width="0.8" />
<text x="480.9" y="539.55" font-size="5.3" text-anchor="end" fill="#333" stroke="#333" >0.50</text>
<line x1="482.3" y1="559.83" x2="483.9" y2="559.83" stroke="#4D4D4D" stroke-width="0.8" />
<text x="480.9" y="561.73" font-size="5.3" text-anchor="end" fill="#333" stroke="#333" >0.25</text>
<line x1="482.3" y1="582" x2="483.9" y2="582" stroke="#4D4D4D" stroke-width="0.8" />
<text x="480.9" y="583.9" font-size="5.3" text-anchor="end" fill="#333" stroke="#333" >0.00</text>
<line x1="492.65" y1="586" x2="492.65" y2="587.6" stroke="#4D4D4D" stroke-width="0.8" />
<text x="492.65" y="593" font-size="5.3" text-anchor="middle" fill="#333" stroke="#333" >0</text>
<line x1="509.9" y1="586" x2="509.9" y2="587.6" stroke="#4D4D4D" stroke-width="0.8" />
<text x="509.9" y="593" font-size="5.3" text-anchor="middle" fill="#333" stroke="#333" >1</text>
<line x1="527.15" y1="586" x2="527.15" y2="587.6" stroke="#4D4D4D" stroke-width="0.8" />
<text x="527.15" y="593" font-size="5.3" text-anchor="middle" fill="#333" stroke="#333" >2</text>
<line x1="544.4" y1="586" x2="544.4" y2="587.6" stroke="#4D4D4D" stroke-width="0.8" />
<text x="544.4" y="593" font-size="5.3" text-anchor="middle" fill="#333" stroke="#333" >3</text>
<line x1="561.65" y1="586" x2="561.65" y2="587.6" stroke="#4D4D4D" stroke-width="0.8" />
<text x="561.65" y="593" font-size="5.3" text-anchor="middle" fill="#333" stroke="#333" >4</text>
<line x1="578.9" y1="586" x2="578.9" y2="587.6" stroke="#4D4D4D" stroke-width="0.8" />
<text x="578.9" y="593" font-size="5.3" text-anchor="middle" fill="#333" stroke="#333" >5</text>
<line x1="596.15" y1="586" x2="596.15" y2="587.6" stroke="#4D4D4D" stroke-width="0.8" />
<text x="596.15" y="593" font-size="5.3" text-anchor="middle" fill="#333" stroke="#333" >6</text>
<line x1="613.4" y1="586" x2="613.4" y2="587.6" stroke="#4D4D4D" stroke-width="0.8" />
<text x="613.4" y="593" font-size="5.3" text-anchor="middle" fill="#333" stroke="#333" >7</text>
<line x1="630.65" y1="586" x2="630.65" y2="587.6" stroke="#4D4D4D" stroke-width="0.8" />
<text x="630.65" y="593" font-size="5.3" text-anchor="middle" fill="#333" stroke="#333" >8</text>
<line x1="647.9" y1="586" x2="647.9" y2="587.6" stroke="#4D4D4D" stroke-width="0.8" />
<text x="647.9" y="593" font-size="5.3" text-anchor="middle" fill="#333" stroke="#333" >9</text>
<line x1="665.15" y1="586" x2="665.15" y2="587.6" stroke="#4D4D4D" stroke-width="0.8" />
<text x="665.15" y="593" font-size="5.3" text-anchor="middle" fill="#333" stroke="#333" >10</text>
<text x="578.9" y="600.6" font-size="6.3" text-anchor="middle" fill="#111" stroke="#111" >Time (years)</text>
<text transform="translate(467.8,537.7) rotate(-90)" font-size="6.5" text-anchor="middle" fill="#111" stroke="#111">Overall survival</text>
<text x="495.9" y="567.6" font-size="7.8" text-anchor="start" fill="#111" stroke="#111" >p=0.001</text>
<path d="M491.91 493.51H492.59V494.15H493.26V494.79H493.94V495.43H494.61V496.06H495.29V496.70H495.96V497.34H496.43V498.04H496.89V498.73H497.35V499.43H497.82V500.12H498.28V500.82H498.74V501.51H499.20V502.20H499.88V502.81H500.55V503.42H501.23V504.03H501.91V504.64H502.58V505.24H503.26V505.85H503.93V506.46H504.61V507.07H505.07V507.91H505.53V508.76H505.99V509.61H506.46V510.46H506.92V511.31H507.38V512.16H507.85V513.01H508.33V513.68H508.82V514.36H509.31V515.03H509.79V515.71H510.28V516.38H510.76V517.06H511.25V517.73H511.74V518.41H512.22V519.08H512.71V519.76H514.06V520.43H515.41V521.11H516.76V521.78H518.11V522.46H519.01V523.05H519.91V523.63H520.81V524.22H521.71V524.80H522.61V525.39H523.51V525.97H524.19V526.60H524.86V527.23H525.54V527.86H526.21V528.49H526.89V529.12H527.56V529.75H528.46V530.47H529.36V531.19H530.26V531.91H532.51V532.63H534.76V533.35H537.01V534.07H539.18V534.72H541.34V535.37H543.50V536.02H545.66V536.67H547.82V537.31H555.92V537.85H556.82V538.44H557.72V539.02H558.62V539.61H559.52V540.19H560.42V540.78H561.32V541.37H565.37V542.04H569.42V542.72H572.12V543.39H574.82V544.07H577.53V544.74H580.23V545.42H609.93V545.96H610.38V547.76H610.83V549.56H611.28V551.36H640.18V551.36H640.72V558.92H666.65V558.92" fill="none" stroke="#F8774F" stroke-width="1.15"/>
<path d="M492.18 492.52v2.5M493.75 494.00v2.5M495.95 496.08v2.5M496.77 497.31v2.5M497.52 498.43v2.5M497.66 498.64v2.5M498.63 500.09v2.5M500.17 501.83v2.5M500.35 501.98v2.5M502.15 503.61v2.5M502.76 504.16v2.5M504.58 505.79v2.5M504.62 505.84v2.5M506.07 508.50v2.5M506.50 509.29v2.5M507.15 510.48v2.5M507.85 511.76v2.5M509.63 514.23v2.5M510.30 515.17v2.5M510.94 516.06v2.5M512.16 517.75v2.5M513.94 519.12v2.5M514.35 519.33v2.5M516.18 520.25v2.5M516.95 520.63v2.5M518.35 521.37v2.5M520.50 522.76v2.5M521.77 523.59v2.5M522.43 524.02v2.5M523.62 524.82v2.5M524.98 526.09v2.5M527.03 528.01v2.5M528.23 529.04v2.5M529.28 529.88v2.5M530.61 530.77v2.5M532.98 531.53v2.5M534.83 532.13v2.5M536.70 532.72v2.5M537.91 533.09v2.5M538.87 533.38v2.5M540.20 533.78v2.5M542.78 534.55v2.5M543.82 534.86v2.5M545.84 535.47v2.5M546.36 535.63v2.5M549.46 536.17v2.5M550.52 536.24v2.5M553.57 536.45v2.5M555.65 536.59v2.5M556.59 537.04v2.5M557.29 537.50v2.5M559.85 539.16v2.5M560.61 539.66v2.5M563.09 540.41v2.5M563.89 540.54v2.5M565.75 540.85v2.5M569.08 541.41v2.5M570.08 541.63v2.5M571.52 541.99v2.5M573.69 542.53v2.5M575.90 543.08v2.5M576.63 543.27v2.5M579.36 543.95v2.5M581.11 544.18v2.5M583.23 544.22v2.5M584.43 544.24v2.5M587.58 544.30v2.5M589.77 544.34v2.5M591.84 544.38v2.5M592.75 544.39v2.5M595.50 544.44v2.5M596.83 544.47v2.5M599.54 544.52v2.5M600.15 544.53v2.5M603.74 544.59v2.5M605.88 544.63v2.5M606.95 544.65v2.5M608.97 544.69v2.5" stroke="#F8774F" stroke-width="0.75" fill="none"/>
<path d="M620.71 550.06v2.6M629.54 550.06v2.6M646.91 557.62v2.6M657.03 557.62v2.6" stroke="#F8774F" stroke-width="0.7" fill="none"/>
<path d="M491.91 493.51H492.56V494.17H493.21V494.83H493.86V495.48H494.51V496.14H495.15V496.80H498.53V497.48H501.91V498.15H503.26V498.74H504.61V499.32H505.96V499.91H507.31V500.49H508.66V501.08H510.01V501.66H511.63V502.31H513.25V502.96H514.87V503.61H516.49V504.26H518.11V504.91H519.27V505.48H520.42V506.06H521.58V506.64H522.74V507.22H523.90V507.80H525.05V508.38H526.21V508.96H526.98V509.53H527.75V510.11H528.53V510.69H529.30V511.27H530.07V511.85H530.84V512.43H531.61V513.01H532.06V513.91H532.51V514.81H532.96V515.71H545.12V516.25H546.47V516.83H547.82V517.42H549.17V518.00H550.52V518.59H551.87V519.17H553.22V519.76H555.02V520.34H556.82V520.93H558.62V521.51H560.42V522.10H562.22V522.68H564.02V523.27H565.10V523.92H566.18V524.57H567.26V525.21H568.34V525.86H569.42V526.51H570.20V527.09H570.97V527.67H571.74V528.25H572.51V528.83H573.28V529.40H574.05V529.98H574.82V530.56H576.18V531.19H577.53V531.82H578.88V532.45H592.38V532.45H592.78V534.88H593.19V537.31H607.77V537.31H608.18V540.69H608.58V544.07H609.02V544.91H609.46V545.75H609.90V546.60H610.34V547.44H610.78V548.29H611.22V549.13H611.66V549.97H612.09V550.82H612.46V553.52H612.82V556.22H613.18V558.92H646.39V558.92H646.93V571.07H649.10V571.07" fill="none" stroke="#65CDDD" stroke-width="1.15"/>
<path d="M492.35 492.70v2.5M493.30 493.67v2.5M494.34 494.72v2.5M495.30 495.58v2.5M497.76 496.07v2.5M499.95 496.51v2.5M501.25 496.77v2.5M502.83 497.30v2.5M504.58 498.06v2.5M505.47 498.45v2.5M507.92 499.51v2.5M509.13 500.04v2.5M510.90 500.77v2.5M512.62 501.46v2.5M514.01 502.01v2.5M515.37 502.56v2.5M516.88 503.16v2.5M518.41 503.80v2.5M520.15 504.68v2.5M521.33 505.26v2.5M522.95 506.08v2.5M523.53 506.36v2.5M525.34 507.27v2.5M527.38 508.58v2.5M527.88 508.96v2.5M529.66 510.30v2.5M530.93 511.24v2.5M531.81 512.14v2.5M532.96 514.44v2.5M533.56 514.48v2.5M536.55 514.62v2.5M537.34 514.65v2.5M539.18 514.73v2.5M542.83 514.90v2.5M543.98 514.95v2.5M545.22 515.04v2.5M547.37 515.97v2.5M549.07 516.71v2.5M551.17 517.62v2.5M551.78 517.88v2.5M553.57 518.62v2.5M556.24 519.49v2.5M557.45 519.88v2.5M558.09 520.09v2.5M559.91 520.68v2.5M561.48 521.19v2.5M563.52 521.86v2.5M564.85 522.52v2.5M566.52 523.52v2.5M567.83 524.31v2.5M568.77 524.87v2.5M570.42 526.01v2.5M571.78 527.03v2.5M573.15 528.06v2.5M574.12 528.78v2.5M576.41 530.05v2.5M578.29 530.93v2.5M585.05 531.20v2.5M586.49 531.20v2.5M592.73 533.32v2.5M592.79 533.64v2.5M598.77 536.06v2.5M604.75 536.06v2.5M607.91 537.18v2.5M608.30 540.48v2.5M608.47 541.85v2.5" stroke="#65CDDD" stroke-width="0.75" fill="none"/>
<path d="M611.40 547.83v2.6M625.62 557.62v2.6M638.57 557.62v2.6" stroke="#65CDDD" stroke-width="0.7" fill="none"/>
<line x1="483.9" y1="617" x2="483.9" y2="632.85" stroke="#4D4D4D" stroke-width="0.9" />
<line x1="483.45" y1="632.4" x2="674" y2="632.4" stroke="#4D4D4D" stroke-width="0.9" />
<line x1="482.3" y1="621" x2="483.9" y2="621" stroke="#4D4D4D" stroke-width="0.8" />
<line x1="482.3" y1="628" x2="483.9" y2="628" stroke="#4D4D4D" stroke-width="0.8" />
<text x="481.1" y="622.95" font-size="5.4" text-anchor="end" fill="#F8774F" stroke="#F8774F" style="stroke-width:0.05px">High</text>
<text x="481.1" y="629.95" font-size="5.4" text-anchor="end" fill="#65CDDD" stroke="#65CDDD" style="stroke-width:0.05px">Low</text>
<text x="492.65" y="623.5" font-size="5.85" text-anchor="middle" fill="#111" stroke="#111" >184</text>
<text x="492.65" y="630.5" font-size="5.85" text-anchor="middle" fill="#111" stroke="#111" >184</text>
<line x1="492.65" y1="632.4" x2="492.65" y2="634" stroke="#4D4D4D" stroke-width="0.8" />
<text x="492.65" y="639.2" font-size="5.3" text-anchor="middle" fill="#333" stroke="#333" >0</text>
<text x="509.9" y="623.5" font-size="5.85" text-anchor="middle" fill="#111" stroke="#111" >117</text>
<text x="509.9" y="630.5" font-size="5.85" text-anchor="middle" fill="#111" stroke="#111" >147</text>
<line x1="509.9" y1="632.4" x2="509.9" y2="634" stroke="#4D4D4D" stroke-width="0.8" />
<text x="509.9" y="639.2" font-size="5.3" text-anchor="middle" fill="#333" stroke="#333" >1</text>
<text x="527.15" y="623.5" font-size="5.85" text-anchor="middle" fill="#111" stroke="#111" >63</text>
<text x="527.15" y="630.5" font-size="5.85" text-anchor="middle" fill="#111" stroke="#111" >80</text>
<line x1="527.15" y1="632.4" x2="527.15" y2="634" stroke="#4D4D4D" stroke-width="0.8" />
<text x="527.15" y="639.2" font-size="5.3" text-anchor="middle" fill="#333" stroke="#333" >2</text>
<text x="544.4" y="623.5" font-size="5.85" text-anchor="middle" fill="#111" stroke="#111" >40</text>
<text x="544.4" y="630.5" font-size="5.85" text-anchor="middle" fill="#111" stroke="#111" >53</text>
<line x1="544.4" y1="632.4" x2="544.4" y2="634" stroke="#4D4D4D" stroke-width="0.8" />
<text x="544.4" y="639.2" font-size="5.3" text-anchor="middle" fill="#333" stroke="#333" >3</text>
<text x="561.65" y="623.5" font-size="5.85" text-anchor="middle" fill="#111" stroke="#111" >27</text>
<text x="561.65" y="630.5" font-size="5.85" text-anchor="middle" fill="#111" stroke="#111" >39</text>
<line x1="561.65" y1="632.4" x2="561.65" y2="634" stroke="#4D4D4D" stroke-width="0.8" />
<text x="561.65" y="639.2" font-size="5.3" text-anchor="middle" fill="#333" stroke="#333" >4</text>
<text x="578.9" y="623.5" font-size="5.85" text-anchor="middle" fill="#111" stroke="#111" >18</text>
<text x="578.9" y="630.5" font-size="5.85" text-anchor="middle" fill="#111" stroke="#111" >25</text>
<line x1="578.9" y1="632.4" x2="578.9" y2="634" stroke="#4D4D4D" stroke-width="0.8" />
<text x="578.9" y="639.2" font-size="5.3" text-anchor="middle" fill="#333" stroke="#333" >5</text>
<text x="596.15" y="623.5" font-size="5.85" text-anchor="middle" fill="#111" stroke="#111" >14</text>
<text x="596.15" y="630.5" font-size="5.85" text-anchor="middle" fill="#111" stroke="#111" >15</text>
<line x1="596.15" y1="632.4" x2="596.15" y2="634" stroke="#4D4D4D" stroke-width="0.8" />
<text x="596.15" y="639.2" font-size="5.3" text-anchor="middle" fill="#333" stroke="#333" >6</text>
<text x="613.4" y="623.5" font-size="5.85" text-anchor="middle" fill="#111" stroke="#111" >6</text>
<text x="613.4" y="630.5" font-size="5.85" text-anchor="middle" fill="#111" stroke="#111" >3</text>
<line x1="613.4" y1="632.4" x2="613.4" y2="634" stroke="#4D4D4D" stroke-width="0.8" />
<text x="613.4" y="639.2" font-size="5.3" text-anchor="middle" fill="#333" stroke="#333" >7</text>
<text x="630.65" y="623.5" font-size="5.85" text-anchor="middle" fill="#111" stroke="#111" >4</text>
<text x="630.65" y="630.5" font-size="5.85" text-anchor="middle" fill="#111" stroke="#111" >2</text>
<line x1="630.65" y1="632.4" x2="630.65" y2="634" stroke="#4D4D4D" stroke-width="0.8" />
<text x="630.65" y="639.2" font-size="5.3" text-anchor="middle" fill="#333" stroke="#333" >8</text>
<text x="647.9" y="623.5" font-size="5.85" text-anchor="middle" fill="#111" stroke="#111" >3</text>
<text x="647.9" y="630.5" font-size="5.85" text-anchor="middle" fill="#111" stroke="#111" >1</text>
<line x1="647.9" y1="632.4" x2="647.9" y2="634" stroke="#4D4D4D" stroke-width="0.8" />
<text x="647.9" y="639.2" font-size="5.3" text-anchor="middle" fill="#333" stroke="#333" >9</text>
<text x="665.15" y="623.5" font-size="5.85" text-anchor="middle" fill="#111" stroke="#111" >1</text>
<text x="665.15" y="630.5" font-size="5.85" text-anchor="middle" fill="#111" stroke="#111" >0</text>
<line x1="665.15" y1="632.4" x2="665.15" y2="634" stroke="#4D4D4D" stroke-width="0.8" />
<text x="665.15" y="639.2" font-size="5.3" text-anchor="middle" fill="#333" stroke="#333" >10</text>
<text x="578.9" y="646.1" font-size="6.3" text-anchor="middle" fill="#111" stroke="#111" >Time (years)</text>
<text transform="translate(467.5,624.9) rotate(-90)" font-size="6.6" text-anchor="middle" fill="#111" stroke="#111">MYBL2</text>
<text x="24.3" y="668" font-size="14.2" text-anchor="start" fill="#000" stroke="#000" >I</text>
<text x="106.41" y="665.95" font-size="4.65" text-anchor="start" fill="#222" stroke="#222" >PTTG1</text>
<line x1="124.3" y1="664.3" x2="130.9" y2="664.3" stroke="#F8774F" stroke-width="0.9" />
<line x1="127.6" y1="663.1" x2="127.6" y2="665.5" stroke="#F8774F" stroke-width="0.6" />
<text x="133.6" y="665.95" font-size="4.65" text-anchor="start" fill="#222" stroke="#222" >High</text>
<line x1="146.36" y1="664.3" x2="152.96" y2="664.3" stroke="#65CDDD" stroke-width="0.9" />
<line x1="149.66" y1="663.1" x2="149.66" y2="665.5" stroke="#65CDDD" stroke-width="0.6" />
<text x="156.26" y="665.95" font-size="4.65" text-anchor="start" fill="#222" stroke="#222" >Low</text>
<line x1="40.6" y1="676.6" x2="40.6" y2="774.45" stroke="#4D4D4D" stroke-width="0.9" />
<line x1="40.15" y1="774" x2="230.7" y2="774" stroke="#4D4D4D" stroke-width="0.9" />
<line x1="39" y1="681.3" x2="40.6" y2="681.3" stroke="#4D4D4D" stroke-width="0.8" />
<text x="37.6" y="683.2" font-size="5.3" text-anchor="end" fill="#333" stroke="#333" >1.00</text>
<line x1="39" y1="703.47" x2="40.6" y2="703.47" stroke="#4D4D4D" stroke-width="0.8" />
<text x="37.6" y="705.37" font-size="5.3" text-anchor="end" fill="#333" stroke="#333" >0.75</text>
<line x1="39" y1="725.65" x2="40.6" y2="725.65" stroke="#4D4D4D" stroke-width="0.8" />
<text x="37.6" y="727.55" font-size="5.3" text-anchor="end" fill="#333" stroke="#333" >0.50</text>
<line x1="39" y1="747.82" x2="40.6" y2="747.82" stroke="#4D4D4D" stroke-width="0.8" />
<text x="37.6" y="749.72" font-size="5.3" text-anchor="end" fill="#333" stroke="#333" >0.25</text>
<line x1="39" y1="770" x2="40.6" y2="770" stroke="#4D4D4D" stroke-width="0.8" />
<text x="37.6" y="771.9" font-size="5.3" text-anchor="end" fill="#333" stroke="#333" >0.00</text>
<line x1="49.35" y1="774" x2="49.35" y2="775.6" stroke="#4D4D4D" stroke-width="0.8" />
<text x="49.35" y="781" font-size="5.3" text-anchor="middle" fill="#333" stroke="#333" >0</text>
<line x1="66.6" y1="774" x2="66.6" y2="775.6" stroke="#4D4D4D" stroke-width="0.8" />
<text x="66.6" y="781" font-size="5.3" text-anchor="middle" fill="#333" stroke="#333" >1</text>
<line x1="83.85" y1="774" x2="83.85" y2="775.6" stroke="#4D4D4D" stroke-width="0.8" />
<text x="83.85" y="781" font-size="5.3" text-anchor="middle" fill="#333" stroke="#333" >2</text>
<line x1="101.1" y1="774" x2="101.1" y2="775.6" stroke="#4D4D4D" stroke-width="0.8" />
<text x="101.1" y="781" font-size="5.3" text-anchor="middle" fill="#333" stroke="#333" >3</text>
<line x1="118.35" y1="774" x2="118.35" y2="775.6" stroke="#4D4D4D" stroke-width="0.8" />
<text x="118.35" y="781" font-size="5.3" text-anchor="middle" fill="#333" stroke="#333" >4</text>
<line x1="135.6" y1="774" x2="135.6" y2="775.6" stroke="#4D4D4D" stroke-width="0.8" />
<text x="135.6" y="781" font-size="5.3" text-anchor="middle" fill="#333" stroke="#333" >5</text>
<line x1="152.85" y1="774" x2="152.85" y2="775.6" stroke="#4D4D4D" stroke-width="0.8" />
<text x="152.85" y="781" font-size="5.3" text-anchor="middle" fill="#333" stroke="#333" >6</text>
<line x1="170.1" y1="774" x2="170.1" y2="775.6" stroke="#4D4D4D" stroke-width="0.8" />
<text x="170.1" y="781" font-size="5.3" text-anchor="middle" fill="#333" stroke="#333" >7</text>
<line x1="187.35" y1="774" x2="187.35" y2="775.6" stroke="#4D4D4D" stroke-width="0.8" />
<text x="187.35" y="781" font-size="5.3" text-anchor="middle" fill="#333" stroke="#333" >8</text>
<line x1="204.6" y1="774" x2="204.6" y2="775.6" stroke="#4D4D4D" stroke-width="0.8" />
<text x="204.6" y="781" font-size="5.3" text-anchor="middle" fill="#333" stroke="#333" >9</text>
<line x1="221.85" y1="774" x2="221.85" y2="775.6" stroke="#4D4D4D" stroke-width="0.8" />
<text x="221.85" y="781" font-size="5.3" text-anchor="middle" fill="#333" stroke="#333" >10</text>
<text x="135.6" y="788.6" font-size="6.3" text-anchor="middle" fill="#111" stroke="#111" >Time (years)</text>
<text transform="translate(24.5,725.7) rotate(-90)" font-size="6.5" text-anchor="middle" fill="#111" stroke="#111">Overall survival</text>
<text x="52.6" y="755.6" font-size="7.8" text-anchor="start" fill="#111" stroke="#111" >p=0.002</text>
<path d="M48.91 681.51H49.59V682.15H50.26V682.79H50.94V683.43H51.61V684.06H52.29V684.70H52.96V685.34H53.50V685.93H54.04V686.51H54.58V687.10H55.12V687.68H55.66V688.27H56.20V688.85H56.80V689.45H57.40V690.05H58.00V690.65H58.61V691.25H59.21V691.85H59.81V692.46H60.41V693.06H61.01V693.66H61.61V694.26H62.07V695.22H62.53V696.18H62.99V697.15H63.46V698.11H63.92V699.08H64.38V700.04H64.85V701.01H65.39V701.61H65.93V702.21H66.47V702.81H67.01V703.41H67.55V704.01H68.09V704.61H68.63V705.21H69.17V705.81H69.71V706.41H71.51V707.13H73.31V707.85H75.11V708.57H75.78V709.14H76.46V709.72H77.14V710.29H77.81V710.86H78.49V711.44H79.16V712.01H79.84V712.59H80.51V713.16H81.09V713.74H81.67V714.32H82.25V714.90H82.83V715.48H83.40V716.05H83.98V716.63H84.56V717.21H85.46V717.93H86.36V718.65H87.26V719.37H89.51V720.00H91.76V720.63H94.01V721.26H97.62V721.89H101.22V722.52H104.82V723.15H107.52V723.87H110.22V724.59H112.92V725.31H114.27V725.99H115.62V726.66H116.97V727.34H118.32V728.01H121.02V728.73H123.72V729.46H126.42V730.18H128.45V730.85H130.47V731.53H132.50V732.20H134.53V732.88H135.20V733.55H135.88V734.23H136.55V734.90H137.23V735.58H165.58V735.58H166.03V737.11H166.48V738.64H166.93V740.17H167.37V741.25H167.80V742.33H168.23V743.41H168.66V744.49H169.09V745.57H197.18V745.57H197.72V753.67H223.65V753.67" fill="none" stroke="#F8774F" stroke-width="1.15"/>
<path d="M49.14 680.48v2.5M50.97 682.20v2.5M52.72 683.87v2.5M53.63 684.81v2.5M54.92 686.21v2.5M55.19 686.51v2.5M56.22 687.62v2.5M58.12 689.52v2.5M58.71 690.11v2.5M60.22 691.62v2.5M60.91 692.31v2.5M61.74 693.29v2.5M62.63 695.14v2.5M63.31 696.55v2.5M64.77 699.60v2.5M65.41 700.39v2.5M66.16 701.21v2.5M67.23 702.40v2.5M68.14 703.41v2.5M68.79 704.14v2.5M71.31 705.80v2.5M72.56 706.30v2.5M75.04 707.29v2.5M75.70 707.82v2.5M77.30 709.18v2.5M78.15 709.90v2.5M79.22 710.81v2.5M81.45 712.85v2.5M82.39 713.79v2.5M82.86 714.25v2.5M84.46 715.86v2.5M85.66 716.84v2.5M86.32 717.37v2.5M88.28 718.41v2.5M90.57 719.05v2.5M91.48 719.30v2.5M93.93 719.99v2.5M94.45 720.09v2.5M96.52 720.45v2.5M98.91 720.87v2.5M99.81 721.03v2.5M101.77 721.37v2.5M104.59 721.86v2.5M105.60 722.11v2.5M107.72 722.68v2.5M108.45 722.87v2.5M109.96 723.27v2.5M111.88 723.79v2.5M113.17 724.19v2.5M115.58 725.40v2.5M116.01 725.61v2.5M117.73 726.47v2.5M118.51 726.81v2.5M120.81 727.43v2.5M122.19 727.80v2.5M123.84 728.24v2.5M124.91 728.52v2.5M126.62 728.99v2.5M129.38 729.91v2.5M130.23 730.20v2.5M131.68 730.68v2.5M133.21 731.19v2.5M134.91 732.01v2.5M136.20 733.30v2.5M137.42 734.33v2.5M146.67 734.33v2.5M150.51 734.33v2.5M155.13 734.33v2.5M163.92 734.33v2.5M165.65 734.54v2.5M166.44 737.24v2.5" stroke="#F8774F" stroke-width="0.75" fill="none"/>
<path d="M188.96 744.27v2.6M207.57 752.37v2.6M211.98 752.37v2.6" stroke="#F8774F" stroke-width="0.7" fill="none"/>
<path d="M48.91 681.51H49.56V682.17H50.21V682.83H50.86V683.48H51.51V684.14H52.15V684.80H52.83V685.48H53.50V686.15H54.18V686.83H54.85V687.50H58.23V688.18H61.61V688.85H62.96V689.53H64.31V690.20H65.66V690.88H67.01V691.55H69.71V692.18H72.41V692.82H75.11V693.45H76.12V694.05H77.14V694.66H78.15V695.27H79.16V695.88H80.17V696.48H81.19V697.09H82.20V697.70H83.21V698.31H83.98V698.89H84.75V699.46H85.53V700.04H86.30V700.62H87.07V701.20H87.84V701.78H88.61V702.36H89.06V702.99H89.51V703.62H89.96V704.25H94.01V704.97H98.07V705.69H102.12V706.41H104.14V707.08H106.17V707.76H108.19V708.43H110.22V709.11H112.38V709.76H114.54V710.41H116.70V711.05H118.86V711.70H121.02V712.35H122.18V712.97H123.34V713.59H124.49V714.20H125.65V714.82H126.81V715.44H127.97V716.05H129.12V716.67H130.47V717.35H131.82V718.02H133.18V718.70H134.53V719.37H149.38V719.37H149.78V722.07H150.19V724.77H165.58V724.77H165.99V728.01H166.39V731.26H166.84V732.61H167.29V733.96H167.74V735.31H168.19V736.66H168.64V738.01H169.09V739.36H203.39V739.36H203.93V749.62H212.85V749.62" fill="none" stroke="#65CDDD" stroke-width="1.15"/>
<path d="M49.29 680.64v2.5M49.99 681.36v2.5M51.97 683.37v2.5M53.20 684.60v2.5M53.89 685.29v2.5M54.93 686.27v2.5M57.98 686.88v2.5M59.26 687.13v2.5M60.00 687.28v2.5M61.94 687.77v2.5M63.11 688.35v2.5M65.38 689.49v2.5M65.94 689.77v2.5M68.86 690.74v2.5M70.55 691.13v2.5M71.23 691.29v2.5M74.49 692.05v2.5M75.64 692.51v2.5M77.47 693.61v2.5M78.93 694.49v2.5M79.54 694.85v2.5M80.63 695.51v2.5M83.14 697.01v2.5M83.78 697.49v2.5M85.82 699.01v2.5M86.85 699.78v2.5M88.26 700.84v2.5M89.73 702.68v2.5M91.05 703.19v2.5M92.49 703.45v2.5M93.53 703.63v2.5M96.38 704.14v2.5M97.65 704.37v2.5M99.53 704.70v2.5M101.99 705.14v2.5M102.32 705.23v2.5M104.97 706.11v2.5M105.43 706.26v2.5M108.12 707.16v2.5M109.90 707.75v2.5M110.62 707.98v2.5M112.61 708.58v2.5M114.80 709.23v2.5M115.83 709.54v2.5M117.23 709.96v2.5M118.32 710.29v2.5M119.57 710.66v2.5M121.51 711.36v2.5M122.93 712.12v2.5M123.99 712.69v2.5M125.49 713.48v2.5M126.61 714.08v2.5M128.73 715.21v2.5M130.03 715.87v2.5M130.80 716.26v2.5M132.15 716.94v2.5M133.87 717.80v2.5M137.83 718.12v2.5M148.90 718.12v2.5M149.47 718.76v2.5M149.73 720.46v2.5M150.16 723.32v2.5M150.92 723.52v2.5M158.21 723.52v2.5M162.16 723.52v2.5M165.80 725.29v2.5M166.00 726.87v2.5M166.33 729.49v2.5" stroke="#65CDDD" stroke-width="0.75" fill="none"/>
<path d="M167.60 732.66v2.6M168.27 735.36v2.6M185.50 738.06v2.6" stroke="#65CDDD" stroke-width="0.7" fill="none"/>
<line x1="40.6" y1="805" x2="40.6" y2="820.85" stroke="#4D4D4D" stroke-width="0.9" />
<line x1="40.15" y1="820.4" x2="230.7" y2="820.4" stroke="#4D4D4D" stroke-width="0.9" />
<line x1="39" y1="809" x2="40.6" y2="809" stroke="#4D4D4D" stroke-width="0.8" />
<line x1="39" y1="816" x2="40.6" y2="816" stroke="#4D4D4D" stroke-width="0.8" />
<text x="37.8" y="810.95" font-size="5.4" text-anchor="end" fill="#F8774F" stroke="#F8774F" style="stroke-width:0.05px">High</text>
<text x="37.8" y="817.95" font-size="5.4" text-anchor="end" fill="#65CDDD" stroke="#65CDDD" style="stroke-width:0.05px">Low</text>
<text x="49.35" y="811.5" font-size="5.85" text-anchor="middle" fill="#111" stroke="#111" >184</text>
<text x="49.35" y="818.5" font-size="5.85" text-anchor="middle" fill="#111" stroke="#111" >184</text>
<line x1="49.35" y1="820.4" x2="49.35" y2="822" stroke="#4D4D4D" stroke-width="0.8" />
<text x="49.35" y="827.2" font-size="5.3" text-anchor="middle" fill="#333" stroke="#333" >0</text>
<text x="66.6" y="811.5" font-size="5.85" text-anchor="middle" fill="#111" stroke="#111" >122</text>
<text x="66.6" y="818.5" font-size="5.85" text-anchor="middle" fill="#111" stroke="#111" >142</text>
<line x1="66.6" y1="820.4" x2="66.6" y2="822" stroke="#4D4D4D" stroke-width="0.8" />
<text x="66.6" y="827.2" font-size="5.3" text-anchor="middle" fill="#333" stroke="#333" >1</text>
<text x="83.85" y="811.5" font-size="5.85" text-anchor="middle" fill="#111" stroke="#111" >62</text>
<text x="83.85" y="818.5" font-size="5.85" text-anchor="middle" fill="#111" stroke="#111" >81</text>
<line x1="83.85" y1="820.4" x2="83.85" y2="822" stroke="#4D4D4D" stroke-width="0.8" />
<text x="83.85" y="827.2" font-size="5.3" text-anchor="middle" fill="#333" stroke="#333" >2</text>
<text x="101.1" y="811.5" font-size="5.85" text-anchor="middle" fill="#111" stroke="#111" >39</text>
<text x="101.1" y="818.5" font-size="5.85" text-anchor="middle" fill="#111" stroke="#111" >54</text>
<line x1="101.1" y1="820.4" x2="101.1" y2="822" stroke="#4D4D4D" stroke-width="0.8" />
<text x="101.1" y="827.2" font-size="5.3" text-anchor="middle" fill="#333" stroke="#333" >3</text>
<text x="118.35" y="811.5" font-size="5.85" text-anchor="middle" fill="#111" stroke="#111" >28</text>
<text x="118.35" y="818.5" font-size="5.85" text-anchor="middle" fill="#111" stroke="#111" >40</text>
<line x1="118.35" y1="820.4" x2="118.35" y2="822" stroke="#4D4D4D" stroke-width="0.8" />
<text x="118.35" y="827.2" font-size="5.3" text-anchor="middle" fill="#333" stroke="#333" >4</text>
<text x="135.6" y="811.5" font-size="5.85" text-anchor="middle" fill="#111" stroke="#111" >17</text>
<text x="135.6" y="818.5" font-size="5.85" text-anchor="middle" fill="#111" stroke="#111" >28</text>
<line x1="135.6" y1="820.4" x2="135.6" y2="822" stroke="#4D4D4D" stroke-width="0.8" />
<text x="135.6" y="827.2" font-size="5.3" text-anchor="middle" fill="#333" stroke="#333" >5</text>
<text x="152.85" y="811.5" font-size="5.85" text-anchor="middle" fill="#111" stroke="#111" >14</text>
<text x="152.85" y="818.5" font-size="5.85" text-anchor="middle" fill="#111" stroke="#111" >15</text>
<line x1="152.85" y1="820.4" x2="152.85" y2="822" stroke="#4D4D4D" stroke-width="0.8" />
<text x="152.85" y="827.2" font-size="5.3" text-anchor="middle" fill="#333" stroke="#333" >6</text>
<text x="170.1" y="811.5" font-size="5.85" text-anchor="middle" fill="#111" stroke="#111" >5</text>
<text x="170.1" y="818.5" font-size="5.85" text-anchor="middle" fill="#111" stroke="#111" >4</text>
<line x1="170.1" y1="820.4" x2="170.1" y2="822" stroke="#4D4D4D" stroke-width="0.8" />
<text x="170.1" y="827.2" font-size="5.3" text-anchor="middle" fill="#333" stroke="#333" >7</text>
<text x="187.35" y="811.5" font-size="5.85" text-anchor="middle" fill="#111" stroke="#111" >3</text>
<text x="187.35" y="818.5" font-size="5.85" text-anchor="middle" fill="#111" stroke="#111" >3</text>
<line x1="187.35" y1="820.4" x2="187.35" y2="822" stroke="#4D4D4D" stroke-width="0.8" />
<text x="187.35" y="827.2" font-size="5.3" text-anchor="middle" fill="#333" stroke="#333" >8</text>
<text x="204.6" y="811.5" font-size="5.85" text-anchor="middle" fill="#111" stroke="#111" >2</text>
<text x="204.6" y="818.5" font-size="5.85" text-anchor="middle" fill="#111" stroke="#111" >2</text>
<line x1="204.6" y1="820.4" x2="204.6" y2="822" stroke="#4D4D4D" stroke-width="0.8" />
<text x="204.6" y="827.2" font-size="5.3" text-anchor="middle" fill="#333" stroke="#333" >9</text>
<text x="221.85" y="811.5" font-size="5.85" text-anchor="middle" fill="#111" stroke="#111" >1</text>
<text x="221.85" y="818.5" font-size="5.85" text-anchor="middle" fill="#111" stroke="#111" >0</text>
<line x1="221.85" y1="820.4" x2="221.85" y2="822" stroke="#4D4D4D" stroke-width="0.8" />
<text x="221.85" y="827.2" font-size="5.3" text-anchor="middle" fill="#333" stroke="#333" >10</text>
<text x="135.6" y="834.1" font-size="6.3" text-anchor="middle" fill="#111" stroke="#111" >Time (years)</text>
<text transform="translate(24.2,812.9) rotate(-90)" font-size="6.6" text-anchor="middle" fill="#111" stroke="#111">PTTG1</text>
<text x="239.3" y="667.2" font-size="14.2" text-anchor="start" fill="#000" stroke="#000" >J</text>
<text x="333.21" y="665.85" font-size="4.65" text-anchor="start" fill="#222" stroke="#222" >KIF2C</text>
<line x1="349.29" y1="664.2" x2="355.89" y2="664.2" stroke="#F8774F" stroke-width="0.9" />
<line x1="352.59" y1="663" x2="352.59" y2="665.4" stroke="#F8774F" stroke-width="0.6" />
<text x="358.59" y="665.85" font-size="4.65" text-anchor="start" fill="#222" stroke="#222" >High</text>
<line x1="371.36" y1="664.2" x2="377.96" y2="664.2" stroke="#65CDDD" stroke-width="0.9" />
<line x1="374.66" y1="663" x2="374.66" y2="665.4" stroke="#65CDDD" stroke-width="0.6" />
<text x="381.26" y="665.85" font-size="4.65" text-anchor="start" fill="#222" stroke="#222" >Low</text>
<line x1="266.5" y1="676.5" x2="266.5" y2="774.35" stroke="#4D4D4D" stroke-width="0.9" />
<line x1="266.05" y1="773.9" x2="456.6" y2="773.9" stroke="#4D4D4D" stroke-width="0.9" />
<line x1="264.9" y1="681.2" x2="266.5" y2="681.2" stroke="#4D4D4D" stroke-width="0.8" />
<text x="263.5" y="683.1" font-size="5.3" text-anchor="end" fill="#333" stroke="#333" >1.00</text>
<line x1="264.9" y1="703.38" x2="266.5" y2="703.38" stroke="#4D4D4D" stroke-width="0.8" />
<text x="263.5" y="705.27" font-size="5.3" text-anchor="end" fill="#333" stroke="#333" >0.75</text>
<line x1="264.9" y1="725.55" x2="266.5" y2="725.55" stroke="#4D4D4D" stroke-width="0.8" />
<text x="263.5" y="727.45" font-size="5.3" text-anchor="end" fill="#333" stroke="#333" >0.50</text>
<line x1="264.9" y1="747.73" x2="266.5" y2="747.73" stroke="#4D4D4D" stroke-width="0.8" />
<text x="263.5" y="749.62" font-size="5.3" text-anchor="end" fill="#333" stroke="#333" >0.25</text>
<line x1="264.9" y1="769.9" x2="266.5" y2="769.9" stroke="#4D4D4D" stroke-width="0.8" />
<text x="263.5" y="771.8" font-size="5.3" text-anchor="end" fill="#333" stroke="#333" >0.00</text>
<line x1="275.25" y1="773.9" x2="275.25" y2="775.5" stroke="#4D4D4D" stroke-width="0.8" />
<text x="275.25" y="780.9" font-size="5.3" text-anchor="middle" fill="#333" stroke="#333" >0</text>
<line x1="292.5" y1="773.9" x2="292.5" y2="775.5" stroke="#4D4D4D" stroke-width="0.8" />
<text x="292.5" y="780.9" font-size="5.3" text-anchor="middle" fill="#333" stroke="#333" >1</text>
<line x1="309.75" y1="773.9" x2="309.75" y2="775.5" stroke="#4D4D4D" stroke-width="0.8" />
<text x="309.75" y="780.9" font-size="5.3" text-anchor="middle" fill="#333" stroke="#333" >2</text>
<line x1="327" y1="773.9" x2="327" y2="775.5" stroke="#4D4D4D" stroke-width="0.8" />
<text x="327" y="780.9" font-size="5.3" text-anchor="middle" fill="#333" stroke="#333" >3</text>
<line x1="344.25" y1="773.9" x2="344.25" y2="775.5" stroke="#4D4D4D" stroke-width="0.8" />
<text x="344.25" y="780.9" font-size="5.3" text-anchor="middle" fill="#333" stroke="#333" >4</text>
<line x1="361.5" y1="773.9" x2="361.5" y2="775.5" stroke="#4D4D4D" stroke-width="0.8" />
<text x="361.5" y="780.9" font-size="5.3" text-anchor="middle" fill="#333" stroke="#333" >5</text>
<line x1="378.75" y1="773.9" x2="378.75" y2="775.5" stroke="#4D4D4D" stroke-width="0.8" />
<text x="378.75" y="780.9" font-size="5.3" text-anchor="middle" fill="#333" stroke="#333" >6</text>
<line x1="396" y1="773.9" x2="396" y2="775.5" stroke="#4D4D4D" stroke-width="0.8" />
<text x="396" y="780.9" font-size="5.3" text-anchor="middle" fill="#333" stroke="#333" >7</text>
<line x1="413.25" y1="773.9" x2="413.25" y2="775.5" stroke="#4D4D4D" stroke-width="0.8" />
<text x="413.25" y="780.9" font-size="5.3" text-anchor="middle" fill="#333" stroke="#333" >8</text>
<line x1="430.5" y1="773.9" x2="430.5" y2="775.5" stroke="#4D4D4D" stroke-width="0.8" />
<text x="430.5" y="780.9" font-size="5.3" text-anchor="middle" fill="#333" stroke="#333" >9</text>
<line x1="447.75" y1="773.9" x2="447.75" y2="775.5" stroke="#4D4D4D" stroke-width="0.8" />
<text x="447.75" y="780.9" font-size="5.3" text-anchor="middle" fill="#333" stroke="#333" >10</text>
<text x="361.5" y="788.5" font-size="6.3" text-anchor="middle" fill="#111" stroke="#111" >Time (years)</text>
<text transform="translate(250.4,725.6) rotate(-90)" font-size="6.5" text-anchor="middle" fill="#111" stroke="#111">Overall survival</text>
<text x="278.5" y="755.5" font-size="7.8" text-anchor="start" fill="#111" stroke="#111" >p<0.001</text>
<path d="M274.96 681.51H275.44V682.09H275.91V682.67H276.38V683.25H276.85V683.83H277.33V684.41H277.80V684.99H278.27V685.57H278.74V686.15H279.18V686.83H279.62V687.50H280.06V688.18H280.50V688.85H280.94V689.53H281.38V690.20H281.82V690.88H282.26V691.55H282.86V692.15H283.46V692.76H284.06V693.36H284.66V693.96H285.26V694.56H285.86V695.16H286.46V695.76H287.06V696.36H287.66V696.96H288.11V697.71H288.56V698.46H289.01V699.21H289.46V699.96H289.91V700.71H290.36V701.46H290.81V702.21H291.26V702.96H291.71V703.71H292.16V704.31H292.61V704.91H293.06V705.51H293.51V706.11H293.96V706.71H294.41V707.31H294.86V707.91H295.31V708.51H295.76V709.11H297.11V709.76H298.46V710.41H299.81V711.05H301.16V711.70H302.51V712.35H303.19V712.94H303.86V713.52H304.54V714.11H305.21V714.69H305.89V715.28H306.56V715.86H307.07V716.44H307.57V717.01H308.08V717.58H308.59V718.16H309.09V718.73H309.60V719.30H310.11V719.88H310.61V720.45H311.96V721.26H313.31V722.07H321.42V723.15H323.44V723.83H325.47V724.50H327.49V725.18H329.52V725.85H337.62V726.66H338.39V727.24H339.16V727.82H339.94V728.40H340.71V728.98H341.48V729.56H342.25V730.14H343.02V730.72H347.07V731.39H351.12V732.07H355.18V732.74H359.23V733.42H360.24V734.09H361.25V734.77H362.26V735.44H363.28V736.12H391.64V736.12H392.09V737.74H392.54V739.36H392.99V740.98H393.44V741.88H393.89V742.78H394.34V743.68H394.79V744.58H395.24V745.48H395.69V746.38H423.23V746.38H423.77V754.21H447.00V754.21" fill="none" stroke="#F8774F" stroke-width="1.15"/>
<path d="M275.80 681.29v2.5M275.94 681.45v2.5M277.03 682.80v2.5M278.44 684.53v2.5M279.14 685.51v2.5M279.70 686.37v2.5M281.08 688.50v2.5M281.70 689.46v2.5M282.88 690.93v2.5M283.79 691.83v2.5M284.99 693.04v2.5M286.11 694.16v2.5M287.00 695.05v2.5M287.75 695.86v2.5M288.61 697.30v2.5M290.00 699.61v2.5M290.53 700.50v2.5M290.99 701.26v2.5M292.58 703.62v2.5M292.98 704.15v2.5M293.83 705.29v2.5M295.28 707.23v2.5M296.18 708.06v2.5M298.27 709.07v2.5M300.07 709.93v2.5M301.21 710.47v2.5M303.28 711.77v2.5M304.01 712.40v2.5M305.90 714.04v2.5M307.16 715.29v2.5M307.66 715.85v2.5M309.00 717.38v2.5M309.67 718.14v2.5M311.21 719.56v2.5M313.13 720.71v2.5M314.43 720.97v2.5M316.79 721.29v2.5M318.90 721.57v2.5M319.62 721.66v2.5M323.02 722.44v2.5M324.21 722.83v2.5M324.82 723.04v2.5M327.62 723.97v2.5M328.53 724.28v2.5M329.87 724.64v2.5M333.49 725.00v2.5M334.71 725.12v2.5M337.16 725.37v2.5M337.81 725.55v2.5M340.02 727.21v2.5M340.40 727.50v2.5M341.99 728.69v2.5M343.78 729.59v2.5M345.08 729.81v2.5M348.28 730.34v2.5M349.53 730.55v2.5M351.73 730.92v2.5M354.58 731.39v2.5M356.04 731.63v2.5M359.00 732.13v2.5M360.07 732.73v2.5M361.75 733.85v2.5M362.69 734.47v2.5M368.48 734.87v2.5M373.89 734.87v2.5M375.57 734.87v2.5M384.52 734.87v2.5M387.90 734.87v2.5M391.98 736.10v2.5M392.39 737.59v2.5M392.91 739.45v2.5" stroke="#F8774F" stroke-width="0.75" fill="none"/>
<path d="M394.93 743.28v2.6M400.93 745.08v2.6M439.38 752.91v2.6" stroke="#F8774F" stroke-width="0.7" fill="none"/>
<path d="M274.96 681.51H275.61V682.06H276.26V682.61H276.91V683.16H277.56V683.71H278.20V684.26H286.31V685.34H289.01V686.06H291.71V686.78H294.41V687.50H296.43V688.18H298.46V688.85H300.49V689.53H302.51V690.20H303.59V690.85H304.67V691.50H305.75V692.15H306.83V692.80H307.91V693.45H308.68V694.06H309.46V694.68H310.23V695.30H311.00V695.91H311.77V696.53H312.54V697.15H313.31V697.77H313.76V698.53H314.21V699.30H314.66V700.06H315.11V700.83H315.56V701.59H316.01V702.36H321.42V703.03H326.82V703.71H328.44V704.36H330.06V705.00H331.68V705.65H333.30V706.30H334.92V706.95H336.95V707.62H338.97V708.30H341.00V708.97H343.02V709.65H344.37V710.23H345.72V710.82H347.07V711.41H348.42V711.99H349.77V712.58H351.12V713.16H351.90V713.74H352.67V714.32H353.44V714.90H354.21V715.48H354.98V716.05H355.75V716.63H356.53V717.21H358.33V717.93H360.13V718.65H361.93V719.37H374.89V719.37H375.25V721.17H375.61V722.97H375.97V724.77H391.64V724.77H392.00V726.93H392.36V729.09H392.72V731.26H393.21V732.61H393.71V733.96H394.20V735.31H394.70V736.66H395.19V738.01H395.69V739.36H429.45V739.36H429.99V749.08H438.90V749.08" fill="none" stroke="#65CDDD" stroke-width="1.15"/>
<path d="M276.16 681.28v2.5M277.41 682.34v2.5M279.49 683.18v2.5M280.94 683.38v2.5M283.37 683.70v2.5M285.10 683.93v2.5M286.40 684.12v2.5M288.47 684.67v2.5M290.07 685.10v2.5M292.77 685.82v2.5M293.57 686.03v2.5M295.00 686.45v2.5M296.42 686.93v2.5M298.03 687.46v2.5M299.84 688.06v2.5M301.11 688.49v2.5M302.52 688.96v2.5M305.04 690.47v2.5M305.82 690.94v2.5M307.16 691.75v2.5M308.68 692.81v2.5M309.67 693.60v2.5M310.84 694.54v2.5M312.05 695.51v2.5M313.59 696.98v2.5M314.49 698.52v2.5M315.77 700.69v2.5M317.01 701.23v2.5M319.50 701.54v2.5M320.23 701.63v2.5M323.07 701.99v2.5M324.27 702.14v2.5M325.16 702.25v2.5M327.11 702.57v2.5M329.38 703.48v2.5M331.66 704.39v2.5M332.26 704.63v2.5M334.55 705.55v2.5M335.61 705.93v2.5M337.95 706.71v2.5M338.27 706.82v2.5M340.57 707.58v2.5M342.86 708.35v2.5M343.47 708.59v2.5M345.06 709.28v2.5M346.30 709.82v2.5M348.15 710.62v2.5M349.94 711.40v2.5M352.08 712.62v2.5M352.77 713.14v2.5M354.36 714.34v2.5M355.45 715.15v2.5M357.61 716.40v2.5M359.88 717.30v2.5M361.29 717.87v2.5M363.20 718.12v2.5M373.17 718.12v2.5M375.24 719.86v2.5M375.47 721.00v2.5M375.64 721.87v2.5M380.20 723.52v2.5M385.76 723.52v2.5M388.20 723.52v2.5M391.68 723.82v2.5M392.06 726.09v2.5M392.55 729.01v2.5" stroke="#65CDDD" stroke-width="0.75" fill="none"/>
<path d="M426.78 738.06v2.6" stroke="#65CDDD" stroke-width="0.7" fill="none"/>
<line x1="266.5" y1="804.9" x2="266.5" y2="820.75" stroke="#4D4D4D" stroke-width="0.9" />
<line x1="266.05" y1="820.3" x2="456.6" y2="820.3" stroke="#4D4D4D" stroke-width="0.9" />
<line x1="264.9" y1="808.9" x2="266.5" y2="808.9" stroke="#4D4D4D" stroke-width="0.8" />
<line x1="264.9" y1="815.9" x2="266.5" y2="815.9" stroke="#4D4D4D" stroke-width="0.8" />
<text x="263.7" y="810.85" font-size="5.4" text-anchor="end" fill="#F8774F" stroke="#F8774F" style="stroke-width:0.05px">High</text>
<text x="263.7" y="817.85" font-size="5.4" text-anchor="end" fill="#65CDDD" stroke="#65CDDD" style="stroke-width:0.05px">Low</text>
<text x="275.25" y="811.4" font-size="5.85" text-anchor="middle" fill="#111" stroke="#111" >184</text>
<text x="275.25" y="818.4" font-size="5.85" text-anchor="middle" fill="#111" stroke="#111" >184</text>
<line x1="275.25" y1="820.3" x2="275.25" y2="821.9" stroke="#4D4D4D" stroke-width="0.8" />
<text x="275.25" y="827.1" font-size="5.3" text-anchor="middle" fill="#333" stroke="#333" >0</text>
<text x="292.5" y="811.4" font-size="5.85" text-anchor="middle" fill="#111" stroke="#111" >112</text>
<text x="292.5" y="818.4" font-size="5.85" text-anchor="middle" fill="#111" stroke="#111" >152</text>
<line x1="292.5" y1="820.3" x2="292.5" y2="821.9" stroke="#4D4D4D" stroke-width="0.8" />
<text x="292.5" y="827.1" font-size="5.3" text-anchor="middle" fill="#333" stroke="#333" >1</text>
<text x="309.75" y="811.4" font-size="5.85" text-anchor="middle" fill="#111" stroke="#111" >57</text>
<text x="309.75" y="818.4" font-size="5.85" text-anchor="middle" fill="#111" stroke="#111" >86</text>
<line x1="309.75" y1="820.3" x2="309.75" y2="821.9" stroke="#4D4D4D" stroke-width="0.8" />
<text x="309.75" y="827.1" font-size="5.3" text-anchor="middle" fill="#333" stroke="#333" >2</text>
<text x="327" y="811.4" font-size="5.85" text-anchor="middle" fill="#111" stroke="#111" >37</text>
<text x="327" y="818.4" font-size="5.85" text-anchor="middle" fill="#111" stroke="#111" >56</text>
<line x1="327" y1="820.3" x2="327" y2="821.9" stroke="#4D4D4D" stroke-width="0.8" />
<text x="327" y="827.1" font-size="5.3" text-anchor="middle" fill="#333" stroke="#333" >3</text>
<text x="344.25" y="811.4" font-size="5.85" text-anchor="middle" fill="#111" stroke="#111" >25</text>
<text x="344.25" y="818.4" font-size="5.85" text-anchor="middle" fill="#111" stroke="#111" >41</text>
<line x1="344.25" y1="820.3" x2="344.25" y2="821.9" stroke="#4D4D4D" stroke-width="0.8" />
<text x="344.25" y="827.1" font-size="5.3" text-anchor="middle" fill="#333" stroke="#333" >4</text>
<text x="361.5" y="811.4" font-size="5.85" text-anchor="middle" fill="#111" stroke="#111" >16</text>
<text x="361.5" y="818.4" font-size="5.85" text-anchor="middle" fill="#111" stroke="#111" >27</text>
<line x1="361.5" y1="820.3" x2="361.5" y2="821.9" stroke="#4D4D4D" stroke-width="0.8" />
<text x="361.5" y="827.1" font-size="5.3" text-anchor="middle" fill="#333" stroke="#333" >5</text>
<text x="378.75" y="811.4" font-size="5.85" text-anchor="middle" fill="#111" stroke="#111" >13</text>
<text x="378.75" y="818.4" font-size="5.85" text-anchor="middle" fill="#111" stroke="#111" >16</text>
<line x1="378.75" y1="820.3" x2="378.75" y2="821.9" stroke="#4D4D4D" stroke-width="0.8" />
<text x="378.75" y="827.1" font-size="5.3" text-anchor="middle" fill="#333" stroke="#333" >6</text>
<text x="396" y="811.4" font-size="5.85" text-anchor="middle" fill="#111" stroke="#111" >5</text>
<text x="396" y="818.4" font-size="5.85" text-anchor="middle" fill="#111" stroke="#111" >4</text>
<line x1="396" y1="820.3" x2="396" y2="821.9" stroke="#4D4D4D" stroke-width="0.8" />
<text x="396" y="827.1" font-size="5.3" text-anchor="middle" fill="#333" stroke="#333" >7</text>
<text x="413.25" y="811.4" font-size="5.85" text-anchor="middle" fill="#111" stroke="#111" >3</text>
<text x="413.25" y="818.4" font-size="5.85" text-anchor="middle" fill="#111" stroke="#111" >3</text>
<line x1="413.25" y1="820.3" x2="413.25" y2="821.9" stroke="#4D4D4D" stroke-width="0.8" />
<text x="413.25" y="827.1" font-size="5.3" text-anchor="middle" fill="#333" stroke="#333" >8</text>
<text x="430.5" y="811.4" font-size="5.85" text-anchor="middle" fill="#111" stroke="#111" >2</text>
<text x="430.5" y="818.4" font-size="5.85" text-anchor="middle" fill="#111" stroke="#111" >2</text>
<line x1="430.5" y1="820.3" x2="430.5" y2="821.9" stroke="#4D4D4D" stroke-width="0.8" />
<text x="430.5" y="827.1" font-size="5.3" text-anchor="middle" fill="#333" stroke="#333" >9</text>
<text x="447.75" y="811.4" font-size="5.85" text-anchor="middle" fill="#111" stroke="#111" >1</text>
<text x="447.75" y="818.4" font-size="5.85" text-anchor="middle" fill="#111" stroke="#111" >0</text>
<line x1="447.75" y1="820.3" x2="447.75" y2="821.9" stroke="#4D4D4D" stroke-width="0.8" />
<text x="447.75" y="827.1" font-size="5.3" text-anchor="middle" fill="#333" stroke="#333" >10</text>
<text x="361.5" y="834" font-size="6.3" text-anchor="middle" fill="#111" stroke="#111" >Time (years)</text>
<text transform="translate(250.1,812.8) rotate(-90)" font-size="6.6" text-anchor="middle" fill="#111" stroke="#111">KIF2C</text>
<text x="460.7" y="667.2" font-size="14.2" text-anchor="start" fill="#000" stroke="#000" >K</text>
<text x="549.29" y="665.45" font-size="4.65" text-anchor="start" fill="#222" stroke="#222" >TROAP</text>
<line x1="568.21" y1="663.8" x2="574.81" y2="663.8" stroke="#F8774F" stroke-width="0.9" />
<line x1="571.51" y1="662.6" x2="571.51" y2="665" stroke="#F8774F" stroke-width="0.6" />
<text x="577.51" y="665.45" font-size="4.65" text-anchor="start" fill="#222" stroke="#222" >High</text>
<line x1="590.28" y1="663.8" x2="596.88" y2="663.8" stroke="#65CDDD" stroke-width="0.9" />
<line x1="593.58" y1="662.6" x2="593.58" y2="665" stroke="#65CDDD" stroke-width="0.6" />
<text x="600.18" y="665.45" font-size="4.65" text-anchor="start" fill="#222" stroke="#222" >Low</text>
<line x1="484" y1="676.1" x2="484" y2="773.95" stroke="#4D4D4D" stroke-width="0.9" />
<line x1="483.55" y1="773.5" x2="674.1" y2="773.5" stroke="#4D4D4D" stroke-width="0.9" />
<line x1="482.4" y1="680.8" x2="484" y2="680.8" stroke="#4D4D4D" stroke-width="0.8" />
<text x="481" y="682.7" font-size="5.3" text-anchor="end" fill="#333" stroke="#333" >1.00</text>
<line x1="482.4" y1="702.97" x2="484" y2="702.97" stroke="#4D4D4D" stroke-width="0.8" />
<text x="481" y="704.87" font-size="5.3" text-anchor="end" fill="#333" stroke="#333" >0.75</text>
<line x1="482.4" y1="725.15" x2="484" y2="725.15" stroke="#4D4D4D" stroke-width="0.8" />
<text x="481" y="727.05" font-size="5.3" text-anchor="end" fill="#333" stroke="#333" >0.50</text>
<line x1="482.4" y1="747.32" x2="484" y2="747.32" stroke="#4D4D4D" stroke-width="0.8" />
<text x="481" y="749.22" font-size="5.3" text-anchor="end" fill="#333" stroke="#333" >0.25</text>
<line x1="482.4" y1="769.5" x2="484" y2="769.5" stroke="#4D4D4D" stroke-width="0.8" />
<text x="481" y="771.4" font-size="5.3" text-anchor="end" fill="#333" stroke="#333" >0.00</text>
<line x1="492.75" y1="773.5" x2="492.75" y2="775.1" stroke="#4D4D4D" stroke-width="0.8" />
<text x="492.75" y="780.5" font-size="5.3" text-anchor="middle" fill="#333" stroke="#333" >0</text>
<line x1="510" y1="773.5" x2="510" y2="775.1" stroke="#4D4D4D" stroke-width="0.8" />
<text x="510" y="780.5" font-size="5.3" text-anchor="middle" fill="#333" stroke="#333" >1</text>
<line x1="527.25" y1="773.5" x2="527.25" y2="775.1" stroke="#4D4D4D" stroke-width="0.8" />
<text x="527.25" y="780.5" font-size="5.3" text-anchor="middle" fill="#333" stroke="#333" >2</text>
<line x1="544.5" y1="773.5" x2="544.5" y2="775.1" stroke="#4D4D4D" stroke-width="0.8" />
<text x="544.5" y="780.5" font-size="5.3" text-anchor="middle" fill="#333" stroke="#333" >3</text>
<line x1="561.75" y1="773.5" x2="561.75" y2="775.1" stroke="#4D4D4D" stroke-width="0.8" />
<text x="561.75" y="780.5" font-size="5.3" text-anchor="middle" fill="#333" stroke="#333" >4</text>
<line x1="579" y1="773.5" x2="579" y2="775.1" stroke="#4D4D4D" stroke-width="0.8" />
<text x="579" y="780.5" font-size="5.3" text-anchor="middle" fill="#333" stroke="#333" >5</text>
<line x1="596.25" y1="773.5" x2="596.25" y2="775.1" stroke="#4D4D4D" stroke-width="0.8" />
<text x="596.25" y="780.5" font-size="5.3" text-anchor="middle" fill="#333" stroke="#333" >6</text>
<line x1="613.5" y1="773.5" x2="613.5" y2="775.1" stroke="#4D4D4D" stroke-width="0.8" />
<text x="613.5" y="780.5" font-size="5.3" text-anchor="middle" fill="#333" stroke="#333" >7</text>
<line x1="630.75" y1="773.5" x2="630.75" y2="775.1" stroke="#4D4D4D" stroke-width="0.8" />
<text x="630.75" y="780.5" font-size="5.3" text-anchor="middle" fill="#333" stroke="#333" >8</text>
<line x1="648" y1="773.5" x2="648" y2="775.1" stroke="#4D4D4D" stroke-width="0.8" />
<text x="648" y="780.5" font-size="5.3" text-anchor="middle" fill="#333" stroke="#333" >9</text>
<line x1="665.25" y1="773.5" x2="665.25" y2="775.1" stroke="#4D4D4D" stroke-width="0.8" />
<text x="665.25" y="780.5" font-size="5.3" text-anchor="middle" fill="#333" stroke="#333" >10</text>
<text x="579" y="788.1" font-size="6.3" text-anchor="middle" fill="#111" stroke="#111" >Time (years)</text>
<text transform="translate(467.9,725.2) rotate(-90)" font-size="6.5" text-anchor="middle" fill="#111" stroke="#111">Overall survival</text>
<text x="496" y="755.1" font-size="7.8" text-anchor="start" fill="#111" stroke="#111" >p=0.008</text>
<path d="M491.91 681.51H492.59V682.15H493.26V682.79H493.94V683.43H494.61V684.06H495.29V684.70H495.96V685.34H496.50V685.93H497.04V686.51H497.58V687.10H498.12V687.68H498.66V688.27H499.20V688.85H499.80V689.45H500.40V690.05H501.00V690.65H501.61V691.25H502.21V691.85H502.81V692.46H503.41V693.06H504.01V693.66H504.61V694.26H505.07V695.22H505.53V696.18H505.99V697.15H506.46V698.11H506.92V699.08H507.38V700.04H507.85V701.01H508.39V701.61H508.93V702.21H509.47V702.81H510.01V703.41H510.55V704.01H511.09V704.61H511.63V705.21H512.17V705.81H512.71V706.41H514.51V707.13H516.31V707.85H518.11V708.57H518.78V709.14H519.46V709.72H520.14V710.29H520.81V710.86H521.49V711.44H522.16V712.01H522.84V712.59H523.51V713.16H524.09V713.74H524.67V714.32H525.25V714.90H525.83V715.48H526.40V716.05H526.98V716.63H527.56V717.21H528.46V717.93H529.36V718.65H530.26V719.37H537.01V720.45H540.62V721.17H544.22V721.89H547.82V722.61H550.52V723.33H553.22V724.05H555.92V724.77H558.62V725.40H561.32V726.03H564.02V726.66H568.07V727.34H572.12V728.01H574.15V728.69H576.18V729.37H578.20V730.04H580.23V730.72H607.77V730.72H608.18V731.73H608.58V732.74H608.99V733.75H609.39V734.77H609.84V735.98H610.29V737.20H610.74V738.41H611.19V739.63H611.64V740.84H612.09V742.06H640.18V742.06H640.72V751.78H666.65V751.78" fill="none" stroke="#F8774F" stroke-width="1.15"/>
<path d="M493.09 681.37v2.5M493.62 681.88v2.5M495.63 683.78v2.5M496.85 685.06v2.5M497.35 685.59v2.5M498.48 686.82v2.5M499.73 688.13v2.5M501.25 689.65v2.5M501.54 689.94v2.5M503.18 691.58v2.5M504.17 692.57v2.5M504.97 693.77v2.5M505.89 695.67v2.5M506.94 697.87v2.5M507.21 698.42v2.5M508.71 700.71v2.5M509.17 701.23v2.5M510.55 702.76v2.5M511.60 703.93v2.5M511.91 704.28v2.5M514.26 705.78v2.5M516.30 706.60v2.5M516.84 706.81v2.5M518.14 707.35v2.5M519.61 708.60v2.5M522.13 710.73v2.5M522.17 710.77v2.5M524.43 712.83v2.5M524.68 713.08v2.5M526.28 714.68v2.5M526.65 715.05v2.5M527.79 716.14v2.5M529.83 717.78v2.5M530.47 718.15v2.5M533.28 718.60v2.5M536.83 719.17v2.5M538.30 719.46v2.5M540.40 719.88v2.5M542.38 720.28v2.5M542.48 720.29v2.5M544.64 720.73v2.5M547.44 721.29v2.5M548.93 721.66v2.5M549.50 721.81v2.5M551.88 722.45v2.5M553.05 722.76v2.5M555.00 723.28v2.5M556.13 723.57v2.5M557.99 724.01v2.5M561.98 724.94v2.5M562.64 725.09v2.5M565.80 725.71v2.5M566.29 725.79v2.5M569.06 726.25v2.5M570.37 726.47v2.5M572.82 727.00v2.5M574.03 727.40v2.5M576.48 728.22v2.5M577.23 728.46v2.5M579.80 729.32v2.5M582.99 729.47v2.5M586.35 729.47v2.5M593.19 729.47v2.5M599.49 729.47v2.5M607.33 729.47v2.5M608.06 730.17v2.5M608.76 731.93v2.5" stroke="#F8774F" stroke-width="0.75" fill="none"/>
<path d="M619.20 740.76v2.6M640.13 740.76v2.6M648.11 750.48v2.6M664.87 750.48v2.6" stroke="#F8774F" stroke-width="0.7" fill="none"/>
<path d="M491.91 681.51H492.56V682.06H493.21V682.61H493.86V683.16H494.51V683.71H495.15V684.26H496.17V684.94H497.18V685.61H498.19V686.29H499.20V686.96H501.91V687.59H504.61V688.22H507.31V688.85H508.66V689.44H510.01V690.02H511.36V690.61H512.71V691.19H514.06V691.78H515.41V692.36H517.03V693.01H518.65V693.66H520.27V694.31H521.89V694.96H523.51V695.61H524.48V696.18H525.44V696.76H526.40V697.34H527.37V697.92H528.33V698.50H529.30V699.08H530.26V699.66H530.71V700.42H531.16V701.19H531.61V701.95H532.06V702.72H532.51V703.48H532.96V704.25H539.04V705.06H545.12V705.87H546.74V706.52H548.36V707.16H549.98V707.81H551.60V708.46H553.22V709.11H554.38V709.69H555.53V710.27H556.69V710.85H557.85V711.42H559.01V712.00H560.16V712.58H561.32V713.16H563.35V713.84H565.37V714.51H567.40V715.19H569.42V715.86H570.10V716.44H570.77V717.01H571.45V717.58H572.12V718.16H572.80V718.73H573.47V719.30H574.15V719.88H574.82V720.45H576.18V721.13H577.53V721.80H578.88V722.48H580.23V723.15H592.38V723.15H592.78V725.58H593.19V728.01H608.58V728.01H609.03V730.00H609.48V731.98H609.93V733.96H610.38V735.31H610.83V736.66H611.28V738.01H611.73V739.36H612.19V740.71H612.64V742.06H646.39V742.06H646.93V750.97H655.85V750.97" fill="none" stroke="#65CDDD" stroke-width="1.15"/>
<path d="M493.24 681.38v2.5M493.73 681.80v2.5M495.36 683.15v2.5M496.84 684.14v2.5M497.99 684.91v2.5M499.93 685.88v2.5M502.86 686.57v2.5M504.31 686.91v2.5M506.20 687.35v2.5M507.45 687.67v2.5M509.57 688.58v2.5M512.16 689.71v2.5M513.29 690.20v2.5M514.52 690.73v2.5M516.18 691.43v2.5M518.32 692.28v2.5M519.88 692.90v2.5M520.51 693.16v2.5M522.99 694.15v2.5M524.01 694.65v2.5M525.56 695.59v2.5M526.53 696.17v2.5M528.06 697.09v2.5M529.37 697.87v2.5M530.61 698.99v2.5M531.18 699.96v2.5M532.24 701.78v2.5M534.12 703.15v2.5M535.11 703.28v2.5M537.38 703.59v2.5M540.49 704.00v2.5M541.62 704.15v2.5M543.75 704.44v2.5M545.51 704.78v2.5M548.09 705.81v2.5M548.51 705.97v2.5M551.01 706.98v2.5M552.99 707.77v2.5M553.49 708.00v2.5M555.14 708.82v2.5M556.99 709.74v2.5M558.10 710.30v2.5M559.12 710.81v2.5M560.03 711.27v2.5M562.04 712.15v2.5M563.54 712.65v2.5M565.72 713.38v2.5M566.66 713.69v2.5M568.46 714.29v2.5M570.30 715.36v2.5M571.87 716.69v2.5M572.60 717.31v2.5M573.99 718.50v2.5M575.61 719.59v2.5M577.42 720.50v2.5M577.78 720.68v2.5M580.19 721.88v2.5M584.55 721.90v2.5M588.57 721.90v2.5M592.65 723.52v2.5M592.92 725.13v2.5M593.55 726.76v2.5M602.20 726.76v2.5M605.40 726.76v2.5M608.82 727.81v2.5M609.26 729.73v2.5M609.89 732.51v2.5" stroke="#65CDDD" stroke-width="0.75" fill="none"/>
<path d="M628.18 740.76v2.6" stroke="#65CDDD" stroke-width="0.7" fill="none"/>
<line x1="484" y1="804.5" x2="484" y2="820.35" stroke="#4D4D4D" stroke-width="0.9" />
<line x1="483.55" y1="819.9" x2="674.1" y2="819.9" stroke="#4D4D4D" stroke-width="0.9" />
<line x1="482.4" y1="808.5" x2="484" y2="808.5" stroke="#4D4D4D" stroke-width="0.8" />
<line x1="482.4" y1="815.5" x2="484" y2="815.5" stroke="#4D4D4D" stroke-width="0.8" />
<text x="481.2" y="810.45" font-size="5.4" text-anchor="end" fill="#F8774F" stroke="#F8774F" style="stroke-width:0.05px">High</text>
<text x="481.2" y="817.45" font-size="5.4" text-anchor="end" fill="#65CDDD" stroke="#65CDDD" style="stroke-width:0.05px">Low</text>
<text x="492.75" y="811" font-size="5.85" text-anchor="middle" fill="#111" stroke="#111" >184</text>
<text x="492.75" y="818" font-size="5.85" text-anchor="middle" fill="#111" stroke="#111" >184</text>
<line x1="492.75" y1="819.9" x2="492.75" y2="821.5" stroke="#4D4D4D" stroke-width="0.8" />
<text x="492.75" y="826.7" font-size="5.3" text-anchor="middle" fill="#333" stroke="#333" >0</text>
<text x="510" y="811" font-size="5.85" text-anchor="middle" fill="#111" stroke="#111" >119</text>
<text x="510" y="818" font-size="5.85" text-anchor="middle" fill="#111" stroke="#111" >145</text>
<line x1="510" y1="819.9" x2="510" y2="821.5" stroke="#4D4D4D" stroke-width="0.8" />
<text x="510" y="826.7" font-size="5.3" text-anchor="middle" fill="#333" stroke="#333" >1</text>
<text x="527.25" y="811" font-size="5.85" text-anchor="middle" fill="#111" stroke="#111" >62</text>
<text x="527.25" y="818" font-size="5.85" text-anchor="middle" fill="#111" stroke="#111" >81</text>
<line x1="527.25" y1="819.9" x2="527.25" y2="821.5" stroke="#4D4D4D" stroke-width="0.8" />
<text x="527.25" y="826.7" font-size="5.3" text-anchor="middle" fill="#333" stroke="#333" >2</text>
<text x="544.5" y="811" font-size="5.85" text-anchor="middle" fill="#111" stroke="#111" >42</text>
<text x="544.5" y="818" font-size="5.85" text-anchor="middle" fill="#111" stroke="#111" >51</text>
<line x1="544.5" y1="819.9" x2="544.5" y2="821.5" stroke="#4D4D4D" stroke-width="0.8" />
<text x="544.5" y="826.7" font-size="5.3" text-anchor="middle" fill="#333" stroke="#333" >3</text>
<text x="561.75" y="811" font-size="5.85" text-anchor="middle" fill="#111" stroke="#111" >29</text>
<text x="561.75" y="818" font-size="5.85" text-anchor="middle" fill="#111" stroke="#111" >37</text>
<line x1="561.75" y1="819.9" x2="561.75" y2="821.5" stroke="#4D4D4D" stroke-width="0.8" />
<text x="561.75" y="826.7" font-size="5.3" text-anchor="middle" fill="#333" stroke="#333" >4</text>
<text x="579" y="811" font-size="5.85" text-anchor="middle" fill="#111" stroke="#111" >18</text>
<text x="579" y="818" font-size="5.85" text-anchor="middle" fill="#111" stroke="#111" >25</text>
<line x1="579" y1="819.9" x2="579" y2="821.5" stroke="#4D4D4D" stroke-width="0.8" />
<text x="579" y="826.7" font-size="5.3" text-anchor="middle" fill="#333" stroke="#333" >5</text>
<text x="596.25" y="811" font-size="5.85" text-anchor="middle" fill="#111" stroke="#111" >13</text>
<text x="596.25" y="818" font-size="5.85" text-anchor="middle" fill="#111" stroke="#111" >16</text>
<line x1="596.25" y1="819.9" x2="596.25" y2="821.5" stroke="#4D4D4D" stroke-width="0.8" />
<text x="596.25" y="826.7" font-size="5.3" text-anchor="middle" fill="#333" stroke="#333" >6</text>
<text x="613.5" y="811" font-size="5.85" text-anchor="middle" fill="#111" stroke="#111" >5</text>
<text x="613.5" y="818" font-size="5.85" text-anchor="middle" fill="#111" stroke="#111" >4</text>
<line x1="613.5" y1="819.9" x2="613.5" y2="821.5" stroke="#4D4D4D" stroke-width="0.8" />
<text x="613.5" y="826.7" font-size="5.3" text-anchor="middle" fill="#333" stroke="#333" >7</text>
<text x="630.75" y="811" font-size="5.85" text-anchor="middle" fill="#111" stroke="#111" >3</text>
<text x="630.75" y="818" font-size="5.85" text-anchor="middle" fill="#111" stroke="#111" >3</text>
<line x1="630.75" y1="819.9" x2="630.75" y2="821.5" stroke="#4D4D4D" stroke-width="0.8" />
<text x="630.75" y="826.7" font-size="5.3" text-anchor="middle" fill="#333" stroke="#333" >8</text>
<text x="648" y="811" font-size="5.85" text-anchor="middle" fill="#111" stroke="#111" >2</text>
<text x="648" y="818" font-size="5.85" text-anchor="middle" fill="#111" stroke="#111" >2</text>
<line x1="648" y1="819.9" x2="648" y2="821.5" stroke="#4D4D4D" stroke-width="0.8" />
<text x="648" y="826.7" font-size="5.3" text-anchor="middle" fill="#333" stroke="#333" >9</text>
<text x="665.25" y="811" font-size="5.85" text-anchor="middle" fill="#111" stroke="#111" >1</text>
<text x="665.25" y="818" font-size="5.85" text-anchor="middle" fill="#111" stroke="#111" >0</text>
<line x1="665.25" y1="819.9" x2="665.25" y2="821.5" stroke="#4D4D4D" stroke-width="0.8" />
<text x="665.25" y="826.7" font-size="5.3" text-anchor="middle" fill="#333" stroke="#333" >10</text>
<text x="579" y="833.6" font-size="6.3" text-anchor="middle" fill="#111" stroke="#111" >Time (years)</text>
<text transform="translate(467.6,812.4) rotate(-90)" font-size="6.6" text-anchor="middle" fill="#111" stroke="#111">TROAP</text>
<text x="22.7" y="847.9" font-size="14.2" text-anchor="start" fill="#000" stroke="#000" >L</text>
<text x="105.51" y="845.35" font-size="4.65" text-anchor="start" fill="#222" stroke="#222" >CENPM</text>
<line x1="125.2" y1="843.7" x2="131.8" y2="843.7" stroke="#F8774F" stroke-width="0.9" />
<line x1="128.5" y1="842.5" x2="128.5" y2="844.9" stroke="#F8774F" stroke-width="0.6" />
<text x="134.5" y="845.35" font-size="4.65" text-anchor="start" fill="#222" stroke="#222" >High</text>
<line x1="147.26" y1="843.7" x2="153.86" y2="843.7" stroke="#65CDDD" stroke-width="0.9" />
<line x1="150.56" y1="842.5" x2="150.56" y2="844.9" stroke="#65CDDD" stroke-width="0.6" />
<text x="157.16" y="845.35" font-size="4.65" text-anchor="start" fill="#222" stroke="#222" >Low</text>
<line x1="40.6" y1="856" x2="40.6" y2="953.85" stroke="#4D4D4D" stroke-width="0.9" />
<line x1="40.15" y1="953.4" x2="230.7" y2="953.4" stroke="#4D4D4D" stroke-width="0.9" />
<line x1="39" y1="860.7" x2="40.6" y2="860.7" stroke="#4D4D4D" stroke-width="0.8" />
<text x="37.6" y="862.6" font-size="5.3" text-anchor="end" fill="#333" stroke="#333" >1.00</text>
<line x1="39" y1="882.88" x2="40.6" y2="882.88" stroke="#4D4D4D" stroke-width="0.8" />
<text x="37.6" y="884.77" font-size="5.3" text-anchor="end" fill="#333" stroke="#333" >0.75</text>
<line x1="39" y1="905.05" x2="40.6" y2="905.05" stroke="#4D4D4D" stroke-width="0.8" />
<text x="37.6" y="906.95" font-size="5.3" text-anchor="end" fill="#333" stroke="#333" >0.50</text>
<line x1="39" y1="927.23" x2="40.6" y2="927.23" stroke="#4D4D4D" stroke-width="0.8" />
<text x="37.6" y="929.12" font-size="5.3" text-anchor="end" fill="#333" stroke="#333" >0.25</text>
<line x1="39" y1="949.4" x2="40.6" y2="949.4" stroke="#4D4D4D" stroke-width="0.8" />
<text x="37.6" y="951.3" font-size="5.3" text-anchor="end" fill="#333" stroke="#333" >0.00</text>
<line x1="49.35" y1="953.4" x2="49.35" y2="955" stroke="#4D4D4D" stroke-width="0.8" />
<text x="49.35" y="960.4" font-size="5.3" text-anchor="middle" fill="#333" stroke="#333" >0</text>
<line x1="66.6" y1="953.4" x2="66.6" y2="955" stroke="#4D4D4D" stroke-width="0.8" />
<text x="66.6" y="960.4" font-size="5.3" text-anchor="middle" fill="#333" stroke="#333" >1</text>
<line x1="83.85" y1="953.4" x2="83.85" y2="955" stroke="#4D4D4D" stroke-width="0.8" />
<text x="83.85" y="960.4" font-size="5.3" text-anchor="middle" fill="#333" stroke="#333" >2</text>
<line x1="101.1" y1="953.4" x2="101.1" y2="955" stroke="#4D4D4D" stroke-width="0.8" />
<text x="101.1" y="960.4" font-size="5.3" text-anchor="middle" fill="#333" stroke="#333" >3</text>
<line x1="118.35" y1="953.4" x2="118.35" y2="955" stroke="#4D4D4D" stroke-width="0.8" />
<text x="118.35" y="960.4" font-size="5.3" text-anchor="middle" fill="#333" stroke="#333" >4</text>
<line x1="135.6" y1="953.4" x2="135.6" y2="955" stroke="#4D4D4D" stroke-width="0.8" />
<text x="135.6" y="960.4" font-size="5.3" text-anchor="middle" fill="#333" stroke="#333" >5</text>
<line x1="152.85" y1="953.4" x2="152.85" y2="955" stroke="#4D4D4D" stroke-width="0.8" />
<text x="152.85" y="960.4" font-size="5.3" text-anchor="middle" fill="#333" stroke="#333" >6</text>
<line x1="170.1" y1="953.4" x2="170.1" y2="955" stroke="#4D4D4D" stroke-width="0.8" />
<text x="170.1" y="960.4" font-size="5.3" text-anchor="middle" fill="#333" stroke="#333" >7</text>
<line x1="187.35" y1="953.4" x2="187.35" y2="955" stroke="#4D4D4D" stroke-width="0.8" />
<text x="187.35" y="960.4" font-size="5.3" text-anchor="middle" fill="#333" stroke="#333" >8</text>
<line x1="204.6" y1="953.4" x2="204.6" y2="955" stroke="#4D4D4D" stroke-width="0.8" />
<text x="204.6" y="960.4" font-size="5.3" text-anchor="middle" fill="#333" stroke="#333" >9</text>
<line x1="221.85" y1="953.4" x2="221.85" y2="955" stroke="#4D4D4D" stroke-width="0.8" />
<text x="221.85" y="960.4" font-size="5.3" text-anchor="middle" fill="#333" stroke="#333" >10</text>
<text x="135.6" y="968" font-size="6.3" text-anchor="middle" fill="#111" stroke="#111" >Time (years)</text>
<text transform="translate(24.5,905.1) rotate(-90)" font-size="6.5" text-anchor="middle" fill="#111" stroke="#111">Overall survival</text>
<text x="52.6" y="935" font-size="7.8" text-anchor="start" fill="#111" stroke="#111" >p<0.001</text>
<path d="M48.91 860.51H49.59V861.15H50.26V861.79H50.94V862.43H51.61V863.06H52.29V863.70H52.96V864.34H53.43V865.04H53.89V865.73H54.35V866.43H54.82V867.12H55.28V867.82H55.74V868.51H56.20V869.20H56.88V869.81H57.55V870.42H58.23V871.03H58.91V871.64H59.58V872.24H60.26V872.85H60.93V873.46H61.61V874.07H62.07V874.91H62.53V875.76H62.99V876.61H63.46V877.46H63.92V878.31H64.38V879.16H64.85V880.01H65.33V880.68H65.82V881.36H66.31V882.03H66.79V882.71H67.28V883.38H67.76V884.06H68.25V884.73H68.74V885.41H69.22V886.08H69.71V886.76H71.51V887.39H73.31V888.02H75.11V888.65H76.01V889.23H76.91V889.82H77.81V890.41H78.71V890.99H79.61V891.58H80.51V892.16H81.02V892.73H81.52V893.31H82.03V893.88H82.54V894.46H83.04V895.03H83.55V895.60H84.06V896.18H84.56V896.75H85.46V897.47H86.36V898.19H87.26V898.91H90.64V899.59H94.01V900.26H97.62V900.89H101.22V901.52H104.82V902.15H107.52V902.87H110.22V903.59H112.92V904.31H114.27V904.99H115.62V905.66H116.97V906.34H118.32V907.01H121.02V907.73H123.72V908.46H126.42V909.18H128.67V909.81H130.92V910.44H133.18V911.07H134.19V911.74H135.20V912.42H136.21V913.09H137.23V913.77H165.58V913.77H166.03V915.84H166.48V917.91H166.93V919.98H167.37V921.17H167.80V922.35H168.23V923.54H168.66V924.73H169.09V925.92H197.18V925.92H197.72V933.48H223.65V933.48" fill="none" stroke="#F8774F" stroke-width="1.15"/>
<path d="M49.84 860.13v2.5M50.47 860.73v2.5M51.69 861.89v2.5M53.53 863.94v2.5M53.81 864.36v2.5M55.26 866.54v2.5M55.63 867.10v2.5M56.46 868.18v2.5M57.91 869.49v2.5M58.71 870.21v2.5M60.05 871.42v2.5M60.69 871.99v2.5M62.34 874.17v2.5M62.68 874.78v2.5M63.91 877.04v2.5M64.16 877.50v2.5M65.62 879.84v2.5M66.77 881.43v2.5M67.17 881.99v2.5M67.80 882.85v2.5M69.11 884.67v2.5M70.86 885.91v2.5M71.91 886.28v2.5M74.29 887.11v2.5M75.24 887.48v2.5M77.09 888.69v2.5M78.79 889.79v2.5M79.74 890.41v2.5M81.20 891.69v2.5M81.64 892.19v2.5M83.38 894.16v2.5M83.67 894.49v2.5M85.81 896.50v2.5M87.26 897.66v2.5M88.85 897.98v2.5M89.84 898.18v2.5M91.13 898.44v2.5M92.91 898.79v2.5M95.37 899.25v2.5M96.71 899.48v2.5M99.29 899.94v2.5M99.58 899.99v2.5M102.09 900.43v2.5M104.57 900.86v2.5M105.79 901.16v2.5M107.31 901.57v2.5M108.20 901.81v2.5M109.91 902.26v2.5M111.74 902.75v2.5M114.13 903.67v2.5M115.41 904.31v2.5M115.93 904.57v2.5M118.22 905.71v2.5M118.37 905.78v2.5M120.91 906.46v2.5M123.13 907.05v2.5M123.74 907.21v2.5M126.33 907.90v2.5M127.53 908.24v2.5M128.20 908.42v2.5M130.36 909.03v2.5M132.25 909.56v2.5M133.51 910.04v2.5M135.53 911.38v2.5M136.12 911.78v2.5M141.69 912.52v2.5M144.59 912.52v2.5M148.96 912.52v2.5M157.41 912.52v2.5M160.46 912.52v2.5M165.83 913.66v2.5M166.39 916.22v2.5M166.75 917.89v2.5" stroke="#F8774F" stroke-width="0.75" fill="none"/>
<path d="M168.27 922.24v2.6M169.99 924.62v2.6M206.26 932.18v2.6M222.43 932.18v2.6" stroke="#F8774F" stroke-width="0.7" fill="none"/>
<path d="M48.91 860.51H49.56V861.17H50.21V861.83H50.86V862.48H51.51V863.14H52.15V863.80H56.88V864.48H61.61V865.15H63.63V865.83H65.66V866.50H67.68V867.18H69.71V867.85H71.51V868.48H73.31V869.11H75.11V869.74H75.78V870.35H76.46V870.96H77.14V871.57H77.81V872.18H78.49V872.78H79.16V873.39H79.84V874.00H80.51V874.61H81.48V875.18H82.44V875.76H83.40V876.34H84.37V876.92H85.33V877.50H86.30V878.08H87.26V878.66H87.71V879.42H88.16V880.19H88.61V880.95H89.06V881.72H89.51V882.48H89.96V883.25H94.01V883.97H98.07V884.69H102.12V885.41H104.14V886.08H106.17V886.76H108.19V887.43H110.22V888.11H112.24V888.78H114.27V889.46H116.30V890.14H118.32V890.81H119.94V891.46H121.56V892.11H123.18V892.75H124.80V893.40H126.42V894.05H127.39V894.67H128.35V895.29H129.32V895.90H130.28V896.52H131.25V897.14H132.21V897.75H133.18V898.37H137.23V899.45H149.38V899.45H149.78V902.15H150.19V904.85H165.58V904.85H165.99V907.55H166.39V910.26H166.84V911.43H167.29V912.60H167.74V913.77H168.19V914.94H168.64V916.11H169.09V917.28H203.39V917.28H203.93V927.27H212.85V927.27" fill="none" stroke="#65CDDD" stroke-width="1.15"/>
<path d="M49.13 859.48v2.5M50.67 861.04v2.5M51.99 862.38v2.5M53.64 862.77v2.5M54.22 862.85v2.5M57.29 863.29v2.5M58.48 863.46v2.5M60.02 863.68v2.5M63.17 864.42v2.5M64.32 864.81v2.5M66.05 865.39v2.5M66.69 865.60v2.5M69.43 866.51v2.5M71.40 867.19v2.5M73.14 867.80v2.5M74.65 868.33v2.5M76.01 869.30v2.5M77.06 870.25v2.5M77.91 871.01v2.5M78.82 871.83v2.5M80.32 873.19v2.5M81.57 873.99v2.5M83.04 874.87v2.5M83.62 875.22v2.5M85.86 876.57v2.5M86.63 877.03v2.5M88.11 878.85v2.5M88.27 879.11v2.5M89.94 881.95v2.5M91.33 882.24v2.5M92.14 882.38v2.5M94.89 882.87v2.5M95.58 883.00v2.5M97.25 883.29v2.5M99.44 883.68v2.5M100.79 883.92v2.5M102.92 884.42v2.5M105.21 885.19v2.5M106.47 885.61v2.5M108.13 886.16v2.5M109.23 886.53v2.5M111.49 887.28v2.5M113.13 887.83v2.5M114.57 888.31v2.5M116.61 888.99v2.5M118.04 889.47v2.5M118.98 889.82v2.5M120.08 890.26v2.5M122.62 891.28v2.5M124.54 892.05v2.5M125.35 892.37v2.5M127.23 893.32v2.5M128.90 894.39v2.5M130.19 895.21v2.5M130.48 895.40v2.5M132.49 896.68v2.5M133.21 897.13v2.5M135.42 897.72v2.5M142.16 898.20v2.5M145.85 898.20v2.5M149.54 899.29v2.5M149.77 900.83v2.5M150.01 902.41v2.5M151.29 903.60v2.5M157.14 903.60v2.5M164.79 903.60v2.5M165.75 904.72v2.5M165.93 905.93v2.5M166.15 907.36v2.5" stroke="#65CDDD" stroke-width="0.75" fill="none"/>
<line x1="40.6" y1="984.4" x2="40.6" y2="1000.25" stroke="#4D4D4D" stroke-width="0.9" />
<line x1="40.15" y1="999.8" x2="230.7" y2="999.8" stroke="#4D4D4D" stroke-width="0.9" />
<line x1="39" y1="988.4" x2="40.6" y2="988.4" stroke="#4D4D4D" stroke-width="0.8" />
<line x1="39" y1="995.4" x2="40.6" y2="995.4" stroke="#4D4D4D" stroke-width="0.8" />
<text x="37.8" y="990.35" font-size="5.4" text-anchor="end" fill="#F8774F" stroke="#F8774F" style="stroke-width:0.05px">High</text>
<text x="37.8" y="997.35" font-size="5.4" text-anchor="end" fill="#65CDDD" stroke="#65CDDD" style="stroke-width:0.05px">Low</text>
<text x="49.35" y="990.9" font-size="5.85" text-anchor="middle" fill="#111" stroke="#111" >184</text>
<text x="49.35" y="997.9" font-size="5.85" text-anchor="middle" fill="#111" stroke="#111" >184</text>
<line x1="49.35" y1="999.8" x2="49.35" y2="1001.4" stroke="#4D4D4D" stroke-width="0.8" />
<text x="49.35" y="1006.6" font-size="5.3" text-anchor="middle" fill="#333" stroke="#333" >0</text>
<text x="66.6" y="990.9" font-size="5.85" text-anchor="middle" fill="#111" stroke="#111" >116</text>
<text x="66.6" y="997.9" font-size="5.85" text-anchor="middle" fill="#111" stroke="#111" >148</text>
<line x1="66.6" y1="999.8" x2="66.6" y2="1001.4" stroke="#4D4D4D" stroke-width="0.8" />
<text x="66.6" y="1006.6" font-size="5.3" text-anchor="middle" fill="#333" stroke="#333" >1</text>
<text x="83.85" y="990.9" font-size="5.85" text-anchor="middle" fill="#111" stroke="#111" >62</text>
<text x="83.85" y="997.9" font-size="5.85" text-anchor="middle" fill="#111" stroke="#111" >81</text>
<line x1="83.85" y1="999.8" x2="83.85" y2="1001.4" stroke="#4D4D4D" stroke-width="0.8" />
<text x="83.85" y="1006.6" font-size="5.3" text-anchor="middle" fill="#333" stroke="#333" >2</text>
<text x="101.1" y="990.9" font-size="5.85" text-anchor="middle" fill="#111" stroke="#111" >41</text>
<text x="101.1" y="997.9" font-size="5.85" text-anchor="middle" fill="#111" stroke="#111" >52</text>
<line x1="101.1" y1="999.8" x2="101.1" y2="1001.4" stroke="#4D4D4D" stroke-width="0.8" />
<text x="101.1" y="1006.6" font-size="5.3" text-anchor="middle" fill="#333" stroke="#333" >3</text>
<text x="118.35" y="990.9" font-size="5.85" text-anchor="middle" fill="#111" stroke="#111" >28</text>
<text x="118.35" y="997.9" font-size="5.85" text-anchor="middle" fill="#111" stroke="#111" >38</text>
<line x1="118.35" y1="999.8" x2="118.35" y2="1001.4" stroke="#4D4D4D" stroke-width="0.8" />
<text x="118.35" y="1006.6" font-size="5.3" text-anchor="middle" fill="#333" stroke="#333" >4</text>
<text x="135.6" y="990.9" font-size="5.85" text-anchor="middle" fill="#111" stroke="#111" >17</text>
<text x="135.6" y="997.9" font-size="5.85" text-anchor="middle" fill="#111" stroke="#111" >26</text>
<line x1="135.6" y1="999.8" x2="135.6" y2="1001.4" stroke="#4D4D4D" stroke-width="0.8" />
<text x="135.6" y="1006.6" font-size="5.3" text-anchor="middle" fill="#333" stroke="#333" >5</text>
<text x="152.85" y="990.9" font-size="5.85" text-anchor="middle" fill="#111" stroke="#111" >14</text>
<text x="152.85" y="997.9" font-size="5.85" text-anchor="middle" fill="#111" stroke="#111" >15</text>
<line x1="152.85" y1="999.8" x2="152.85" y2="1001.4" stroke="#4D4D4D" stroke-width="0.8" />
<text x="152.85" y="1006.6" font-size="5.3" text-anchor="middle" fill="#333" stroke="#333" >6</text>
<text x="170.1" y="990.9" font-size="5.85" text-anchor="middle" fill="#111" stroke="#111" >4</text>
<text x="170.1" y="997.9" font-size="5.85" text-anchor="middle" fill="#111" stroke="#111" >5</text>
<line x1="170.1" y1="999.8" x2="170.1" y2="1001.4" stroke="#4D4D4D" stroke-width="0.8" />
<text x="170.1" y="1006.6" font-size="5.3" text-anchor="middle" fill="#333" stroke="#333" >7</text>
<text x="187.35" y="990.9" font-size="5.85" text-anchor="middle" fill="#111" stroke="#111" >3</text>
<text x="187.35" y="997.9" font-size="5.85" text-anchor="middle" fill="#111" stroke="#111" >3</text>
<line x1="187.35" y1="999.8" x2="187.35" y2="1001.4" stroke="#4D4D4D" stroke-width="0.8" />
<text x="187.35" y="1006.6" font-size="5.3" text-anchor="middle" fill="#333" stroke="#333" >8</text>
<text x="204.6" y="990.9" font-size="5.85" text-anchor="middle" fill="#111" stroke="#111" >2</text>
<text x="204.6" y="997.9" font-size="5.85" text-anchor="middle" fill="#111" stroke="#111" >2</text>
<line x1="204.6" y1="999.8" x2="204.6" y2="1001.4" stroke="#4D4D4D" stroke-width="0.8" />
<text x="204.6" y="1006.6" font-size="5.3" text-anchor="middle" fill="#333" stroke="#333" >9</text>
<text x="221.85" y="990.9" font-size="5.85" text-anchor="middle" fill="#111" stroke="#111" >1</text>
<text x="221.85" y="997.9" font-size="5.85" text-anchor="middle" fill="#111" stroke="#111" >0</text>
<line x1="221.85" y1="999.8" x2="221.85" y2="1001.4" stroke="#4D4D4D" stroke-width="0.8" />
<text x="221.85" y="1006.6" font-size="5.3" text-anchor="middle" fill="#333" stroke="#333" >10</text>
<text x="135.6" y="1013.5" font-size="6.3" text-anchor="middle" fill="#111" stroke="#111" >Time (years)</text>
<text transform="translate(24.2,992.3) rotate(-90)" font-size="6.6" text-anchor="middle" fill="#111" stroke="#111">CENPM</text>
</g>
</svg>
</body></html>
